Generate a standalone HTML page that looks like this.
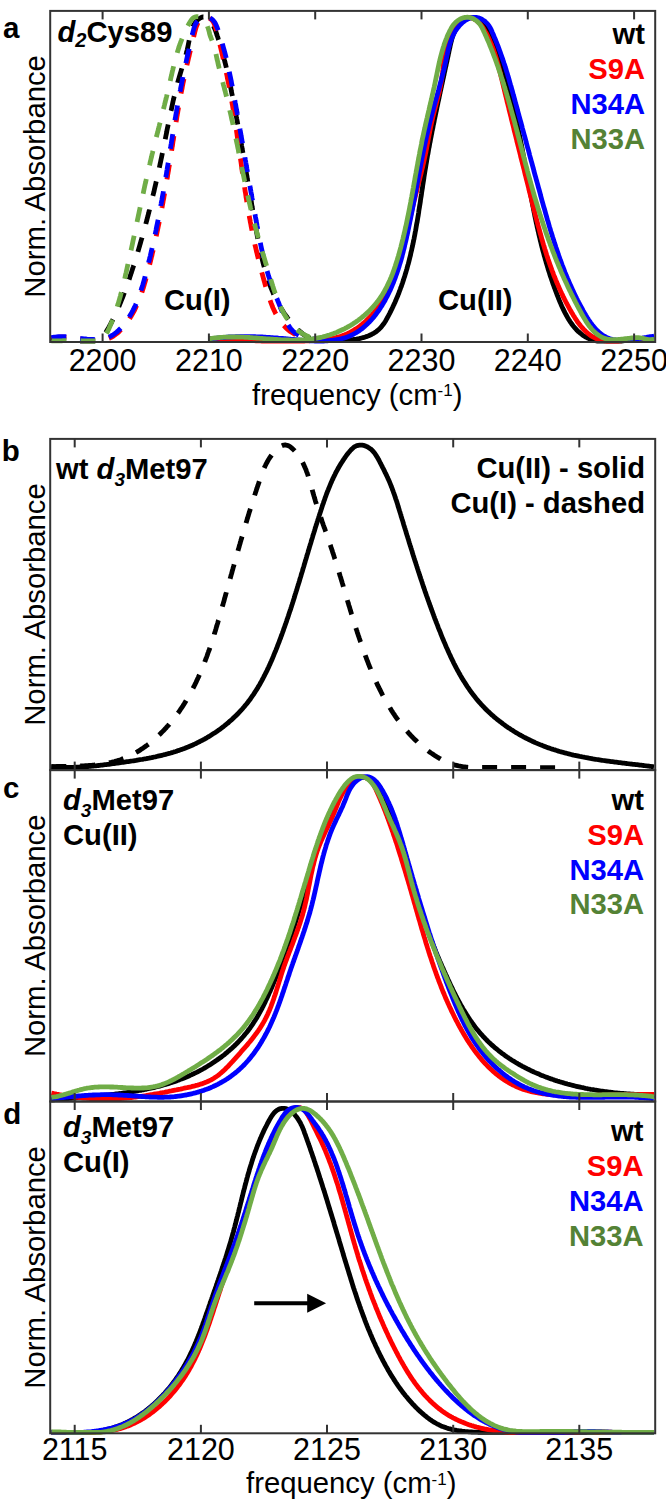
<!DOCTYPE html><html><head><meta charset="utf-8"><style>html,body{margin:0;padding:0;background:#fff;width:666px;height:1504px;overflow:hidden}svg{display:block}text{font-family:"Liberation Sans",sans-serif}</style></head><body>
<svg width="666" height="1504" viewBox="0 0 666 1504">
<path d="M51.3,340.3 L52.6,339.9 L53.8,339.6 L55.2,339.4 L56.5,339.2 L57.9,339.2 L59.4,339.1 L60.8,339.2 L62.3,339.2 L63.8,339.3 L65.4,339.5 L66.9,339.6 L68.5,339.8 L70.1,340.1 L71.6,340.3 L72.8,340.4 L74.0,340.6 L75.2,340.8 L76.8,341.0 L78.4,341.0 L79.9,341.0 L81.5,341.0 L83.0,341.0 L84.6,341.0 L86.1,341.0 L87.5,341.0 L89.0,341.0 L90.4,341.0 L91.8,341.0 L93.1,341.0 L94.4,341.0 L95.7,340.9 L96.9,340.5 L98.1,339.9 L99.2,339.3 L100.3,338.6 L101.3,337.8 L102.2,336.9 L103.1,335.9 L104.0,334.9 L104.8,333.8 L105.7,332.6 L106.4,331.4 L107.2,330.2 L107.9,328.9 L108.6,327.7 L109.3,326.4 L110.0,325.1 L110.7,323.8 L111.4,322.5 L112.0,321.2 L112.7,319.9 L113.4,318.6 L114.0,317.3 L114.6,316.0 L115.2,314.7 L115.9,313.3 L116.5,312.0 L117.1,310.7 L117.7,309.4 L118.2,308.0 L118.8,306.7 L119.4,305.3 L119.9,304.0 L120.5,302.6 L121.0,301.3 L121.6,299.9 L122.1,298.6 L122.7,297.2 L123.2,295.9 L123.7,294.5 L124.2,293.2 L124.7,291.8 L125.2,290.4 L125.7,289.1 L126.2,287.7 L126.7,286.3 L127.2,284.9 L127.7,283.6 L128.1,282.2 L128.6,280.8 L129.1,279.4 L129.6,278.1 L130.0,276.7 L130.5,275.3 L130.9,273.9 L131.4,272.6 L131.8,271.2 L132.3,269.8 L132.7,268.4 L133.2,267.0 L133.6,265.7 L134.1,264.3 L134.5,262.9 L134.9,261.5 L135.3,260.1 L135.8,258.7 L136.2,257.4 L136.6,256.0 L137.0,254.6 L137.5,253.2 L137.9,251.8 L138.3,250.4 L138.7,249.1 L139.1,247.7 L139.5,246.3 L139.9,244.9 L140.3,243.5 L140.7,242.1 L141.1,240.7 L141.5,239.4 L141.9,238.0 L142.3,236.6 L142.7,235.2 L143.1,233.8 L143.5,232.4 L143.9,231.0 L144.3,229.6 L144.6,228.2 L145.0,226.9 L145.4,225.5 L145.8,224.1 L146.1,222.7 L146.5,221.3 L146.9,219.9 L147.2,218.5 L147.6,217.1 L148.0,215.7 L148.3,214.3 L148.7,212.9 L149.0,211.5 L149.4,210.1 L149.7,208.7 L150.1,207.3 L150.4,205.9 L150.8,204.5 L151.1,203.1 L151.5,201.7 L151.8,200.3 L152.2,198.9 L152.5,197.5 L152.8,196.1 L153.2,194.7 L153.5,193.3 L153.9,191.9 L154.2,190.5 L154.5,189.1 L154.8,187.7 L155.2,186.2 L155.5,184.8 L155.8,183.4 L156.1,182.0 L156.5,180.6 L156.8,179.2 L157.1,177.8 L157.4,176.4 L157.7,174.9 L158.0,173.5 L158.4,172.1 L158.7,170.7 L159.0,169.3 L159.3,167.9 L159.6,166.4 L159.9,165.0 L160.2,163.6 L160.5,162.2 L160.8,160.7 L161.1,159.3 L161.4,157.9 L161.7,156.5 L162.0,155.0 L162.3,153.6 L162.6,152.2 L162.9,150.8 L163.2,149.3 L163.5,147.9 L163.8,146.5 L164.1,145.0 L164.4,143.6 L164.7,142.2 L164.9,140.7 L165.2,139.3 L165.5,137.9 L165.8,136.4 L166.1,135.0 L166.4,133.5 L166.7,132.1 L166.9,130.7 L167.2,129.2 L167.5,127.8 L167.8,126.4 L168.1,124.9 L168.4,123.5 L168.7,122.0 L169.0,120.6 L169.3,119.2 L169.6,117.7 L169.9,116.3 L170.1,114.9 L170.4,113.5 L170.7,112.0 L171.1,110.6 L171.4,109.2 L171.7,107.7 L172.0,106.3 L172.3,104.9 L172.6,103.5 L172.9,102.1 L173.2,100.6 L173.6,99.2 L173.9,97.8 L174.2,96.4 L174.6,95.0 L174.9,93.6 L175.2,92.2 L175.6,90.8 L175.9,89.4 L176.3,88.0 L176.6,86.6 L177.0,85.2 L177.4,83.9 L177.7,82.5 L178.1,81.1 L178.5,79.7 L178.9,78.4 L179.3,77.0 L179.7,75.6 L180.1,74.3 L180.5,72.9 L180.9,71.6 L181.3,70.2 L181.7,68.9 L182.1,67.5 L182.5,66.2 L183.0,64.8 L183.4,63.5 L183.8,62.1 L184.2,60.7 L184.6,59.4 L185.0,58.0 L185.4,56.6 L185.8,55.2 L186.2,53.8 L186.6,52.4 L186.9,51.0 L187.3,49.5 L187.6,48.1 L187.9,46.6 L188.2,45.1 L188.5,43.6 L188.8,42.1 L189.1,40.6 L189.4,39.1 L189.7,37.5 L190.0,36.0 L190.4,34.5 L190.7,33.0 L191.1,31.6 L191.6,30.2 L192.1,28.8 L192.6,27.4 L193.2,26.1 L193.8,24.8 L194.6,23.6 L195.4,22.4 L196.3,21.3 L197.2,20.3 L198.3,19.3 L199.4,18.5 L200.7,17.7 L201.9,17.2 L203.3,17.0 L204.6,17.1 L205.9,17.5 L207.1,18.1 L208.3,19.0 L209.4,20.0 L210.4,21.1 L211.3,22.2 L212.2,23.5 L212.9,24.8 L213.6,26.1 L214.2,27.5 L214.8,28.9 L215.4,30.3 L215.9,31.8 L216.4,33.2 L216.8,34.6 L217.3,36.0 L217.8,37.3 L218.2,38.7 L218.7,40.1 L219.1,41.5 L219.6,42.8 L220.0,44.2 L220.4,45.6 L220.8,47.0 L221.2,48.4 L221.6,49.8 L222.0,51.2 L222.4,52.6 L222.8,54.0 L223.2,55.4 L223.6,56.8 L224.0,58.2 L224.3,59.6 L224.7,61.0 L225.0,62.4 L225.4,63.8 L225.7,65.2 L226.1,66.6 L226.4,68.1 L226.7,69.5 L227.1,70.9 L227.4,72.3 L227.7,73.7 L228.0,75.2 L228.3,76.6 L228.7,78.0 L229.0,79.4 L229.3,80.8 L229.6,82.3 L229.9,83.7 L230.2,85.1 L230.5,86.5 L230.8,88.0 L231.1,89.4 L231.3,90.8 L231.6,92.2 L231.9,93.7 L232.2,95.1 L232.5,96.5 L232.8,97.9 L233.0,99.4 L233.3,100.8 L233.6,102.2 L233.9,103.6 L234.2,105.0 L234.4,106.5 L234.7,107.9 L235.0,109.3 L235.2,110.7 L235.5,112.1 L235.8,113.6 L236.1,115.0 L236.3,116.4 L236.6,117.8 L236.8,119.2 L237.1,120.7 L237.4,122.1 L237.6,123.5 L237.9,124.9 L238.2,126.3 L238.4,127.7 L238.7,129.2 L238.9,130.6 L239.2,132.0 L239.4,133.4 L239.7,134.8 L240.0,136.2 L240.2,137.6 L240.5,139.1 L240.7,140.5 L241.0,141.9 L241.2,143.3 L241.5,144.7 L241.7,146.1 L242.0,147.6 L242.2,149.0 L242.5,150.4 L242.7,151.8 L243.0,153.2 L243.2,154.6 L243.4,156.1 L243.7,157.5 L243.9,158.9 L244.2,160.3 L244.4,161.7 L244.7,163.2 L244.9,164.6 L245.2,166.0 L245.4,167.4 L245.6,168.8 L245.9,170.2 L246.1,171.7 L246.4,173.1 L246.6,174.5 L246.9,175.9 L247.1,177.4 L247.3,178.8 L247.6,180.2 L247.8,181.6 L248.1,183.0 L248.3,184.5 L248.6,185.9 L248.8,187.3 L249.1,188.7 L249.3,190.2 L249.5,191.6 L249.8,193.0 L250.0,194.5 L250.3,195.9 L250.5,197.3 L250.8,198.7 L251.0,200.2 L251.3,201.6 L251.5,203.0 L251.7,204.5 L252.0,205.9 L252.2,207.3 L252.5,208.8 L252.7,210.2 L253.0,211.6 L253.2,213.1 L253.5,214.5 L253.7,216.0 L254.0,217.4 L254.2,218.8 L254.5,220.3 L254.7,221.7 L255.0,223.2 L255.3,224.6 L255.5,226.1 L255.8,227.5 L256.0,229.0 L256.3,230.4 L256.5,231.8 L256.8,233.3 L257.1,234.7 L257.3,236.2 L257.6,237.6 L257.9,239.1 L258.2,240.5 L258.5,242.0 L258.7,243.4 L259.0,244.9 L259.3,246.3 L259.6,247.7 L259.9,249.2 L260.2,250.6 L260.5,252.0 L260.9,253.5 L261.2,254.9 L261.5,256.3 L261.8,257.8 L262.2,259.2 L262.5,260.6 L262.9,262.0 L263.2,263.4 L263.6,264.8 L264.0,266.2 L264.4,267.6 L264.8,269.0 L265.1,270.4 L265.6,271.8 L266.0,273.2 L266.4,274.6 L266.8,276.0 L267.3,277.3 L267.7,278.7 L268.2,280.1 L268.6,281.4 L269.1,282.8 L269.6,284.1 L270.1,285.5 L270.6,286.8 L271.1,288.1 L271.7,289.5 L272.2,290.8 L272.8,292.1 L273.3,293.4 L273.9,294.7 L274.5,296.0 L275.1,297.3 L275.7,298.5 L276.4,299.8 L277.0,301.1 L277.7,302.3 L278.3,303.6 L279.0,304.8 L279.7,306.1 L280.4,307.3 L281.2,308.5 L281.9,309.7 L282.7,310.9 L283.4,312.1 L284.2,313.3 L285.0,314.4 L285.9,315.6 L286.7,316.7 L287.5,317.9 L288.4,319.0 L289.3,320.1 L290.2,321.3 L291.1,322.4 L292.1,323.5 L293.0,324.5 L294.0,325.6 L295.0,326.7 L296.0,327.7 L297.0,328.7 L298.1,329.8 L299.1,330.7 L300.2,331.7 L301.3,332.6 L302.4,333.6 L303.6,334.4 L304.7,335.3 L305.9,336.1 L307.1,336.8 L308.4,337.5 L309.6,338.2 L310.9,338.8 L312.1,339.4 L313.4,339.9 L314.8,340.4 L315.8,340.7" fill="none" stroke="#000000" stroke-width="4.8" stroke-linejoin="round" stroke-dasharray="15 14"/>
<path d="M51.4,338.3 L52.7,338.0 L54.1,337.7 L55.5,337.5 L56.9,337.4 L58.3,337.3 L59.8,337.2 L61.2,337.2 L62.7,337.2 L64.2,337.2 L65.7,337.3 L67.2,337.4 L68.7,337.6 L70.2,337.7 L71.7,337.9 L73.3,338.1 L74.8,338.3 L76.4,338.5 L77.9,338.7 L79.5,338.9 L81.0,339.1 L82.6,339.3 L84.1,339.5 L85.6,339.7 L87.2,339.9 L88.7,340.1 L90.2,340.2 L91.7,340.3 L93.2,340.4 L94.7,340.4 L96.2,340.4 L97.7,340.4 L99.1,340.3 L100.5,340.2 L102.0,340.1 L103.3,339.8 L104.7,339.6 L106.1,339.2 L107.4,338.8 L108.7,338.4 L110.0,337.9 L111.2,337.3 L112.5,336.6 L113.7,335.9 L114.8,335.1 L116.0,334.2 L117.1,333.4 L118.2,332.4 L119.3,331.4 L120.3,330.4 L121.4,329.3 L122.4,328.3 L123.3,327.1 L124.3,326.0 L125.2,324.9 L126.1,323.7 L127.0,322.5 L127.8,321.3 L128.7,320.1 L129.5,318.9 L130.3,317.6 L131.0,316.4 L131.8,315.1 L132.5,313.9 L133.2,312.6 L133.9,311.3 L134.6,310.0 L135.2,308.7 L135.8,307.4 L136.4,306.1 L137.0,304.8 L137.6,303.4 L138.2,302.1 L138.7,300.7 L139.3,299.4 L139.8,298.0 L140.3,296.6 L140.8,295.3 L141.3,293.9 L141.8,292.5 L142.3,291.1 L142.7,289.7 L143.2,288.3 L143.6,286.9 L144.0,285.5 L144.4,284.1 L144.9,282.6 L145.3,281.2 L145.7,279.8 L146.0,278.4 L146.4,277.0 L146.8,275.5 L147.2,274.1 L147.6,272.7 L147.9,271.2 L148.3,269.8 L148.7,268.4 L149.0,266.9 L149.4,265.5 L149.8,264.1 L150.1,262.7 L150.5,261.2 L150.8,259.8 L151.2,258.4 L151.5,256.9 L151.9,255.5 L152.2,254.1 L152.5,252.6 L152.9,251.2 L153.2,249.8 L153.5,248.3 L153.9,246.9 L154.2,245.5 L154.5,244.0 L154.8,242.6 L155.1,241.1 L155.5,239.7 L155.8,238.3 L156.1,236.8 L156.4,235.4 L156.7,234.0 L157.0,232.5 L157.3,231.1 L157.6,229.7 L157.9,228.2 L158.2,226.8 L158.5,225.3 L158.8,223.9 L159.1,222.5 L159.4,221.0 L159.7,219.6 L160.0,218.1 L160.2,216.7 L160.5,215.3 L160.8,213.8 L161.1,212.4 L161.3,210.9 L161.6,209.5 L161.9,208.1 L162.2,206.6 L162.4,205.2 L162.7,203.7 L163.0,202.3 L163.2,200.8 L163.5,199.4 L163.8,198.0 L164.0,196.5 L164.3,195.1 L164.5,193.6 L164.8,192.2 L165.0,190.7 L165.3,189.3 L165.5,187.9 L165.8,186.4 L166.0,185.0 L166.3,183.5 L166.5,182.1 L166.8,180.6 L167.0,179.2 L167.3,177.7 L167.5,176.3 L167.7,174.9 L168.0,173.4 L168.2,172.0 L168.5,170.5 L168.7,169.1 L168.9,167.6 L169.2,166.2 L169.4,164.7 L169.6,163.3 L169.9,161.8 L170.1,160.4 L170.3,158.9 L170.6,157.5 L170.8,156.0 L171.0,154.6 L171.2,153.1 L171.5,151.7 L171.7,150.2 L171.9,148.8 L172.1,147.3 L172.4,145.9 L172.6,144.4 L172.8,143.0 L173.0,141.5 L173.3,140.1 L173.5,138.6 L173.7,137.2 L173.9,135.7 L174.2,134.3 L174.4,132.8 L174.6,131.4 L174.8,129.9 L175.1,128.5 L175.3,127.0 L175.5,125.6 L175.8,124.1 L176.0,122.7 L176.2,121.2 L176.5,119.8 L176.7,118.3 L176.9,116.9 L177.2,115.4 L177.4,114.0 L177.7,112.5 L177.9,111.1 L178.2,109.6 L178.4,108.1 L178.7,106.7 L178.9,105.2 L179.2,103.8 L179.4,102.3 L179.7,100.9 L180.0,99.4 L180.2,97.9 L180.5,96.5 L180.8,95.0 L181.0,93.6 L181.3,92.1 L181.6,90.7 L181.9,89.2 L182.2,87.8 L182.4,86.3 L182.7,84.9 L183.0,83.4 L183.3,82.0 L183.6,80.5 L183.9,79.1 L184.2,77.6 L184.5,76.2 L184.8,74.7 L185.1,73.3 L185.4,71.9 L185.7,70.5 L186.1,69.0 L186.4,67.6 L186.7,66.2 L187.0,64.8 L187.3,63.4 L187.7,62.0 L188.0,60.6 L188.3,59.2 L188.6,57.8 L189.0,56.4 L189.3,55.0 L189.6,53.5 L190.0,52.1 L190.3,50.7 L190.6,49.3 L191.0,47.9 L191.3,46.5 L191.7,45.1 L192.0,43.6 L192.4,42.2 L192.7,40.8 L193.1,39.3 L193.4,37.9 L193.8,36.4 L194.1,35.0 L194.5,33.5 L194.8,32.0 L195.2,30.6 L195.6,29.1 L196.0,27.6 L196.5,26.2 L197.1,24.8 L197.7,23.4 L198.4,22.1 L199.3,20.9 L200.3,19.7 L201.4,18.6 L202.6,17.8 L203.9,17.2 L205.2,16.9 L206.7,17.0 L208.1,17.4 L209.4,18.1 L210.6,19.0 L211.7,19.9 L212.6,21.0 L213.4,22.2 L214.1,23.5 L214.6,24.9 L215.1,26.3 L215.6,27.7 L216.0,29.2 L216.4,30.7 L216.8,32.2 L217.1,33.6 L217.5,35.1 L217.9,36.6 L218.3,38.0 L218.6,39.5 L219.0,40.9 L219.4,42.4 L219.7,43.9 L220.1,45.3 L220.4,46.7 L220.8,48.2 L221.1,49.6 L221.5,51.1 L221.8,52.5 L222.1,53.9 L222.5,55.4 L222.8,56.8 L223.1,58.2 L223.5,59.7 L223.8,61.1 L224.1,62.5 L224.4,64.0 L224.7,65.4 L225.0,66.8 L225.4,68.2 L225.7,69.6 L226.0,71.1 L226.3,72.5 L226.6,73.9 L226.9,75.3 L227.2,76.8 L227.4,78.2 L227.7,79.6 L228.0,81.0 L228.3,82.4 L228.6,83.9 L228.9,85.3 L229.1,86.7 L229.4,88.1 L229.7,89.6 L229.9,91.0 L230.2,92.4 L230.5,93.9 L230.7,95.3 L231.0,96.7 L231.2,98.1 L231.5,99.6 L231.7,101.0 L232.0,102.5 L232.2,103.9 L232.5,105.3 L232.7,106.8 L233.0,108.2 L233.2,109.7 L233.4,111.1 L233.7,112.6 L233.9,114.0 L234.1,115.5 L234.4,116.9 L234.6,118.4 L234.8,119.8 L235.0,121.3 L235.3,122.7 L235.5,124.2 L235.7,125.7 L235.9,127.1 L236.1,128.6 L236.4,130.0 L236.6,131.5 L236.8,133.0 L237.0,134.4 L237.2,135.9 L237.4,137.4 L237.6,138.8 L237.9,140.3 L238.1,141.8 L238.3,143.2 L238.5,144.7 L238.7,146.2 L238.9,147.6 L239.1,149.1 L239.3,150.6 L239.5,152.0 L239.7,153.5 L239.9,155.0 L240.1,156.4 L240.3,157.9 L240.6,159.4 L240.8,160.8 L241.0,162.3 L241.2,163.8 L241.4,165.2 L241.6,166.7 L241.8,168.2 L242.0,169.6 L242.2,171.1 L242.4,172.6 L242.6,174.0 L242.8,175.5 L243.1,177.0 L243.3,178.4 L243.5,179.9 L243.7,181.4 L243.9,182.8 L244.1,184.3 L244.3,185.7 L244.6,187.2 L244.8,188.7 L245.0,190.1 L245.2,191.6 L245.5,193.0 L245.7,194.5 L245.9,195.9 L246.1,197.4 L246.4,198.8 L246.6,200.3 L246.8,201.7 L247.1,203.2 L247.3,204.6 L247.5,206.1 L247.8,207.5 L248.0,209.0 L248.3,210.4 L248.5,211.8 L248.8,213.3 L249.0,214.7 L249.3,216.1 L249.5,217.6 L249.8,219.0 L250.1,220.4 L250.3,221.9 L250.6,223.3 L250.9,224.7 L251.1,226.1 L251.4,227.6 L251.7,229.0 L252.0,230.4 L252.2,231.8 L252.5,233.2 L252.8,234.6 L253.1,236.0 L253.4,237.4 L253.7,238.8 L254.0,240.3 L254.3,241.7 L254.6,243.1 L254.9,244.5 L255.2,245.9 L255.6,247.3 L255.9,248.7 L256.2,250.1 L256.5,251.5 L256.9,252.9 L257.2,254.3 L257.5,255.7 L257.9,257.1 L258.2,258.6 L258.6,260.0 L258.9,261.4 L259.3,262.8 L259.7,264.2 L260.0,265.6 L260.4,267.1 L260.8,268.5 L261.1,269.9 L261.5,271.4 L261.9,272.8 L262.3,274.2 L262.7,275.7 L263.1,277.1 L263.5,278.6 L263.9,280.0 L264.3,281.5 L264.7,282.9 L265.1,284.4 L265.5,285.9 L266.0,287.4 L266.4,288.8 L266.8,290.3 L267.3,291.8 L267.7,293.3 L268.2,294.7 L268.7,296.2 L269.2,297.7 L269.7,299.1 L270.2,300.6 L270.7,302.0 L271.2,303.4 L271.8,304.9 L272.3,306.3 L272.9,307.7 L273.5,309.0 L274.1,310.4 L274.8,311.7 L275.4,313.1 L276.1,314.4 L276.8,315.6 L277.5,316.9 L278.3,318.1 L279.0,319.4 L279.8,320.5 L280.6,321.7 L281.5,322.8 L282.3,323.9 L283.2,325.0 L284.2,326.0 L285.1,327.0 L286.1,328.0 L287.1,328.9 L288.1,329.8 L289.2,330.7 L290.3,331.5 L291.5,332.3 L292.7,333.0 L293.9,333.7 L295.1,334.4 L296.4,335.0 L297.7,335.6 L299.0,336.1 L300.3,336.6 L301.7,337.1 L303.1,337.6 L304.4,338.0 L305.8,338.4 L307.3,338.7 L308.7,339.0 L310.1,339.3 L311.5,339.6 L313.0,339.9 L314.4,340.1 L315.8,340.3" fill="none" stroke="#ff0000" stroke-width="4.8" stroke-linejoin="round" stroke-dasharray="15 14"/>
<path d="M51.4,337.8 L52.7,337.4 L54.1,337.2 L55.4,337.0 L56.8,336.8 L58.2,336.7 L59.7,336.6 L61.1,336.6 L62.6,336.6 L64.1,336.7 L65.6,336.7 L67.1,336.8 L68.6,337.0 L70.1,337.1 L71.6,337.3 L73.2,337.5 L74.7,337.7 L76.3,337.9 L77.8,338.1 L79.3,338.3 L80.9,338.5 L82.4,338.6 L84.0,338.8 L85.5,339.0 L87.0,339.2 L88.6,339.3 L90.1,339.4 L91.6,339.5 L93.1,339.5 L94.6,339.6 L96.0,339.6 L97.5,339.5 L98.9,339.4 L100.3,339.3 L101.7,339.1 L103.1,338.8 L104.5,338.5 L105.8,338.2 L107.1,337.8 L108.4,337.3 L109.7,336.7 L110.9,336.1 L112.1,335.4 L113.3,334.7 L114.5,333.8 L115.6,333.0 L116.7,332.1 L117.8,331.1 L118.8,330.1 L119.9,329.1 L120.9,328.1 L121.8,327.0 L122.8,325.9 L123.7,324.7 L124.6,323.6 L125.5,322.4 L126.3,321.3 L127.2,320.1 L128.0,318.9 L128.8,317.7 L129.5,316.4 L130.3,315.2 L131.0,313.9 L131.7,312.7 L132.4,311.4 L133.1,310.1 L133.7,308.8 L134.4,307.5 L135.0,306.2 L135.6,304.9 L136.2,303.5 L136.7,302.2 L137.3,300.8 L137.8,299.5 L138.3,298.1 L138.9,296.7 L139.4,295.3 L139.8,294.0 L140.3,292.6 L140.8,291.2 L141.2,289.8 L141.7,288.3 L142.1,286.9 L142.6,285.5 L143.0,284.1 L143.4,282.7 L143.8,281.3 L144.2,279.8 L144.6,278.4 L145.0,277.0 L145.3,275.5 L145.7,274.1 L146.1,272.7 L146.5,271.2 L146.8,269.8 L147.2,268.4 L147.6,267.0 L147.9,265.5 L148.3,264.1 L148.6,262.7 L149.0,261.2 L149.3,259.8 L149.7,258.4 L150.0,257.0 L150.4,255.5 L150.7,254.1 L151.0,252.7 L151.4,251.2 L151.7,249.8 L152.0,248.4 L152.3,247.0 L152.7,245.5 L153.0,244.1 L153.3,242.7 L153.6,241.3 L153.9,239.8 L154.2,238.4 L154.5,237.0 L154.9,235.6 L155.2,234.1 L155.5,232.7 L155.8,231.3 L156.1,229.9 L156.3,228.4 L156.6,227.0 L156.9,225.6 L157.2,224.1 L157.5,222.7 L157.8,221.3 L158.1,219.9 L158.4,218.4 L158.6,217.0 L158.9,215.6 L159.2,214.2 L159.5,212.7 L159.7,211.3 L160.0,209.9 L160.3,208.4 L160.6,207.0 L160.8,205.6 L161.1,204.1 L161.3,202.7 L161.6,201.3 L161.9,199.9 L162.1,198.4 L162.4,197.0 L162.6,195.6 L162.9,194.1 L163.2,192.7 L163.4,191.2 L163.7,189.8 L163.9,188.4 L164.2,186.9 L164.4,185.5 L164.7,184.1 L164.9,182.6 L165.1,181.2 L165.4,179.7 L165.6,178.3 L165.9,176.9 L166.1,175.4 L166.4,174.0 L166.6,172.5 L166.8,171.1 L167.1,169.6 L167.3,168.2 L167.5,166.7 L167.8,165.3 L168.0,163.8 L168.3,162.4 L168.5,160.9 L168.7,159.5 L169.0,158.0 L169.2,156.6 L169.4,155.1 L169.7,153.7 L169.9,152.2 L170.1,150.7 L170.3,149.3 L170.6,147.8 L170.8,146.4 L171.0,144.9 L171.3,143.4 L171.5,142.0 L171.7,140.5 L172.0,139.1 L172.2,137.6 L172.4,136.1 L172.7,134.7 L172.9,133.2 L173.1,131.7 L173.4,130.3 L173.6,128.8 L173.8,127.4 L174.1,125.9 L174.3,124.5 L174.5,123.0 L174.8,121.5 L175.0,120.1 L175.2,118.6 L175.5,117.2 L175.7,115.7 L176.0,114.3 L176.2,112.8 L176.5,111.4 L176.7,109.9 L177.0,108.5 L177.2,107.0 L177.5,105.6 L177.7,104.2 L178.0,102.7 L178.2,101.3 L178.5,99.9 L178.7,98.4 L179.0,97.0 L179.3,95.6 L179.5,94.2 L179.8,92.8 L180.1,91.3 L180.4,89.9 L180.6,88.5 L180.9,87.1 L181.2,85.7 L181.5,84.3 L181.7,82.9 L182.0,81.4 L182.3,80.0 L182.6,78.6 L182.9,77.2 L183.2,75.8 L183.5,74.4 L183.8,73.0 L184.1,71.6 L184.4,70.2 L184.7,68.7 L185.0,67.3 L185.3,65.9 L185.6,64.5 L185.9,63.1 L186.2,61.6 L186.5,60.2 L186.8,58.8 L187.1,57.4 L187.5,55.9 L187.8,54.5 L188.1,53.1 L188.4,51.6 L188.8,50.2 L189.1,48.7 L189.4,47.3 L189.8,45.8 L190.1,44.4 L190.4,42.9 L190.8,41.5 L191.1,40.0 L191.4,38.5 L191.8,37.0 L192.1,35.6 L192.5,34.1 L192.8,32.6 L193.2,31.1 L193.6,29.6 L194.0,28.1 L194.5,26.7 L195.0,25.3 L195.6,24.0 L196.3,22.7 L197.2,21.5 L198.1,20.5 L199.2,19.5 L200.4,18.7 L201.7,18.0 L203.0,17.4 L204.4,17.1 L205.9,17.0 L207.3,17.1 L208.6,17.4 L209.9,17.9 L211.1,18.6 L212.2,19.4 L213.2,20.4 L214.1,21.5 L214.9,22.7 L215.6,24.0 L216.2,25.3 L216.8,26.7 L217.4,28.2 L217.9,29.6 L218.4,31.1 L218.9,32.6 L219.4,34.0 L219.9,35.5 L220.3,37.0 L220.8,38.4 L221.2,39.9 L221.7,41.3 L222.1,42.8 L222.5,44.2 L222.9,45.7 L223.3,47.1 L223.7,48.6 L224.1,50.0 L224.5,51.4 L224.9,52.9 L225.3,54.3 L225.6,55.7 L226.0,57.2 L226.3,58.6 L226.7,60.0 L227.0,61.4 L227.3,62.9 L227.7,64.3 L228.0,65.7 L228.3,67.1 L228.6,68.6 L228.9,70.0 L229.2,71.4 L229.5,72.8 L229.8,74.3 L230.1,75.7 L230.4,77.1 L230.7,78.5 L231.0,79.9 L231.3,81.3 L231.5,82.8 L231.8,84.2 L232.1,85.6 L232.4,87.0 L232.6,88.4 L232.9,89.9 L233.2,91.3 L233.4,92.7 L233.7,94.1 L233.9,95.6 L234.2,97.0 L234.5,98.4 L234.7,99.8 L235.0,101.3 L235.2,102.7 L235.5,104.1 L235.8,105.5 L236.0,107.0 L236.3,108.4 L236.5,109.8 L236.8,111.3 L237.1,112.7 L237.3,114.1 L237.6,115.6 L237.8,117.0 L238.1,118.4 L238.3,119.9 L238.6,121.3 L238.8,122.7 L239.1,124.2 L239.4,125.6 L239.6,127.0 L239.9,128.5 L240.1,129.9 L240.4,131.4 L240.6,132.8 L240.9,134.2 L241.1,135.7 L241.4,137.1 L241.6,138.6 L241.9,140.0 L242.1,141.5 L242.4,142.9 L242.6,144.3 L242.9,145.8 L243.2,147.2 L243.4,148.7 L243.7,150.1 L243.9,151.6 L244.2,153.0 L244.4,154.5 L244.7,155.9 L244.9,157.4 L245.2,158.8 L245.4,160.2 L245.7,161.7 L245.9,163.1 L246.2,164.6 L246.4,166.0 L246.7,167.5 L246.9,168.9 L247.2,170.4 L247.4,171.8 L247.7,173.3 L248.0,174.7 L248.2,176.2 L248.5,177.6 L248.7,179.1 L249.0,180.5 L249.2,182.0 L249.5,183.4 L249.7,184.9 L250.0,186.3 L250.2,187.8 L250.5,189.2 L250.8,190.7 L251.0,192.1 L251.3,193.6 L251.5,195.0 L251.8,196.5 L252.0,197.9 L252.3,199.4 L252.6,200.8 L252.8,202.3 L253.1,203.7 L253.3,205.2 L253.6,206.6 L253.9,208.1 L254.1,209.5 L254.4,211.0 L254.6,212.4 L254.9,213.9 L255.2,215.3 L255.4,216.7 L255.7,218.2 L256.0,219.6 L256.2,221.1 L256.5,222.5 L256.8,224.0 L257.0,225.4 L257.3,226.9 L257.6,228.3 L257.8,229.7 L258.1,231.2 L258.4,232.6 L258.6,234.1 L258.9,235.5 L259.2,236.9 L259.5,238.4 L259.8,239.8 L260.0,241.3 L260.3,242.7 L260.6,244.1 L260.9,245.6 L261.2,247.0 L261.5,248.4 L261.8,249.8 L262.1,251.3 L262.4,252.7 L262.8,254.1 L263.1,255.5 L263.4,256.9 L263.8,258.3 L264.1,259.8 L264.5,261.2 L264.8,262.6 L265.2,264.0 L265.5,265.4 L265.9,266.8 L266.3,268.2 L266.7,269.5 L267.1,270.9 L267.5,272.3 L267.9,273.7 L268.3,275.1 L268.7,276.4 L269.2,277.8 L269.6,279.2 L270.1,280.5 L270.5,281.9 L271.0,283.3 L271.5,284.6 L272.0,286.0 L272.5,287.3 L273.0,288.6 L273.5,290.0 L274.0,291.3 L274.6,292.7 L275.1,294.1 L275.6,295.4 L276.2,296.8 L276.7,298.1 L277.3,299.5 L277.8,300.9 L278.4,302.3 L279.0,303.7 L279.5,305.1 L280.1,306.5 L280.6,307.9 L281.2,309.4 L281.8,310.8 L282.4,312.3 L282.9,313.7 L283.5,315.2 L284.1,316.6 L284.8,318.1 L285.4,319.5 L286.1,320.9 L286.7,322.2 L287.4,323.6 L288.2,324.8 L289.0,326.1 L289.8,327.3 L290.6,328.4 L291.5,329.5 L292.4,330.6 L293.4,331.5 L294.4,332.4 L295.5,333.3 L296.6,334.0 L297.8,334.7 L299.0,335.3 L300.3,335.9 L301.5,336.4 L302.9,336.9 L304.2,337.3 L305.6,337.7 L307.0,338.0 L308.4,338.3 L309.8,338.5 L311.3,338.7 L312.7,338.9 L314.2,339.1 L315.6,339.3 L316.0,339.3" fill="none" stroke="#0000ff" stroke-width="4.8" stroke-linejoin="round" stroke-dasharray="15 14"/>
<path d="M51.5,340.8 L53.0,340.9 L54.5,340.9 L55.9,340.9 L57.4,340.9 L58.8,340.8 L60.3,340.8 L61.7,340.8 L63.1,340.7 L64.5,340.7 L65.9,340.7 L67.3,340.6 L68.8,340.6 L70.2,340.6 L71.6,340.6 L73.0,340.6 L74.5,340.6 L75.9,340.6 L77.4,340.6 L78.8,340.7 L80.3,340.7 L81.8,340.8 L83.4,340.9 L84.9,341.0 L86.5,341.0 L88.0,341.0 L89.6,341.0 L91.1,341.0 L92.7,341.0 L94.1,341.0 L95.6,341.0 L97.0,341.0 L98.3,340.7 L99.5,340.3 L100.7,339.7 L101.8,339.0 L102.8,338.2 L103.7,337.3 L104.6,336.3 L105.4,335.2 L106.2,334.0 L106.9,332.8 L107.6,331.5 L108.2,330.1 L108.9,328.8 L109.5,327.4 L110.1,326.0 L110.6,324.7 L111.2,323.3 L111.8,321.9 L112.3,320.6 L112.9,319.2 L113.4,317.8 L113.9,316.4 L114.4,315.0 L114.9,313.7 L115.4,312.3 L115.8,310.9 L116.3,309.5 L116.7,308.1 L117.2,306.7 L117.6,305.3 L118.1,303.9 L118.5,302.6 L118.9,301.2 L119.3,299.8 L119.7,298.4 L120.1,297.0 L120.5,295.6 L120.8,294.2 L121.2,292.8 L121.6,291.4 L121.9,290.0 L122.3,288.6 L122.6,287.2 L123.0,285.8 L123.3,284.4 L123.7,283.0 L124.0,281.6 L124.3,280.2 L124.7,278.8 L125.0,277.4 L125.3,275.9 L125.6,274.5 L126.0,273.1 L126.3,271.7 L126.6,270.3 L126.9,268.9 L127.2,267.5 L127.5,266.1 L127.9,264.7 L128.2,263.3 L128.5,261.8 L128.8,260.4 L129.1,259.0 L129.4,257.6 L129.7,256.2 L130.0,254.8 L130.3,253.4 L130.7,251.9 L131.0,250.5 L131.3,249.1 L131.6,247.7 L131.9,246.3 L132.2,244.9 L132.5,243.5 L132.8,242.0 L133.1,240.6 L133.4,239.2 L133.7,237.8 L134.0,236.4 L134.3,234.9 L134.6,233.5 L134.9,232.1 L135.2,230.7 L135.5,229.3 L135.8,227.9 L136.1,226.4 L136.4,225.0 L136.7,223.6 L137.0,222.2 L137.3,220.8 L137.6,219.3 L137.9,217.9 L138.2,216.5 L138.5,215.1 L138.8,213.7 L139.1,212.2 L139.4,210.8 L139.7,209.4 L140.0,208.0 L140.3,206.6 L140.6,205.2 L140.9,203.7 L141.2,202.3 L141.5,200.9 L141.8,199.5 L142.1,198.1 L142.4,196.6 L142.8,195.2 L143.1,193.8 L143.4,192.4 L143.7,191.0 L144.0,189.6 L144.3,188.1 L144.6,186.7 L144.9,185.3 L145.2,183.9 L145.6,182.5 L145.9,181.1 L146.2,179.6 L146.5,178.2 L146.8,176.8 L147.2,175.4 L147.5,174.0 L147.8,172.6 L148.1,171.2 L148.4,169.7 L148.8,168.3 L149.1,166.9 L149.4,165.5 L149.8,164.1 L150.1,162.7 L150.4,161.3 L150.8,159.9 L151.1,158.4 L151.5,157.0 L151.8,155.6 L152.1,154.2 L152.5,152.8 L152.8,151.4 L153.2,150.0 L153.5,148.6 L153.9,147.2 L154.2,145.8 L154.6,144.4 L154.9,143.0 L155.3,141.6 L155.6,140.2 L156.0,138.8 L156.3,137.4 L156.7,135.9 L157.0,134.5 L157.4,133.1 L157.8,131.7 L158.1,130.3 L158.5,128.9 L158.8,127.5 L159.2,126.1 L159.5,124.7 L159.9,123.3 L160.3,121.9 L160.6,120.5 L161.0,119.1 L161.3,117.7 L161.7,116.3 L162.0,114.9 L162.4,113.5 L162.7,112.1 L163.1,110.7 L163.4,109.3 L163.8,107.9 L164.1,106.5 L164.5,105.0 L164.8,103.6 L165.2,102.2 L165.5,100.8 L165.9,99.4 L166.2,98.0 L166.6,96.6 L166.9,95.2 L167.2,93.8 L167.6,92.4 L167.9,91.0 L168.2,89.5 L168.6,88.1 L168.9,86.7 L169.2,85.3 L169.5,83.9 L169.9,82.5 L170.2,81.1 L170.5,79.6 L170.8,78.2 L171.1,76.8 L171.5,75.4 L171.8,74.0 L172.1,72.6 L172.4,71.2 L172.8,69.8 L173.1,68.3 L173.5,66.9 L173.8,65.5 L174.1,64.1 L174.5,62.7 L174.9,61.3 L175.2,59.9 L175.6,58.5 L176.0,57.1 L176.4,55.7 L176.8,54.3 L177.2,52.9 L177.6,51.5 L178.0,50.2 L178.4,48.8 L178.9,47.4 L179.3,46.0 L179.8,44.7 L180.3,43.3 L180.8,41.9 L181.3,40.6 L181.8,39.2 L182.3,37.9 L182.9,36.5 L183.5,35.2 L184.0,33.8 L184.6,32.5 L185.2,31.2 L185.9,29.8 L186.5,28.5 L187.2,27.2 L187.8,25.9 L188.5,24.6 L189.3,23.3 L190.0,22.0 L190.8,20.8 L191.6,19.6 L192.5,18.6 L193.6,17.7 L194.8,17.1 L196.2,16.7 L197.6,16.6 L199.0,16.7 L200.3,17.1 L201.5,17.7 L202.6,18.5 L203.6,19.5 L204.6,20.7 L205.4,22.0 L206.2,23.3 L206.7,24.4 L207.2,25.5 L207.6,26.7 L208.0,27.8 L208.4,29.0 L208.8,30.5 L209.2,31.9 L209.5,33.4 L209.9,34.8 L210.3,36.1 L210.8,37.4 L211.3,38.7 L211.8,40.0 L212.3,41.3 L212.8,42.6 L213.2,43.9 L213.6,45.3 L214.1,46.6 L214.5,48.0 L214.8,49.4 L215.2,50.8 L215.5,52.2 L215.9,53.7 L216.2,55.1 L216.5,56.6 L216.8,58.0 L217.1,59.5 L217.5,60.9 L217.8,62.3 L218.1,63.8 L218.4,65.2 L218.8,66.6 L219.1,68.0 L219.5,69.5 L219.8,70.9 L220.2,72.3 L220.5,73.7 L220.9,75.1 L221.2,76.5 L221.6,77.9 L222.0,79.3 L222.3,80.6 L222.7,82.0 L223.1,83.4 L223.4,84.8 L223.8,86.2 L224.2,87.6 L224.5,89.0 L224.9,90.4 L225.3,91.7 L225.6,93.1 L226.0,94.5 L226.3,95.9 L226.7,97.3 L227.0,98.7 L227.4,100.1 L227.7,101.5 L228.0,102.9 L228.4,104.3 L228.7,105.7 L229.1,107.1 L229.4,108.6 L229.7,110.0 L230.0,111.4 L230.4,112.8 L230.7,114.2 L231.0,115.6 L231.3,117.0 L231.6,118.5 L231.9,119.9 L232.3,121.3 L232.6,122.7 L232.9,124.1 L233.2,125.6 L233.5,127.0 L233.8,128.4 L234.1,129.8 L234.4,131.3 L234.7,132.7 L235.0,134.1 L235.3,135.5 L235.6,137.0 L235.9,138.4 L236.2,139.8 L236.5,141.3 L236.8,142.7 L237.1,144.1 L237.4,145.5 L237.7,147.0 L238.0,148.4 L238.3,149.8 L238.5,151.3 L238.8,152.7 L239.1,154.1 L239.4,155.6 L239.7,157.0 L240.0,158.4 L240.3,159.9 L240.6,161.3 L240.9,162.7 L241.2,164.2 L241.5,165.6 L241.7,167.0 L242.0,168.4 L242.3,169.9 L242.6,171.3 L242.9,172.7 L243.2,174.2 L243.5,175.6 L243.8,177.0 L244.1,178.4 L244.4,179.9 L244.7,181.3 L245.0,182.7 L245.3,184.1 L245.6,185.5 L245.9,187.0 L246.2,188.4 L246.5,189.8 L246.8,191.2 L247.1,192.6 L247.4,194.1 L247.8,195.5 L248.1,196.9 L248.4,198.3 L248.7,199.7 L249.0,201.1 L249.3,202.5 L249.7,203.9 L250.0,205.3 L250.3,206.7 L250.6,208.1 L251.0,209.5 L251.3,210.9 L251.6,212.3 L252.0,213.7 L252.3,215.1 L252.7,216.5 L253.0,217.9 L253.4,219.3 L253.7,220.7 L254.1,222.0 L254.4,223.4 L254.8,224.8 L255.2,226.2 L255.5,227.6 L255.9,228.9 L256.3,230.3 L256.6,231.7 L257.0,233.0 L257.4,234.4 L257.8,235.8 L258.1,237.2 L258.5,238.5 L258.9,239.9 L259.3,241.3 L259.7,242.6 L260.1,244.0 L260.5,245.4 L260.9,246.8 L261.3,248.1 L261.7,249.5 L262.1,250.9 L262.5,252.3 L262.9,253.6 L263.3,255.0 L263.7,256.4 L264.2,257.8 L264.6,259.2 L265.0,260.6 L265.4,262.0 L265.8,263.4 L266.3,264.8 L266.7,266.2 L267.1,267.6 L267.5,269.0 L268.0,270.4 L268.4,271.8 L268.8,273.2 L269.3,274.7 L269.7,276.1 L270.1,277.5 L270.6,279.0 L271.0,280.4 L271.5,281.8 L271.9,283.3 L272.4,284.7 L272.8,286.2 L273.3,287.6 L273.7,289.1 L274.2,290.5 L274.7,291.9 L275.2,293.4 L275.7,294.8 L276.2,296.2 L276.7,297.6 L277.2,299.0 L277.8,300.4 L278.3,301.8 L278.9,303.2 L279.5,304.5 L280.1,305.9 L280.7,307.2 L281.3,308.6 L282.0,309.9 L282.6,311.2 L283.3,312.4 L284.0,313.7 L284.7,314.9 L285.4,316.2 L286.2,317.4 L287.0,318.5 L287.8,319.7 L288.6,320.8 L289.4,321.9 L290.3,323.0 L291.2,324.1 L292.1,325.1 L293.0,326.1 L294.0,327.1 L295.0,328.0 L296.0,329.0 L297.0,329.8 L298.1,330.7 L299.2,331.5 L300.4,332.3 L301.5,333.1 L302.7,333.8 L303.9,334.5 L305.2,335.1 L306.5,335.8 L307.8,336.3 L309.1,336.9 L310.4,337.4 L311.7,337.9 L313.1,338.4 L314.5,338.8 L315.9,339.2" fill="none" stroke="#70ad47" stroke-width="4.8" stroke-linejoin="round" stroke-dasharray="15 14"/>
<path d="M209.0,339.0 L210.2,339.0 L211.5,339.0 L212.7,339.1 L213.9,339.1 L215.1,339.1 L216.4,339.1 L217.6,339.2 L218.8,339.2 L220.1,339.2 L221.3,339.2 L222.5,339.3 L223.7,339.3 L225.0,339.3 L226.2,339.3 L227.4,339.4 L228.7,339.4 L229.9,339.4 L231.1,339.4 L232.3,339.5 L233.6,339.5 L234.8,339.5 L236.0,339.5 L237.3,339.6 L238.5,339.6 L239.7,339.6 L241.0,339.6 L242.2,339.7 L243.4,339.7 L244.7,339.7 L245.9,339.7 L247.1,339.8 L248.3,339.8 L249.6,339.8 L250.8,339.8 L252.0,339.8 L253.3,339.9 L254.5,339.9 L255.7,339.9 L257.0,339.9 L258.2,340.0 L259.4,340.0 L260.7,340.0 L261.9,340.0 L263.1,340.0 L264.4,340.0 L265.6,340.1 L266.8,340.1 L268.0,340.1 L269.3,340.1 L270.5,340.1 L271.7,340.1 L273.0,340.2 L274.2,340.2 L275.4,340.2 L276.7,340.2 L277.9,340.2 L279.1,340.2 L280.3,340.2 L281.6,340.2 L282.8,340.2 L284.0,340.2 L285.3,340.2 L286.5,340.3 L287.7,340.3 L288.9,340.3 L290.2,340.3 L291.4,340.3 L292.6,340.3 L293.8,340.3 L295.1,340.3 L296.3,340.3 L297.5,340.3 L298.8,340.3 L300.0,340.3 L301.2,340.3 L302.4,340.3 L303.7,340.3 L304.9,340.3 L306.1,340.3 L307.3,340.2 L308.6,340.2 L309.8,340.2 L311.0,340.2 L312.3,340.2 L313.5,340.2 L314.7,340.2 L315.9,340.2 L317.2,340.2 L318.4,340.3 L319.6,340.3 L320.8,340.3 L322.1,340.3 L323.3,340.3 L324.5,340.3 L325.8,340.3 L327.0,340.3 L328.2,340.3 L329.5,340.3 L330.7,340.3 L331.9,340.3 L333.2,340.3 L334.4,340.3 L335.6,340.4 L336.8,340.4 L338.1,340.4 L339.3,340.4 L340.6,340.3 L341.8,340.3 L343.0,340.3 L344.3,340.2 L345.5,340.2 L346.7,340.1 L348.0,340.1 L349.2,340.0 L350.4,339.9 L351.7,339.7 L352.9,339.6 L354.2,339.4 L355.4,339.3 L356.6,339.1 L357.9,338.8 L359.1,338.6 L360.3,338.3 L361.6,338.0 L362.8,337.7 L364.0,337.4 L365.2,337.0 L366.3,336.6 L367.5,336.2 L368.7,335.8 L369.8,335.3 L370.9,334.8 L372.0,334.2 L373.0,333.7 L374.1,333.0 L375.3,332.2 L376.5,331.4 L377.7,330.4 L378.8,329.5 L379.9,328.4 L380.9,327.3 L381.9,326.2 L382.6,325.2 L383.3,324.3 L384.0,323.3 L384.7,322.3 L385.4,321.2 L386.0,320.2 L386.6,319.1 L387.2,318.0 L387.8,316.9 L388.4,315.8 L389.0,314.7 L389.6,313.6 L390.1,312.5 L390.7,311.4 L391.2,310.3 L391.8,309.2 L392.3,308.1 L392.8,307.0 L393.3,305.8 L393.9,304.7 L394.4,303.6 L394.9,302.5 L395.4,301.3 L395.9,300.2 L396.3,299.1 L396.8,297.9 L397.3,296.8 L397.8,295.7 L398.2,294.5 L398.7,293.4 L399.1,292.2 L399.5,291.1 L400.0,289.9 L400.4,288.8 L400.8,287.6 L401.3,286.5 L401.7,285.3 L402.1,284.1 L402.5,283.0 L402.9,281.8 L403.3,280.6 L403.6,279.5 L404.0,278.3 L404.4,277.1 L404.8,276.0 L405.1,274.8 L405.5,273.6 L405.8,272.4 L406.2,271.2 L406.5,270.1 L406.9,268.9 L407.2,267.7 L407.5,266.5 L407.8,265.3 L408.2,264.2 L408.5,263.0 L408.8,261.8 L409.1,260.6 L409.4,259.4 L409.7,258.2 L410.0,257.0 L410.3,255.8 L410.6,254.6 L410.8,253.4 L411.1,252.2 L411.4,251.0 L411.7,249.8 L411.9,248.6 L412.2,247.4 L412.5,246.2 L412.7,245.0 L413.0,243.8 L413.2,242.6 L413.5,241.4 L413.7,240.2 L414.0,239.0 L414.2,237.8 L414.4,236.6 L414.7,235.4 L414.9,234.2 L415.1,233.0 L415.3,231.8 L415.6,230.5 L415.8,229.3 L416.0,228.1 L416.2,226.9 L416.4,225.7 L416.6,224.5 L416.8,223.3 L417.1,222.1 L417.3,220.8 L417.5,219.6 L417.7,218.4 L417.9,217.2 L418.1,216.0 L418.3,214.8 L418.5,213.5 L418.7,212.3 L418.8,211.1 L419.0,209.9 L419.2,208.7 L419.4,207.5 L419.6,206.2 L419.8,205.0 L420.0,203.8 L420.2,202.6 L420.4,201.4 L420.5,200.1 L420.7,198.9 L420.9,197.7 L421.1,196.5 L421.3,195.3 L421.5,194.0 L421.6,192.8 L421.8,191.6 L422.0,190.4 L422.2,189.2 L422.4,188.0 L422.6,186.7 L422.7,185.5 L422.9,184.3 L423.1,183.1 L423.3,181.9 L423.5,180.7 L423.7,179.4 L423.9,178.2 L424.0,177.0 L424.2,175.8 L424.4,174.6 L424.6,173.4 L424.8,172.2 L425.0,170.9 L425.2,169.7 L425.4,168.5 L425.6,167.3 L425.8,166.1 L426.0,164.9 L426.2,163.7 L426.4,162.5 L426.6,161.3 L426.8,160.0 L427.0,158.8 L427.2,157.6 L427.4,156.4 L427.6,155.2 L427.9,154.0 L428.1,152.8 L428.3,151.6 L428.5,150.4 L428.7,149.2 L428.9,148.0 L429.2,146.8 L429.4,145.6 L429.6,144.4 L429.8,143.2 L430.1,142.0 L430.3,140.8 L430.5,139.6 L430.7,138.4 L431.0,137.2 L431.2,136.0 L431.4,134.8 L431.7,133.6 L431.9,132.4 L432.1,131.2 L432.4,130.0 L432.6,128.8 L432.9,127.6 L433.1,126.4 L433.3,125.2 L433.6,124.0 L433.8,122.8 L434.1,121.6 L434.3,120.4 L434.5,119.2 L434.8,118.0 L435.0,116.8 L435.3,115.6 L435.5,114.4 L435.8,113.2 L436.0,112.0 L436.3,110.8 L436.5,109.6 L436.8,108.4 L437.0,107.2 L437.3,106.0 L437.5,104.8 L437.8,103.6 L438.0,102.4 L438.3,101.2 L438.6,100.0 L438.8,98.8 L439.1,97.6 L439.3,96.4 L439.6,95.2 L439.8,94.0 L440.1,92.8 L440.3,91.6 L440.6,90.4 L440.9,89.2 L441.1,88.0 L441.4,86.8 L441.6,85.6 L441.9,84.4 L442.2,83.2 L442.4,82.0 L442.7,80.8 L442.9,79.6 L443.2,78.4 L443.5,77.2 L443.7,76.0 L444.0,74.8 L444.2,73.6 L444.5,72.3 L444.8,71.1 L445.0,69.9 L445.3,68.7 L445.5,67.5 L445.8,66.3 L446.1,65.1 L446.3,63.9 L446.6,62.7 L446.9,61.5 L447.1,60.3 L447.4,59.0 L447.6,57.8 L447.9,56.6 L448.2,55.4 L448.4,54.2 L448.7,53.0 L448.9,51.8 L449.2,50.5 L449.4,49.3 L449.7,48.1 L450.0,46.9 L450.2,45.7 L450.5,44.5 L450.8,43.2 L451.1,42.0 L451.4,40.8 L451.7,39.6 L452.0,38.4 L452.4,37.3 L452.8,36.1 L453.2,34.9 L453.6,33.8 L454.1,32.7 L454.6,31.6 L455.2,30.5 L455.8,29.4 L456.4,28.4 L457.1,27.3 L457.8,26.3 L458.6,25.3 L459.5,24.4 L460.4,23.4 L461.3,22.5 L462.3,21.7 L463.3,20.9 L464.4,20.2 L465.5,19.5 L466.6,18.9 L467.7,18.5 L469.1,18.0 L470.6,17.7 L472.0,17.6 L473.4,17.8 L474.8,18.1 L476.2,18.6 L477.5,19.2 L478.5,19.9 L479.6,20.6 L480.5,21.4 L481.5,22.2 L482.4,23.1 L483.3,24.1 L484.1,25.1 L484.9,26.2 L485.7,27.2 L486.4,28.4 L487.2,29.5 L487.8,30.6 L488.5,31.7 L489.1,32.9 L489.7,34.0 L490.3,35.1 L490.9,36.3 L491.4,37.4 L491.9,38.5 L492.4,39.6 L493.0,40.7 L493.4,41.8 L493.9,43.0 L494.4,44.1 L494.8,45.2 L495.3,46.3 L495.7,47.4 L496.2,48.6 L496.6,49.7 L497.0,50.8 L497.4,52.0 L497.8,53.1 L498.3,54.2 L498.7,55.4 L499.1,56.5 L499.5,57.7 L499.8,58.9 L500.2,60.0 L500.6,61.2 L501.0,62.3 L501.4,63.5 L501.8,64.7 L502.1,65.8 L502.5,67.0 L502.9,68.2 L503.2,69.3 L503.6,70.5 L503.9,71.7 L504.3,72.8 L504.7,74.0 L505.0,75.2 L505.3,76.4 L505.7,77.6 L506.0,78.7 L506.4,79.9 L506.7,81.1 L507.0,82.3 L507.4,83.5 L507.7,84.6 L508.0,85.8 L508.3,87.0 L508.6,88.2 L509.0,89.4 L509.3,90.6 L509.6,91.8 L509.9,93.0 L510.2,94.2 L510.5,95.3 L510.8,96.5 L511.1,97.7 L511.4,98.9 L511.7,100.1 L512.0,101.3 L512.3,102.5 L512.6,103.7 L512.8,104.9 L513.1,106.1 L513.4,107.3 L513.7,108.5 L514.0,109.7 L514.2,110.9 L514.5,112.1 L514.8,113.3 L515.1,114.5 L515.3,115.7 L515.6,117.0 L515.9,118.2 L516.1,119.4 L516.4,120.6 L516.6,121.8 L516.9,123.0 L517.2,124.2 L517.4,125.4 L517.7,126.6 L517.9,127.8 L518.2,129.0 L518.4,130.2 L518.7,131.5 L518.9,132.7 L519.2,133.9 L519.4,135.1 L519.6,136.3 L519.9,137.5 L520.1,138.7 L520.4,139.9 L520.6,141.1 L520.8,142.4 L521.1,143.6 L521.3,144.8 L521.6,146.0 L521.8,147.2 L522.0,148.4 L522.3,149.6 L522.5,150.8 L522.7,152.1 L522.9,153.3 L523.2,154.5 L523.4,155.7 L523.6,156.9 L523.9,158.1 L524.1,159.3 L524.3,160.5 L524.5,161.8 L524.8,163.0 L525.0,164.2 L525.2,165.4 L525.4,166.6 L525.7,167.8 L525.9,169.0 L526.1,170.2 L526.3,171.4 L526.6,172.6 L526.8,173.9 L527.0,175.1 L527.2,176.3 L527.5,177.5 L527.7,178.7 L527.9,179.9 L528.1,181.1 L528.4,182.3 L528.6,183.5 L528.8,184.7 L529.0,185.9 L529.2,187.1 L529.5,188.3 L529.7,189.5 L529.9,190.7 L530.1,191.9 L530.4,193.1 L530.6,194.3 L530.8,195.5 L531.1,196.7 L531.3,197.9 L531.5,199.1 L531.7,200.3 L532.0,201.5 L532.2,202.7 L532.4,203.9 L532.7,205.1 L532.9,206.3 L533.2,207.5 L533.4,208.7 L533.6,209.9 L533.9,211.1 L534.1,212.3 L534.4,213.5 L534.6,214.7 L534.8,215.9 L535.1,217.1 L535.3,218.2 L535.6,219.4 L535.8,220.6 L536.1,221.8 L536.3,223.0 L536.6,224.2 L536.9,225.4 L537.1,226.6 L537.4,227.8 L537.7,229.0 L537.9,230.1 L538.2,231.3 L538.5,232.5 L538.7,233.7 L539.0,234.9 L539.3,236.1 L539.6,237.3 L539.9,238.5 L540.1,239.7 L540.4,240.8 L540.7,242.0 L541.0,243.2 L541.3,244.4 L541.6,245.6 L541.9,246.8 L542.2,248.0 L542.5,249.1 L542.8,250.3 L543.1,251.5 L543.5,252.7 L543.8,253.9 L544.1,255.1 L544.4,256.3 L544.8,257.4 L545.1,258.6 L545.4,259.8 L545.8,261.0 L546.1,262.2 L546.5,263.4 L546.8,264.5 L547.2,265.7 L547.5,266.9 L547.9,268.1 L548.2,269.3 L548.6,270.5 L549.0,271.7 L549.4,272.8 L549.7,274.0 L550.1,275.2 L550.5,276.4 L550.9,277.6 L551.3,278.8 L551.7,279.9 L552.1,281.1 L552.5,282.3 L552.9,283.5 L553.3,284.7 L553.8,285.9 L554.2,287.1 L554.6,288.2 L555.1,289.4 L555.5,290.6 L556.0,291.8 L556.4,293.0 L556.9,294.2 L557.3,295.4 L557.8,296.6 L558.3,297.7 L558.7,298.9 L559.2,300.1 L559.7,301.3 L560.2,302.5 L560.7,303.6 L561.2,304.8 L561.7,306.0 L562.2,307.1 L562.8,308.3 L563.3,309.4 L563.9,310.6 L564.4,311.7 L565.0,312.8 L565.6,313.9 L566.2,315.0 L566.8,316.1 L567.4,317.2 L568.0,318.2 L568.6,319.3 L569.3,320.3 L569.9,321.3 L570.6,322.3 L571.4,323.5 L572.3,324.7 L573.2,325.9 L574.1,327.0 L575.1,328.2 L576.0,329.2 L577.0,330.3 L578.0,331.3 L579.1,332.2 L580.2,333.1 L581.3,334.0 L582.4,334.9 L583.5,335.7 L584.7,336.4 L585.9,337.1 L587.1,337.8 L588.4,338.4 L589.7,339.0 L591.1,339.5 L592.4,339.9 L593.8,340.3 L595.2,340.7 L596.7,341.0 L598.2,341.0 L599.4,341.0 L600.7,341.0 L601.9,341.0 L603.2,341.0 L604.4,341.0 L605.7,341.0 L607.0,341.0 L608.3,341.0 L609.6,341.0 L611.0,341.0 L612.3,341.0 L613.6,341.0 L615.0,341.0 L616.3,341.0 L617.6,341.0 L619.0,341.0 L620.3,341.0 L621.6,341.0 L623.0,340.9 L624.3,340.7 L625.6,340.6 L626.9,340.5 L628.2,340.4 L629.5,340.3 L630.8,340.2 L632.0,340.1 L633.3,340.0 L634.5,340.0 L635.7,339.9 L636.9,339.9 L638.4,339.9 L639.9,339.9 L641.3,339.9 L642.8,339.9 L644.2,340.0 L645.6,340.0 L647.1,340.1 L648.5,340.2 L650.0,340.3 L651.5,340.4 L652.7,340.5 L653.9,340.6 L654.2,340.6" fill="none" stroke="#000000" stroke-width="4.8" stroke-linejoin="round"/>
<path d="M209.3,338.8 L210.5,338.9 L211.7,338.9 L212.9,339.0 L214.1,339.0 L215.3,339.1 L216.5,339.1 L217.7,339.2 L218.9,339.2 L220.2,339.3 L221.4,339.3 L222.6,339.4 L223.8,339.4 L225.0,339.5 L226.2,339.5 L227.4,339.6 L228.6,339.6 L229.8,339.7 L231.0,339.8 L232.2,339.8 L233.4,339.9 L234.6,339.9 L235.8,340.0 L237.0,340.0 L238.2,340.1 L239.4,340.1 L240.6,340.2 L241.8,340.2 L243.0,340.3 L244.2,340.3 L245.4,340.4 L246.9,340.4 L248.4,340.5 L249.9,340.6 L251.4,340.6 L252.9,340.7 L254.4,340.7 L255.9,340.8 L257.4,340.8 L258.9,340.9 L260.4,340.9 L261.9,341.0 L263.4,341.0 L264.9,341.0 L266.4,341.0 L267.9,341.0 L269.4,341.0 L270.9,341.0 L272.4,341.0 L273.9,341.0 L275.4,341.0 L276.9,341.0 L278.4,341.0 L279.9,341.0 L281.4,341.0 L282.6,341.0 L283.8,341.0 L285.0,341.0 L286.2,341.0 L287.4,341.0 L288.6,341.0 L289.8,341.0 L291.0,341.0 L292.2,341.0 L293.4,341.0 L294.6,341.0 L295.8,341.0 L297.0,341.0 L298.2,341.0 L299.4,341.0 L300.6,341.0 L301.8,341.0 L303.0,341.0 L304.2,341.0 L305.4,340.9 L306.6,340.9 L307.9,340.8 L309.1,340.8 L310.3,340.7 L311.5,340.6 L312.7,340.5 L313.9,340.5 L315.1,340.4 L316.3,340.3 L317.6,340.2 L318.8,340.1 L320.0,340.0 L321.2,339.9 L322.4,339.8 L323.6,339.7 L324.8,339.5 L326.0,339.4 L327.2,339.2 L328.4,339.1 L329.6,338.9 L330.8,338.7 L332.0,338.5 L333.5,338.2 L334.9,337.9 L336.4,337.5 L337.8,337.1 L339.2,336.7 L340.7,336.3 L342.1,335.8 L343.4,335.3 L344.8,334.8 L346.2,334.2 L347.5,333.6 L348.8,333.0 L350.1,332.3 L351.4,331.6 L352.7,330.9 L354.0,330.1 L355.2,329.3 L356.5,328.5 L357.7,327.7 L358.9,326.8 L360.1,325.9 L361.2,325.0 L362.4,324.1 L363.5,323.1 L364.7,322.2 L365.8,321.2 L366.8,320.1 L367.9,319.1 L369.0,318.0 L370.0,317.0 L371.0,315.9 L372.0,314.8 L373.0,313.6 L374.0,312.5 L374.9,311.3 L375.7,310.4 L376.4,309.4 L377.1,308.5 L377.9,307.5 L378.6,306.5 L379.3,305.6 L379.9,304.6 L380.6,303.6 L381.3,302.6 L381.9,301.5 L382.6,300.5 L383.2,299.5 L383.8,298.4 L384.5,297.4 L385.1,296.4 L385.7,295.3 L386.3,294.2 L386.8,293.2 L387.4,292.1 L388.0,291.0 L388.5,289.9 L389.0,288.8 L389.6,287.7 L390.1,286.6 L390.6,285.5 L391.1,284.4 L391.6,283.3 L392.1,282.2 L392.6,281.1 L393.1,279.9 L393.5,278.8 L394.0,277.7 L394.4,276.6 L394.9,275.4 L395.3,274.3 L395.7,273.1 L396.1,272.0 L396.5,270.9 L396.9,269.7 L397.3,268.6 L397.7,267.4 L398.1,266.3 L398.5,265.1 L398.8,264.0 L399.2,262.8 L399.6,261.7 L399.9,260.5 L400.2,259.4 L400.6,258.2 L400.9,257.1 L401.3,255.6 L401.7,254.2 L402.1,252.7 L402.5,251.3 L402.8,249.8 L403.2,248.4 L403.6,246.9 L403.9,245.5 L404.3,244.0 L404.6,242.6 L405.0,241.1 L405.3,239.7 L405.7,238.2 L406.0,236.8 L406.3,235.3 L406.6,233.8 L407.0,232.4 L407.3,230.9 L407.6,229.5 L407.9,228.0 L408.2,226.5 L408.6,225.1 L408.9,223.6 L409.2,222.2 L409.5,220.7 L409.8,219.2 L410.2,217.8 L410.5,216.3 L410.8,214.8 L411.2,213.4 L411.4,212.2 L411.7,211.0 L412.0,209.9 L412.2,208.7 L412.5,207.5 L412.8,206.4 L413.1,205.2 L413.4,204.0 L413.6,202.8 L413.9,201.7 L414.2,200.5 L414.5,199.3 L414.8,198.2 L415.1,197.0 L415.4,195.8 L415.7,194.7 L416.0,193.5 L416.3,192.3 L416.6,191.2 L416.9,190.0 L417.2,188.8 L417.4,187.6 L417.7,186.5 L418.0,185.3 L418.3,184.1 L418.6,183.0 L418.9,181.8 L419.2,180.6 L419.5,179.5 L419.8,178.3 L420.1,177.1 L420.4,175.9 L420.7,174.8 L421.0,173.6 L421.3,172.4 L421.5,171.3 L421.8,170.1 L422.1,168.9 L422.4,167.7 L422.7,166.6 L422.9,165.4 L423.2,164.2 L423.5,163.0 L423.7,161.9 L424.0,160.7 L424.3,159.5 L424.5,158.3 L424.8,157.2 L425.0,156.0 L425.3,154.8 L425.5,153.6 L425.8,152.5 L426.0,151.3 L426.2,150.1 L426.5,148.9 L426.7,147.7 L426.9,146.6 L427.1,145.4 L427.3,144.2 L427.6,143.0 L427.8,141.8 L428.0,140.7 L428.2,139.5 L428.4,138.3 L428.7,137.1 L428.9,135.9 L429.1,134.8 L429.3,133.6 L429.6,132.4 L429.8,131.2 L430.0,130.0 L430.3,128.9 L430.5,127.7 L430.7,126.5 L431.0,125.3 L431.2,124.2 L431.5,123.0 L431.7,121.8 L432.0,120.6 L432.3,119.5 L432.5,118.3 L432.8,117.1 L433.1,115.9 L433.4,114.8 L433.7,113.6 L434.0,112.4 L434.3,111.3 L434.6,110.1 L434.9,108.9 L435.2,107.8 L435.5,106.6 L435.8,105.4 L436.1,104.3 L436.4,103.1 L436.7,101.9 L437.0,100.7 L437.3,99.6 L437.6,98.4 L437.9,97.2 L438.2,96.1 L438.5,94.9 L438.8,93.7 L439.1,92.6 L439.4,91.4 L439.6,90.2 L439.9,89.0 L440.1,87.9 L440.4,86.7 L440.6,85.5 L440.9,84.0 L441.1,82.6 L441.4,81.1 L441.6,79.6 L441.8,78.1 L442.0,76.6 L442.2,75.1 L442.4,73.7 L442.6,72.2 L442.7,70.7 L442.9,69.2 L443.0,67.7 L443.2,66.2 L443.4,64.8 L443.5,63.3 L443.7,61.8 L443.9,60.3 L444.1,58.9 L444.3,57.4 L444.5,55.9 L444.8,54.4 L445.0,53.0 L445.3,51.5 L445.6,50.1 L445.9,48.6 L446.3,47.2 L446.6,45.7 L447.0,44.3 L447.5,42.9 L448.0,41.5 L448.4,40.3 L448.8,39.2 L449.2,38.1 L449.7,37.0 L450.2,35.8 L450.8,34.7 L451.3,33.6 L451.9,32.5 L452.5,31.4 L453.2,30.4 L453.9,29.3 L454.6,28.2 L455.4,27.2 L456.1,26.2 L457.0,25.2 L457.8,24.2 L458.7,23.2 L459.7,22.3 L460.6,21.5 L461.6,20.7 L462.7,20.0 L463.7,19.3 L465.0,18.7 L466.3,18.1 L467.7,17.8 L469.0,17.7 L470.4,17.7 L471.7,18.0 L473.0,18.5 L474.3,19.1 L475.6,19.9 L476.6,20.6 L477.5,21.4 L478.5,22.2 L479.4,23.1 L480.2,24.1 L481.0,25.1 L481.8,26.1 L482.6,27.1 L483.3,28.1 L483.9,29.2 L484.6,30.3 L485.2,31.4 L485.8,32.4 L486.4,33.5 L487.0,34.6 L487.5,35.7 L488.1,36.8 L488.6,37.9 L489.1,39.0 L489.6,40.1 L490.1,41.3 L490.6,42.4 L491.1,43.5 L491.5,44.6 L492.0,45.7 L492.4,46.9 L492.8,48.0 L493.3,49.1 L493.7,50.2 L494.1,51.4 L494.5,52.8 L495.0,54.2 L495.5,55.6 L495.9,57.1 L496.4,58.5 L496.8,59.9 L497.2,61.4 L497.6,62.8 L498.0,64.2 L498.4,65.7 L498.8,67.1 L499.1,68.6 L499.5,70.0 L499.9,71.5 L500.2,72.9 L500.6,74.4 L500.9,75.8 L501.3,77.3 L501.6,78.7 L502.0,80.2 L502.3,81.6 L502.7,83.1 L503.0,84.5 L503.4,86.0 L503.7,87.4 L504.1,88.9 L504.4,90.4 L504.8,91.8 L505.1,93.3 L505.5,94.7 L505.8,96.2 L506.2,97.6 L506.5,98.8 L506.8,100.0 L507.0,101.1 L507.3,102.3 L507.6,103.5 L507.9,104.6 L508.2,105.8 L508.5,107.0 L508.8,108.1 L509.0,109.3 L509.3,110.5 L509.6,111.7 L509.9,112.8 L510.2,114.0 L510.5,115.2 L510.8,116.3 L511.1,117.5 L511.3,118.7 L511.6,119.8 L511.9,121.0 L512.2,122.2 L512.5,123.3 L512.8,124.5 L513.1,125.7 L513.4,126.8 L513.7,128.0 L513.9,129.2 L514.2,130.4 L514.5,131.5 L514.8,132.7 L515.1,133.9 L515.4,135.0 L515.7,136.2 L516.0,137.4 L516.3,138.5 L516.6,139.7 L516.8,140.9 L517.1,142.1 L517.4,143.2 L517.7,144.4 L518.0,145.6 L518.3,146.7 L518.6,147.9 L518.9,149.1 L519.2,150.3 L519.5,151.4 L519.8,152.6 L520.1,153.8 L520.4,154.9 L520.6,156.1 L520.9,157.3 L521.2,158.5 L521.5,159.6 L521.8,160.8 L522.1,162.0 L522.4,163.1 L522.7,164.3 L523.0,165.5 L523.3,166.6 L523.6,167.8 L523.9,169.0 L524.2,170.2 L524.5,171.3 L524.7,172.5 L525.0,173.7 L525.3,174.8 L525.6,176.0 L525.9,177.2 L526.2,178.4 L526.5,179.5 L526.8,180.7 L527.1,181.9 L527.4,183.0 L527.7,184.2 L528.0,185.4 L528.3,186.5 L528.6,187.7 L528.8,188.9 L529.1,190.1 L529.4,191.2 L529.7,192.4 L530.0,193.6 L530.3,194.7 L530.6,195.9 L530.9,197.1 L531.2,198.2 L531.5,199.4 L531.8,200.6 L532.1,201.8 L532.3,202.9 L532.6,204.1 L532.9,205.3 L533.2,206.4 L533.5,207.6 L533.8,208.8 L534.1,209.9 L534.4,211.1 L534.7,212.3 L535.0,213.4 L535.3,214.6 L535.6,215.8 L535.9,216.9 L536.2,218.1 L536.5,219.2 L536.8,220.4 L537.1,221.6 L537.4,222.7 L537.7,223.9 L538.0,225.1 L538.3,226.2 L538.6,227.4 L539.0,228.5 L539.3,229.7 L539.6,230.9 L539.9,232.0 L540.2,233.2 L540.5,234.3 L540.9,235.5 L541.2,236.6 L541.5,237.8 L541.8,239.0 L542.3,240.4 L542.7,241.8 L543.1,243.3 L543.5,244.7 L544.0,246.1 L544.4,247.6 L544.8,249.0 L545.3,250.4 L545.7,251.9 L546.2,253.3 L546.6,254.7 L547.1,256.2 L547.6,257.6 L548.0,259.0 L548.5,260.4 L549.0,261.8 L549.5,263.3 L550.0,264.7 L550.5,266.1 L551.0,267.5 L551.4,268.6 L551.8,269.8 L552.2,270.9 L552.7,272.0 L553.1,273.1 L553.5,274.3 L553.9,275.4 L554.4,276.5 L554.8,277.6 L555.3,278.7 L555.7,279.8 L556.2,281.0 L556.6,282.1 L557.1,283.2 L557.6,284.3 L558.1,285.4 L558.5,286.5 L559.0,287.6 L559.5,288.7 L560.0,289.8 L560.5,290.9 L561.0,292.0 L561.5,293.1 L562.1,294.2 L562.6,295.3 L563.1,296.4 L563.6,297.5 L564.2,298.6 L564.7,299.7 L565.3,300.7 L565.8,301.8 L566.4,302.9 L567.0,304.0 L567.5,305.1 L568.1,306.1 L568.7,307.2 L569.3,308.3 L569.9,309.4 L570.5,310.4 L571.1,311.5 L571.7,312.6 L572.4,313.6 L573.0,314.7 L573.6,315.7 L574.3,316.8 L574.9,317.8 L575.6,318.8 L576.3,319.9 L577.0,320.9 L577.6,321.9 L578.4,322.9 L579.1,323.8 L579.8,324.8 L580.7,326.0 L581.7,327.1 L582.6,328.3 L583.6,329.3 L584.6,330.4 L585.7,331.4 L586.7,332.4 L587.8,333.3 L588.9,334.2 L590.0,335.1 L591.2,335.9 L592.4,336.6 L593.6,337.3 L594.9,337.9 L596.1,338.5 L597.5,339.1 L598.8,339.5 L600.2,339.9 L601.6,340.3 L603.0,340.5 L604.5,340.8 L605.7,340.9 L606.9,341.0 L608.1,341.0 L609.4,341.0 L610.6,341.0 L611.9,341.0 L613.1,341.0 L614.4,341.0 L615.7,341.0 L616.9,341.0 L618.2,341.0 L619.5,340.9 L620.8,340.8 L622.1,340.7 L623.4,340.6 L624.7,340.5 L626.0,340.4 L627.2,340.3 L628.5,340.2 L629.8,340.1 L631.0,340.0 L632.3,339.9 L633.5,339.9 L634.7,339.8 L635.9,339.8 L637.4,339.8 L638.9,339.8 L640.3,339.8 L641.8,339.8 L643.2,339.9 L644.6,340.0 L646.1,340.1 L647.5,340.2 L648.9,340.3 L650.4,340.4 L651.8,340.5 L653.3,340.6 L653.9,340.6" fill="none" stroke="#ff0000" stroke-width="4.8" stroke-linejoin="round"/>
<path d="M209.1,339.1 L210.4,338.9 L211.7,338.8 L212.9,338.6 L214.2,338.4 L215.4,338.3 L216.7,338.1 L217.9,338.0 L219.2,337.8 L220.4,337.7 L221.6,337.6 L222.8,337.5 L224.1,337.4 L225.3,337.3 L226.5,337.2 L227.7,337.1 L228.9,337.0 L230.1,337.0 L231.6,336.9 L233.1,336.8 L234.5,336.8 L236.0,336.7 L237.5,336.7 L239.0,336.6 L240.4,336.6 L241.9,336.6 L243.4,336.6 L244.8,336.6 L246.3,336.6 L247.7,336.6 L249.2,336.6 L250.6,336.6 L252.1,336.6 L253.6,336.7 L255.0,336.7 L256.4,336.8 L257.9,336.8 L259.3,336.9 L260.8,337.0 L262.3,337.0 L263.7,337.1 L265.2,337.2 L266.6,337.3 L268.1,337.4 L269.5,337.5 L271.0,337.6 L272.5,337.7 L273.9,337.8 L275.4,337.9 L276.9,338.0 L278.4,338.2 L279.8,338.3 L281.3,338.4 L282.8,338.5 L284.0,338.6 L285.2,338.7 L286.4,338.9 L287.6,339.0 L288.9,339.1 L290.1,339.2 L291.3,339.3 L292.5,339.4 L293.8,339.5 L295.0,339.6 L296.2,339.7 L297.5,339.8 L298.7,340.0 L300.0,340.1 L301.2,340.2 L302.5,340.3 L303.7,340.4 L305.0,340.5 L306.2,340.5 L307.5,340.6 L308.8,340.7 L310.0,340.8 L311.3,340.8 L312.5,340.9 L313.8,340.9 L315.0,341.0 L316.3,341.0 L317.5,341.0 L318.8,341.0 L320.0,341.0 L321.3,341.0 L322.5,341.0 L323.7,341.0 L325.0,340.9 L326.2,340.9 L327.4,340.8 L328.6,340.7 L329.8,340.6 L331.0,340.5 L332.2,340.4 L333.7,340.2 L335.2,340.0 L336.7,339.7 L338.1,339.5 L339.6,339.2 L341.0,338.9 L342.4,338.5 L343.8,338.1 L345.2,337.7 L346.5,337.2 L347.9,336.7 L349.2,336.2 L350.5,335.6 L351.8,335.0 L353.1,334.4 L354.3,333.7 L355.5,333.0 L356.8,332.3 L358.0,331.5 L359.2,330.7 L360.3,329.9 L361.5,329.0 L362.6,328.2 L363.7,327.2 L364.8,326.3 L365.9,325.3 L367.0,324.3 L368.0,323.3 L369.1,322.3 L370.1,321.2 L371.1,320.1 L372.1,319.0 L373.0,317.9 L374.0,316.8 L374.9,315.6 L375.7,314.7 L376.4,313.7 L377.1,312.7 L377.8,311.7 L378.5,310.8 L379.2,309.8 L379.9,308.7 L380.5,307.7 L381.2,306.7 L381.8,305.7 L382.5,304.6 L383.1,303.6 L383.7,302.5 L384.4,301.4 L385.0,300.4 L385.5,299.3 L386.1,298.2 L386.7,297.1 L387.3,296.0 L387.8,294.9 L388.4,293.8 L388.9,292.7 L389.4,291.6 L390.0,290.5 L390.5,289.4 L391.0,288.2 L391.5,287.1 L391.9,286.0 L392.4,284.9 L392.9,283.7 L393.4,282.6 L393.8,281.5 L394.2,280.4 L394.7,279.2 L395.1,278.1 L395.5,277.0 L395.9,275.8 L396.3,274.7 L396.7,273.6 L397.2,272.2 L397.7,270.7 L398.2,269.3 L398.6,267.9 L399.1,266.5 L399.5,265.0 L399.9,263.6 L400.4,262.2 L400.8,260.8 L401.2,259.3 L401.6,257.9 L402.0,256.5 L402.3,255.0 L402.7,253.6 L403.1,252.2 L403.4,250.7 L403.8,249.3 L404.2,247.8 L404.5,246.4 L404.8,244.9 L405.2,243.5 L405.5,242.1 L405.9,240.6 L406.2,239.2 L406.5,237.7 L406.8,236.2 L407.2,234.8 L407.5,233.3 L407.8,231.9 L408.1,230.4 L408.4,229.0 L408.7,227.5 L409.0,226.0 L409.3,224.6 L409.6,223.1 L409.9,221.6 L410.2,220.2 L410.5,218.7 L410.8,217.2 L411.1,215.8 L411.4,214.3 L411.6,213.1 L411.9,211.9 L412.1,210.8 L412.3,209.6 L412.6,208.4 L412.8,207.2 L413.0,206.0 L413.2,204.9 L413.5,203.7 L413.7,202.5 L413.9,201.3 L414.1,200.1 L414.3,198.9 L414.6,197.8 L414.8,196.6 L415.0,195.4 L415.2,194.2 L415.5,193.0 L415.7,191.8 L415.9,190.7 L416.1,189.5 L416.3,188.3 L416.6,187.1 L416.8,185.9 L417.0,184.7 L417.2,183.6 L417.4,182.4 L417.7,181.2 L417.9,180.0 L418.1,178.8 L418.3,177.6 L418.5,176.4 L418.8,175.3 L419.0,174.1 L419.2,172.9 L419.4,171.7 L419.7,170.5 L419.9,169.3 L420.1,168.2 L420.3,167.0 L420.6,165.8 L420.8,164.6 L421.0,163.4 L421.3,162.2 L421.5,161.1 L421.7,159.9 L421.9,158.7 L422.2,157.5 L422.4,156.3 L422.7,155.2 L422.9,154.0 L423.1,152.8 L423.4,151.6 L423.6,150.5 L423.8,149.3 L424.1,148.1 L424.3,146.9 L424.6,145.7 L424.8,144.6 L425.1,143.1 L425.5,141.6 L425.8,140.2 L426.1,138.7 L426.4,137.2 L426.7,135.8 L427.1,134.3 L427.4,132.9 L427.7,131.4 L428.1,130.0 L428.4,128.5 L428.7,127.0 L429.1,125.6 L429.4,124.1 L429.8,122.7 L430.1,121.2 L430.5,119.8 L430.9,118.4 L431.2,116.9 L431.6,115.5 L432.0,114.0 L432.4,112.6 L432.8,111.2 L433.1,109.7 L433.5,108.3 L433.9,106.9 L434.3,105.4 L434.7,104.0 L435.1,102.6 L435.5,101.1 L435.9,99.7 L436.3,98.3 L436.7,96.8 L437.1,95.4 L437.5,94.0 L437.9,92.5 L438.3,91.1 L438.7,89.6 L439.0,88.2 L439.4,86.8 L439.8,85.3 L440.2,83.9 L440.6,82.4 L441.0,81.0 L441.4,79.5 L441.7,78.1 L442.0,76.9 L442.3,75.8 L442.6,74.6 L442.9,73.4 L443.2,72.3 L443.5,71.1 L443.8,69.9 L444.1,68.7 L444.3,67.6 L444.6,66.4 L444.9,65.2 L445.1,64.0 L445.4,62.8 L445.7,61.6 L445.9,60.4 L446.2,59.3 L446.4,58.1 L446.7,56.9 L446.9,55.7 L447.2,54.5 L447.4,53.3 L447.7,52.1 L448.0,50.9 L448.3,49.7 L448.5,48.5 L448.8,47.4 L449.2,46.2 L449.5,45.0 L449.8,43.9 L450.2,42.7 L450.7,41.3 L451.2,39.9 L451.7,38.5 L452.3,37.1 L452.9,35.8 L453.5,34.4 L454.2,33.1 L454.9,31.8 L455.7,30.5 L456.5,29.3 L457.2,28.3 L458.0,27.4 L458.8,26.4 L459.6,25.5 L460.4,24.6 L461.3,23.7 L462.2,22.8 L463.2,22.0 L464.2,21.3 L465.2,20.5 L466.2,19.9 L467.3,19.3 L468.4,18.7 L469.7,18.2 L471.1,17.7 L472.6,17.4 L474.0,17.3 L475.5,17.3 L476.9,17.5 L478.4,17.8 L479.5,18.2 L480.7,18.7 L481.8,19.2 L482.8,19.9 L483.9,20.6 L484.9,21.3 L485.8,22.2 L486.7,23.0 L487.6,24.0 L488.3,24.9 L489.1,25.9 L489.7,27.0 L490.3,28.0 L490.9,29.1 L491.4,30.2 L491.9,31.3 L492.3,32.4 L492.8,33.5 L493.3,34.6 L493.8,35.7 L494.2,36.9 L494.7,38.0 L495.3,39.3 L495.8,40.7 L496.4,42.1 L496.9,43.5 L497.5,44.9 L498.0,46.3 L498.6,47.7 L499.1,49.1 L499.6,50.5 L500.1,51.9 L500.6,53.3 L501.1,54.7 L501.6,56.1 L502.1,57.5 L502.6,58.9 L503.1,60.4 L503.6,61.8 L504.0,63.2 L504.5,64.6 L505.0,66.0 L505.4,67.5 L505.9,68.9 L506.3,70.3 L506.7,71.8 L507.2,73.2 L507.6,74.6 L508.0,76.1 L508.5,77.5 L508.9,78.9 L509.3,80.4 L509.7,81.8 L510.1,83.3 L510.5,84.7 L510.9,85.9 L511.2,87.0 L511.5,88.2 L511.8,89.3 L512.2,90.5 L512.5,91.6 L512.8,92.8 L513.1,94.0 L513.4,95.1 L513.8,96.3 L514.1,97.4 L514.4,98.6 L514.7,99.7 L515.0,100.9 L515.3,102.1 L515.7,103.2 L516.0,104.4 L516.4,105.8 L516.8,107.3 L517.2,108.7 L517.5,110.2 L517.9,111.6 L518.3,113.1 L518.7,114.5 L519.1,116.0 L519.5,117.4 L519.9,118.8 L520.3,120.3 L520.7,121.7 L521.1,123.2 L521.5,124.6 L521.9,126.1 L522.2,127.5 L522.6,129.0 L523.0,130.4 L523.4,131.9 L523.8,133.3 L524.2,134.8 L524.6,136.2 L525.0,137.7 L525.4,139.1 L525.8,140.6 L526.1,142.0 L526.5,143.4 L526.9,144.9 L527.3,146.3 L527.7,147.8 L528.1,149.2 L528.5,150.7 L528.9,152.1 L529.3,153.6 L529.6,155.0 L530.0,156.5 L530.4,157.9 L530.8,159.4 L531.2,160.8 L531.6,162.2 L532.0,163.7 L532.4,165.1 L532.8,166.6 L533.2,168.0 L533.6,169.5 L533.9,170.9 L534.3,172.4 L534.7,173.8 L535.1,175.3 L535.5,176.7 L535.9,178.2 L536.3,179.6 L536.7,181.0 L537.1,182.5 L537.5,183.9 L537.9,185.4 L538.3,186.8 L538.7,188.3 L539.1,189.7 L539.5,191.2 L539.9,192.6 L540.3,194.1 L540.6,195.5 L541.0,196.9 L541.4,198.4 L541.8,199.8 L542.2,201.3 L542.6,202.7 L543.0,204.2 L543.4,205.6 L543.8,207.1 L544.3,208.5 L544.7,209.9 L545.1,211.4 L545.5,212.8 L545.9,214.3 L546.3,215.7 L546.7,217.2 L547.1,218.6 L547.5,220.0 L548.0,221.5 L548.4,222.9 L548.8,224.3 L549.2,225.8 L549.6,227.2 L550.1,228.7 L550.5,230.1 L550.9,231.5 L551.4,233.0 L551.8,234.4 L552.3,235.8 L552.7,237.2 L553.2,238.7 L553.6,240.1 L554.1,241.5 L554.5,243.0 L555.0,244.4 L555.5,245.8 L555.9,247.2 L556.4,248.6 L556.9,250.1 L557.4,251.5 L557.9,252.9 L558.3,254.3 L558.8,255.7 L559.3,257.1 L559.8,258.6 L560.3,260.0 L560.9,261.4 L561.4,262.8 L561.9,264.2 L562.4,265.6 L563.0,267.0 L563.5,268.4 L564.0,269.8 L564.6,271.2 L565.1,272.6 L565.7,274.0 L566.1,275.1 L566.6,276.2 L567.1,277.3 L567.5,278.4 L568.0,279.5 L568.5,280.6 L568.9,281.7 L569.4,282.8 L569.9,283.9 L570.4,285.0 L570.9,286.1 L571.4,287.2 L571.9,288.3 L572.4,289.4 L572.9,290.5 L573.4,291.6 L573.9,292.7 L574.4,293.8 L574.9,294.9 L575.5,296.0 L576.0,297.0 L576.5,298.1 L577.1,299.2 L577.6,300.3 L578.2,301.4 L578.7,302.4 L579.3,303.5 L579.8,304.6 L580.4,305.6 L581.0,306.7 L581.6,307.8 L582.2,308.8 L582.7,309.9 L583.3,311.0 L583.9,312.0 L584.5,313.1 L585.2,314.1 L585.8,315.2 L586.4,316.2 L587.0,317.3 L587.7,318.3 L588.3,319.3 L589.0,320.3 L589.7,321.3 L590.5,322.6 L591.4,323.8 L592.3,325.0 L593.2,326.1 L594.1,327.2 L595.1,328.3 L596.0,329.4 L597.0,330.4 L598.1,331.4 L599.1,332.4 L600.2,333.3 L601.3,334.1 L602.4,334.9 L603.6,335.7 L604.8,336.4 L606.0,337.1 L607.3,337.7 L608.6,338.2 L609.9,338.7 L611.3,339.1 L612.7,339.5 L614.2,339.8 L615.7,340.0 L616.9,340.1 L618.1,340.2 L619.3,340.3 L620.6,340.4 L621.8,340.4 L623.1,340.4 L624.4,340.4 L625.7,340.3 L627.0,340.2 L628.3,340.1 L629.6,340.0 L630.9,339.9 L632.2,339.7 L633.5,339.6 L634.8,339.4 L636.1,339.2 L637.3,339.0 L638.6,338.8 L639.9,338.6 L641.1,338.4 L642.4,338.2 L643.6,337.9 L644.8,337.7 L646.0,337.5 L647.4,337.2 L648.8,337.0 L650.2,336.7 L651.5,336.5 L652.8,336.3 L654.1,336.1" fill="none" stroke="#0000ff" stroke-width="4.8" stroke-linejoin="round"/>
<path d="M209.0,338.8 L210.5,338.6 L212.0,338.4 L213.5,338.2 L214.9,338.0 L216.4,337.8 L217.9,337.6 L219.4,337.5 L220.8,337.4 L222.3,337.3 L223.8,337.2 L225.3,337.1 L226.8,337.1 L228.3,337.0 L229.8,337.0 L231.2,337.0 L232.7,337.0 L234.2,337.0 L235.7,337.0 L237.2,337.0 L238.7,337.0 L240.2,337.1 L241.7,337.1 L243.2,337.2 L244.7,337.3 L246.2,337.4 L247.7,337.4 L249.2,337.5 L250.7,337.6 L252.1,337.7 L253.6,337.8 L255.1,337.9 L256.6,338.0 L257.8,338.1 L259.0,338.2 L260.5,338.3 L262.0,338.4 L263.5,338.6 L265.0,338.7 L266.5,338.8 L268.0,338.9 L269.5,339.0 L271.0,339.1 L272.5,339.2 L274.0,339.3 L275.5,339.4 L276.9,339.5 L278.4,339.6 L279.9,339.7 L281.4,339.8 L282.9,339.8 L284.4,339.9 L285.9,340.0 L287.3,340.0 L288.8,340.0 L290.3,340.1 L291.8,340.1 L293.3,340.1 L294.7,340.1 L296.2,340.1 L297.7,340.0 L299.2,340.0 L300.6,339.9 L302.1,339.8 L303.6,339.8 L305.0,339.6 L306.5,339.5 L307.9,339.4 L309.4,339.2 L310.8,339.1 L312.3,338.9 L313.7,338.7 L315.2,338.4 L316.6,338.2 L318.1,337.9 L319.5,337.6 L321.0,337.3 L322.4,337.0 L323.8,336.6 L325.3,336.2 L326.7,335.8 L328.1,335.4 L329.5,335.0 L330.9,334.5 L332.3,334.0 L333.7,333.5 L335.1,332.9 L336.5,332.4 L337.9,331.8 L339.0,331.3 L340.1,330.8 L341.2,330.3 L342.3,329.8 L343.4,329.3 L344.4,328.8 L345.5,328.2 L346.6,327.6 L347.6,327.0 L348.7,326.5 L349.7,325.9 L350.8,325.2 L351.8,324.6 L352.8,324.0 L353.8,323.3 L354.8,322.6 L355.8,322.0 L356.8,321.3 L357.8,320.6 L358.8,319.9 L359.7,319.1 L360.7,318.4 L361.6,317.7 L362.6,316.9 L363.5,316.1 L364.4,315.4 L365.3,314.6 L366.4,313.6 L367.5,312.6 L368.6,311.5 L369.7,310.5 L370.7,309.4 L371.8,308.3 L372.8,307.3 L373.8,306.1 L374.7,305.0 L375.7,303.9 L376.6,302.7 L377.5,301.6 L378.4,300.4 L379.3,299.2 L380.1,298.0 L381.0,296.8 L381.8,295.5 L382.6,294.3 L383.3,293.0 L384.1,291.8 L384.8,290.5 L385.5,289.2 L386.2,287.9 L386.9,286.6 L387.5,285.2 L388.2,283.9 L388.8,282.6 L389.4,281.2 L390.0,279.9 L390.6,278.5 L391.2,277.1 L391.7,275.8 L392.3,274.4 L392.8,273.0 L393.3,271.6 L393.8,270.2 L394.3,268.8 L394.8,267.4 L395.3,265.9 L395.7,264.5 L396.2,263.1 L396.6,261.7 L397.1,260.2 L397.5,258.8 L397.9,257.4 L398.4,255.9 L398.8,254.5 L399.2,253.1 L399.6,251.6 L400.0,250.2 L400.4,248.7 L400.8,247.3 L401.1,245.9 L401.5,244.4 L401.9,243.0 L402.2,241.5 L402.6,240.1 L403.0,238.6 L403.3,237.2 L403.7,235.7 L404.0,234.3 L404.3,232.8 L404.7,231.4 L405.0,229.9 L405.3,228.5 L405.6,227.0 L406.0,225.6 L406.3,224.1 L406.6,222.6 L406.9,221.2 L407.2,219.7 L407.5,218.3 L407.8,216.8 L408.1,215.4 L408.4,213.9 L408.7,212.4 L409.0,211.0 L409.3,209.5 L409.6,208.1 L409.8,206.6 L410.1,205.1 L410.4,203.7 L410.7,202.2 L410.9,200.8 L411.2,199.3 L411.5,197.8 L411.8,196.4 L412.0,194.9 L412.3,193.4 L412.6,192.0 L412.8,190.5 L413.1,189.1 L413.4,187.6 L413.6,186.1 L413.9,184.7 L414.1,183.2 L414.4,181.7 L414.7,180.3 L414.9,178.8 L415.2,177.3 L415.4,175.9 L415.7,174.4 L416.0,172.9 L416.2,171.5 L416.5,170.0 L416.8,168.6 L417.0,167.1 L417.3,165.6 L417.6,164.2 L417.8,162.7 L418.1,161.2 L418.4,159.8 L418.6,158.3 L418.9,156.9 L419.2,155.4 L419.5,153.9 L419.7,152.5 L420.0,151.0 L420.3,149.6 L420.6,148.1 L420.9,146.6 L421.2,145.2 L421.5,143.7 L421.7,142.3 L422.0,140.8 L422.3,139.3 L422.6,137.9 L423.0,136.4 L423.3,135.0 L423.6,133.5 L423.9,132.1 L424.2,130.6 L424.5,129.2 L424.9,127.7 L425.2,126.3 L425.5,124.8 L425.8,123.4 L426.2,121.9 L426.5,120.5 L426.8,119.0 L427.2,117.5 L427.5,116.1 L427.8,114.6 L428.2,113.2 L428.5,111.7 L428.9,110.3 L429.2,108.8 L429.5,107.4 L429.9,105.9 L430.2,104.5 L430.5,103.0 L430.9,101.6 L431.2,100.1 L431.6,98.7 L431.9,97.2 L432.2,95.8 L432.5,94.3 L432.9,92.9 L433.2,91.4 L433.5,90.0 L433.8,88.5 L434.2,87.0 L434.5,85.6 L434.8,84.1 L435.1,82.7 L435.4,81.2 L435.7,79.7 L436.0,78.3 L436.3,76.8 L436.6,75.4 L436.9,73.9 L437.2,72.4 L437.5,71.0 L437.8,69.5 L438.1,68.1 L438.4,66.6 L438.7,65.1 L439.0,63.7 L439.4,62.2 L439.7,60.8 L440.0,59.3 L440.4,57.9 L440.7,56.5 L441.1,55.0 L441.5,53.6 L441.9,52.2 L442.3,50.7 L442.7,49.3 L443.1,47.9 L443.6,46.5 L444.0,45.1 L444.5,43.6 L445.0,42.2 L445.5,40.8 L446.0,39.5 L446.6,38.1 L447.1,36.7 L447.7,35.3 L448.3,34.0 L449.0,32.6 L449.5,31.5 L450.0,30.4 L450.6,29.4 L451.2,28.3 L451.8,27.3 L452.6,26.0 L453.5,24.8 L454.3,23.9 L455.1,23.0 L455.9,22.2 L456.9,21.4 L457.8,20.6 L458.8,19.9 L459.9,19.2 L461.0,18.7 L462.1,18.2 L463.3,17.8 L464.4,17.5 L465.9,17.3 L467.4,17.2 L468.8,17.3 L470.3,17.6 L471.7,18.0 L472.8,18.5 L473.9,19.0 L474.9,19.7 L475.9,20.3 L476.9,21.1 L477.8,21.9 L478.6,22.8 L479.6,23.9 L480.5,25.1 L481.3,26.4 L482.0,27.7 L482.7,29.0 L483.2,30.1 L483.7,31.2 L484.2,32.3 L484.7,33.3 L485.2,34.4 L485.7,35.5 L486.3,36.9 L486.9,38.3 L487.5,39.7 L488.1,41.0 L488.7,42.4 L489.3,43.8 L489.8,45.2 L490.4,46.6 L490.9,47.9 L491.5,49.3 L492.0,50.7 L492.6,52.1 L493.1,53.5 L493.6,54.9 L494.1,56.2 L494.7,57.6 L495.2,59.0 L495.7,60.4 L496.2,61.8 L496.7,63.2 L497.2,64.6 L497.7,66.0 L498.2,67.4 L498.6,68.8 L499.1,70.2 L499.6,71.6 L500.1,73.0 L500.5,74.4 L501.0,75.8 L501.4,77.2 L501.9,78.6 L502.3,80.1 L502.8,81.5 L503.2,82.9 L503.7,84.3 L504.1,85.7 L504.6,87.1 L505.0,88.6 L505.4,90.0 L505.9,91.4 L506.3,92.8 L506.7,94.2 L507.1,95.7 L507.5,97.1 L508.0,98.5 L508.4,100.0 L508.8,101.4 L509.2,102.8 L509.6,104.2 L510.0,105.7 L510.4,107.1 L510.8,108.5 L511.2,110.0 L511.6,111.4 L512.0,112.8 L512.4,114.3 L512.8,115.7 L513.2,117.2 L513.6,118.6 L514.0,120.0 L514.4,121.5 L514.8,122.9 L515.1,124.4 L515.5,125.8 L515.9,127.2 L516.3,128.7 L516.7,130.1 L517.1,131.6 L517.4,133.0 L517.8,134.4 L518.2,135.9 L518.6,137.3 L519.0,138.8 L519.3,140.2 L519.7,141.7 L520.1,143.1 L520.5,144.6 L520.9,146.0 L521.2,147.4 L521.6,148.9 L522.0,150.3 L522.4,151.8 L522.8,153.2 L523.1,154.7 L523.5,156.1 L523.9,157.6 L524.3,159.0 L524.7,160.4 L525.0,161.9 L525.4,163.3 L525.8,164.8 L526.2,166.2 L526.6,167.7 L527.0,169.1 L527.3,170.5 L527.7,172.0 L528.1,173.4 L528.5,174.9 L528.9,176.3 L529.3,177.7 L529.7,179.2 L530.1,180.6 L530.5,182.0 L530.9,183.5 L531.3,184.9 L531.7,186.3 L532.1,187.8 L532.5,189.2 L532.9,190.6 L533.3,192.1 L533.7,193.5 L534.1,194.9 L534.5,196.3 L534.9,197.8 L535.4,199.2 L535.8,200.6 L536.2,202.0 L536.6,203.5 L537.1,204.9 L537.5,206.3 L537.9,207.7 L538.4,209.1 L538.8,210.6 L539.3,212.0 L539.7,213.4 L540.1,214.8 L540.6,216.2 L541.0,217.6 L541.5,219.0 L542.0,220.4 L542.4,221.8 L542.9,223.3 L543.4,224.7 L543.8,226.1 L544.3,227.5 L544.8,228.9 L545.3,230.3 L545.7,231.7 L546.2,233.1 L546.7,234.5 L547.2,235.9 L547.7,237.3 L548.2,238.7 L548.7,240.1 L549.2,241.4 L549.7,242.8 L550.2,244.2 L550.7,245.6 L551.3,247.0 L551.8,248.4 L552.3,249.8 L552.8,251.2 L553.4,252.6 L553.9,253.9 L554.4,255.3 L555.0,256.7 L555.5,258.1 L556.1,259.5 L556.6,260.9 L557.2,262.2 L557.8,263.6 L558.3,265.0 L558.9,266.4 L559.5,267.7 L560.1,269.1 L560.6,270.5 L561.2,271.9 L561.8,273.2 L562.4,274.6 L563.0,276.0 L563.6,277.3 L564.2,278.7 L564.9,280.1 L565.5,281.4 L566.0,282.5 L566.5,283.6 L567.0,284.7 L567.5,285.8 L568.0,286.9 L568.5,288.0 L569.0,289.1 L569.5,290.2 L570.1,291.3 L570.6,292.3 L571.1,293.4 L571.6,294.5 L572.2,295.6 L572.7,296.7 L573.3,297.8 L573.8,298.8 L574.3,299.9 L574.9,301.0 L575.4,302.1 L576.0,303.2 L576.6,304.3 L577.1,305.3 L577.7,306.4 L578.3,307.5 L578.8,308.6 L579.4,309.6 L580.0,310.7 L580.6,311.8 L581.2,312.9 L581.7,314.0 L582.3,315.0 L582.9,316.1 L583.5,317.1 L584.2,318.2 L584.8,319.2 L585.4,320.3 L586.0,321.3 L586.9,322.6 L587.7,323.8 L588.5,325.0 L589.4,326.2 L590.3,327.3 L591.2,328.5 L592.1,329.5 L593.1,330.6 L594.1,331.6 L595.1,332.5 L596.1,333.4 L597.2,334.3 L598.3,335.1 L599.4,335.8 L600.6,336.5 L601.8,337.2 L603.0,337.7 L604.3,338.2 L605.6,338.7 L607.0,339.0 L608.4,339.3 L609.8,339.5 L611.3,339.6 L612.5,339.7 L613.7,339.7 L615.0,339.7 L616.3,339.6 L617.5,339.6 L618.8,339.5 L620.1,339.4 L621.5,339.2 L622.8,339.1 L624.1,338.9 L625.4,338.7 L626.7,338.6 L628.0,338.4 L629.3,338.3 L630.5,338.1 L631.8,338.0 L633.0,337.9 L634.3,337.8 L635.8,337.7 L637.2,337.7 L638.6,337.7 L640.0,337.8 L641.3,338.0 L642.5,338.2 L643.7,338.5 L644.9,338.9 L646.1,339.2 L647.3,339.5 L648.7,339.7 L650.0,339.7 L651.3,339.7 L652.8,339.5 L654.1,339.3" fill="none" stroke="#70ad47" stroke-width="4.8" stroke-linejoin="round"/>
<path d="M51.3,766.7 L52.7,766.7 L54.2,766.6 L55.7,766.6 L56.9,766.5 L58.1,766.5 L59.3,766.5 L60.6,766.4 L61.8,766.4 L63.0,766.4 L64.2,766.3 L65.5,766.3 L66.7,766.3 L67.9,766.3 L69.1,766.3 L70.4,766.2 L71.6,766.2 L72.9,766.2 L74.1,766.1 L75.3,766.1 L76.6,766.1 L77.8,766.0 L79.1,766.0 L80.3,765.9 L81.6,765.9 L82.8,765.8 L84.1,765.8 L85.3,765.7 L86.6,765.6 L87.8,765.6 L89.0,765.5 L90.3,765.4 L91.5,765.3 L92.8,765.2 L94.0,765.1 L95.2,764.9 L96.5,764.8 L97.7,764.7 L98.9,764.5 L100.2,764.3 L101.4,764.2 L102.6,764.0 L103.8,763.8 L105.0,763.6 L106.3,763.4 L107.5,763.1 L108.7,762.9 L109.9,762.6 L111.1,762.4 L112.3,762.1 L113.4,761.8 L114.6,761.5 L115.8,761.1 L117.0,760.8 L118.1,760.4 L119.3,760.1 L120.5,759.7 L121.6,759.3 L122.8,758.8 L123.9,758.4 L125.0,757.9 L126.1,757.5 L127.3,757.0 L128.4,756.5 L129.5,756.0 L130.6,755.4 L131.7,754.9 L132.8,754.3 L133.8,753.7 L134.9,753.1 L136.0,752.5 L137.1,751.9 L138.1,751.3 L139.2,750.7 L140.2,750.0 L141.2,749.3 L142.3,748.6 L143.3,748.0 L144.3,747.2 L145.3,746.5 L146.3,745.8 L147.3,745.1 L148.3,744.3 L149.3,743.6 L150.2,742.8 L151.2,742.0 L152.1,741.2 L153.1,740.4 L154.0,739.6 L155.0,738.8 L155.9,738.0 L156.8,737.1 L157.7,736.3 L158.6,735.4 L159.5,734.6 L160.4,733.7 L161.3,732.8 L162.2,731.9 L163.0,731.1 L163.9,730.2 L164.7,729.3 L165.6,728.4 L166.4,727.4 L167.2,726.5 L168.1,725.6 L168.9,724.7 L169.7,723.7 L170.5,722.8 L171.2,721.8 L172.0,720.9 L172.8,719.9 L173.5,719.0 L174.3,718.0 L175.0,717.0 L175.8,716.1 L176.5,715.1 L177.2,714.1 L178.0,713.1 L178.7,712.1 L179.4,711.1 L180.1,710.1 L180.7,709.1 L181.4,708.1 L182.1,707.1 L182.8,706.1 L183.4,705.1 L184.1,704.0 L184.7,703.0 L185.3,702.0 L186.0,700.9 L186.6,699.9 L187.2,698.9 L187.8,697.8 L188.4,696.8 L189.0,695.7 L189.6,694.6 L190.2,693.6 L190.8,692.5 L191.4,691.4 L191.9,690.4 L192.5,689.3 L193.1,688.2 L193.6,687.1 L194.2,686.0 L194.7,685.0 L195.2,683.9 L195.8,682.8 L196.3,681.7 L196.8,680.6 L197.3,679.5 L197.8,678.4 L198.4,677.2 L198.9,676.1 L199.3,675.0 L199.8,673.9 L200.3,672.8 L200.8,671.7 L201.3,670.5 L201.8,669.4 L202.2,668.3 L202.7,667.1 L203.1,666.0 L203.6,664.9 L204.0,663.7 L204.5,662.6 L204.9,661.4 L205.4,660.3 L205.8,659.1 L206.2,658.0 L206.7,656.8 L207.1,655.7 L207.5,654.5 L207.9,653.3 L208.3,652.2 L208.7,651.0 L209.2,649.9 L209.6,648.7 L210.0,647.5 L210.4,646.4 L210.7,645.2 L211.1,644.0 L211.5,642.8 L211.9,641.7 L212.3,640.5 L212.7,639.3 L213.0,638.1 L213.4,637.0 L213.8,635.8 L214.2,634.6 L214.5,633.4 L214.9,632.2 L215.3,631.0 L215.6,629.9 L216.0,628.7 L216.3,627.5 L216.7,626.3 L217.0,625.1 L217.4,623.9 L217.8,622.7 L218.1,621.5 L218.4,620.3 L218.8,619.2 L219.1,618.0 L219.5,616.8 L219.8,615.6 L220.2,614.4 L220.5,613.2 L220.8,612.0 L221.2,610.8 L221.5,609.6 L221.8,608.4 L222.2,607.2 L222.5,606.0 L222.9,604.8 L223.2,603.7 L223.5,602.5 L223.9,601.3 L224.2,600.1 L224.5,598.9 L224.8,597.7 L225.2,596.5 L225.5,595.3 L225.8,594.1 L226.2,592.9 L226.5,591.7 L226.8,590.6 L227.2,589.4 L227.5,588.2 L227.8,587.0 L228.2,585.8 L228.5,584.6 L228.8,583.4 L229.1,582.2 L229.5,581.1 L229.8,579.9 L230.1,578.7 L230.5,577.5 L230.8,576.3 L231.1,575.1 L231.5,573.9 L231.8,572.8 L232.1,571.6 L232.4,570.4 L232.8,569.2 L233.1,568.0 L233.4,566.8 L233.8,565.7 L234.1,564.5 L234.4,563.3 L234.8,562.1 L235.1,560.9 L235.4,559.8 L235.8,558.6 L236.1,557.4 L236.4,556.2 L236.8,555.0 L237.1,553.9 L237.4,552.7 L237.8,551.5 L238.1,550.3 L238.4,549.1 L238.8,548.0 L239.1,546.8 L239.4,545.6 L239.8,544.4 L240.1,543.3 L240.4,542.1 L240.8,540.9 L241.1,539.7 L241.5,538.6 L241.8,537.4 L242.2,536.2 L242.5,535.0 L242.8,533.9 L243.2,532.7 L243.5,531.5 L243.9,530.3 L244.2,529.2 L244.6,528.0 L244.9,526.8 L245.3,525.7 L245.6,524.5 L246.0,523.3 L246.3,522.1 L246.7,521.0 L247.0,519.8 L247.4,518.6 L247.7,517.5 L248.1,516.3 L248.4,515.1 L248.8,514.0 L249.1,512.8 L249.5,511.6 L249.9,510.5 L250.2,509.3 L250.6,508.1 L250.9,507.0 L251.3,505.8 L251.7,504.6 L252.0,503.5 L252.4,502.3 L252.8,501.1 L253.1,500.0 L253.5,498.8 L253.9,497.6 L254.3,496.5 L254.6,495.3 L255.0,494.2 L255.4,493.0 L255.8,491.8 L256.2,490.7 L256.5,489.5 L256.9,488.4 L257.3,487.2 L257.7,486.0 L258.1,484.9 L258.5,483.7 L258.9,482.6 L259.2,481.4 L259.6,480.2 L260.0,479.1 L260.4,477.9 L260.8,476.8 L261.2,475.6 L261.7,474.5 L262.1,473.3 L262.5,472.2 L263.0,471.0 L263.4,469.9 L263.9,468.7 L264.4,467.6 L264.9,466.5 L265.5,465.3 L266.0,464.2 L266.6,463.1 L267.2,462.0 L267.8,460.9 L268.4,459.8 L269.1,458.7 L269.8,457.6 L270.6,456.5 L271.3,455.5 L272.1,454.4 L273.0,453.3 L273.8,452.3 L274.7,451.3 L275.7,450.3 L276.6,449.3 L277.6,448.5 L278.6,447.7 L279.6,446.9 L280.6,446.3 L281.9,445.7 L283.2,445.2 L284.5,445.0 L285.8,445.0 L287.1,445.3 L288.4,445.8 L289.7,446.4 L290.9,447.3 L291.8,448.1 L292.8,449.0 L293.7,449.9 L294.6,450.8 L295.4,451.7 L296.2,452.7 L297.0,453.7 L297.8,454.7 L298.5,455.7 L299.2,456.7 L299.9,457.7 L300.6,458.8 L301.2,459.9 L301.8,460.9 L302.4,462.0 L303.0,463.1 L303.5,464.2 L304.0,465.3 L304.5,466.4 L305.0,467.5 L305.5,468.7 L306.0,469.8 L306.4,471.0 L306.8,472.1 L307.3,473.3 L307.7,474.5 L308.1,475.6 L308.4,476.8 L308.8,478.0 L309.2,479.2 L309.5,480.4 L309.9,481.6 L310.2,482.8 L310.6,484.0 L310.9,485.2 L311.2,486.4 L311.6,487.6 L311.9,488.8 L312.2,490.0 L312.6,491.2 L312.9,492.4 L313.2,493.6 L313.6,494.8 L313.9,495.9 L314.3,497.1 L314.6,498.3 L315.0,499.5 L315.3,500.7 L315.7,501.9 L316.1,503.1 L316.4,504.2 L316.8,505.4 L317.2,506.6 L317.6,507.8 L317.9,508.9 L318.3,510.1 L318.7,511.3 L319.1,512.4 L319.5,513.6 L319.9,514.8 L320.3,515.9 L320.7,517.1 L321.1,518.2 L321.5,519.4 L321.8,520.6 L322.2,521.7 L322.6,522.9 L323.0,524.0 L323.4,525.2 L323.8,526.3 L324.2,527.5 L324.7,528.6 L325.1,529.8 L325.5,531.0 L325.9,532.1 L326.3,533.3 L326.7,534.4 L327.1,535.6 L327.5,536.7 L327.9,537.9 L328.3,539.0 L328.7,540.2 L329.1,541.3 L329.4,542.5 L329.8,543.6 L330.2,544.8 L330.6,545.9 L331.0,547.1 L331.4,548.2 L331.8,549.4 L332.2,550.6 L332.5,551.7 L332.9,552.9 L333.3,554.0 L333.7,555.2 L334.1,556.4 L334.4,557.5 L334.8,558.7 L335.2,559.8 L335.5,561.0 L335.9,562.2 L336.3,563.3 L336.6,564.5 L337.0,565.7 L337.3,566.8 L337.7,568.0 L338.1,569.1 L338.4,570.3 L338.8,571.5 L339.1,572.6 L339.5,573.8 L339.8,575.0 L340.2,576.2 L340.6,577.3 L340.9,578.5 L341.3,579.7 L341.6,580.8 L342.0,582.0 L342.3,583.2 L342.7,584.3 L343.0,585.5 L343.4,586.7 L343.7,587.9 L344.1,589.0 L344.4,590.2 L344.8,591.4 L345.1,592.5 L345.4,593.7 L345.8,594.9 L346.1,596.1 L346.5,597.2 L346.8,598.4 L347.2,599.6 L347.5,600.7 L347.9,601.9 L348.2,603.1 L348.6,604.3 L348.9,605.4 L349.3,606.6 L349.7,607.8 L350.0,609.0 L350.4,610.1 L350.7,611.3 L351.1,612.5 L351.4,613.7 L351.8,614.8 L352.2,616.0 L352.5,617.2 L352.9,618.3 L353.2,619.5 L353.6,620.7 L354.0,621.9 L354.3,623.0 L354.7,624.2 L355.1,625.4 L355.5,626.6 L355.8,627.7 L356.2,628.9 L356.6,630.1 L357.0,631.2 L357.3,632.4 L357.7,633.6 L358.1,634.8 L358.5,635.9 L358.9,637.1 L359.3,638.3 L359.7,639.4 L360.1,640.6 L360.5,641.8 L360.9,642.9 L361.3,644.1 L361.7,645.3 L362.1,646.4 L362.5,647.6 L362.9,648.8 L363.3,649.9 L363.7,651.1 L364.2,652.3 L364.6,653.4 L365.0,654.6 L365.4,655.8 L365.9,656.9 L366.3,658.1 L366.7,659.3 L367.2,660.4 L367.6,661.6 L368.1,662.7 L368.5,663.9 L369.0,665.0 L369.4,666.2 L369.9,667.3 L370.4,668.5 L370.8,669.6 L371.3,670.8 L371.8,671.9 L372.3,673.1 L372.8,674.2 L373.2,675.4 L373.7,676.5 L374.2,677.6 L374.7,678.8 L375.2,679.9 L375.8,681.0 L376.3,682.1 L376.8,683.3 L377.3,684.4 L377.8,685.5 L378.4,686.6 L378.9,687.7 L379.5,688.8 L380.0,689.9 L380.6,691.0 L381.1,692.1 L381.7,693.2 L382.2,694.3 L382.8,695.4 L383.4,696.5 L384.0,697.6 L384.6,698.7 L385.2,699.7 L385.8,700.8 L386.4,701.9 L387.0,702.9 L387.6,704.0 L388.2,705.0 L388.8,706.1 L389.5,707.1 L390.1,708.2 L390.8,709.2 L391.4,710.3 L392.1,711.3 L392.7,712.3 L393.4,713.3 L394.1,714.3 L394.7,715.3 L395.4,716.3 L396.1,717.3 L396.8,718.3 L397.5,719.3 L398.3,720.3 L399.0,721.3 L399.7,722.3 L400.4,723.2 L401.2,724.2 L401.9,725.1 L402.7,726.1 L403.4,727.0 L404.2,728.0 L405.0,728.9 L405.8,729.8 L406.6,730.7 L407.4,731.6 L408.2,732.6 L409.0,733.5 L409.8,734.3 L410.6,735.2 L411.5,736.1 L412.3,737.0 L413.2,737.9 L414.0,738.7 L414.9,739.6 L415.8,740.4 L416.7,741.2 L417.6,742.1 L418.5,742.9 L419.4,743.7 L420.3,744.5 L421.2,745.3 L422.1,746.1 L423.1,746.9 L424.0,747.7 L425.0,748.5 L426.0,749.2 L426.9,750.0 L427.9,750.7 L428.9,751.5 L429.9,752.2 L430.9,752.9 L432.0,753.6 L433.0,754.3 L434.0,755.0 L435.1,755.7 L436.1,756.4 L437.2,757.0 L438.3,757.7 L439.4,758.3 L440.5,758.9 L441.5,759.5 L442.7,760.1 L443.8,760.7 L444.9,761.2 L446.0,761.7 L447.1,762.2 L448.3,762.7 L449.4,763.2 L450.6,763.6 L451.7,764.0 L452.9,764.4 L454.1,764.8 L455.2,765.1 L456.4,765.4 L457.6,765.7 L458.8,766.0 L460.0,766.2 L461.2,766.4 L462.4,766.6 L463.6,766.8 L464.8,766.9 L466.0,767.1 L467.2,767.2 L468.5,767.3 L469.7,767.3 L470.9,767.4 L472.2,767.5 L473.4,767.5 L474.6,767.5 L475.9,767.6 L477.1,767.6 L478.3,767.6 L479.6,767.6 L480.8,767.6 L482.1,767.5 L483.3,767.5 L484.5,767.5 L485.8,767.5 L487.0,767.4 L488.3,767.4 L489.5,767.4 L490.8,767.4 L492.0,767.4 L493.2,767.3 L494.5,767.3 L495.7,767.3 L496.9,767.3 L498.2,767.3 L499.4,767.3 L500.6,767.3 L501.9,767.3 L503.1,767.3 L504.3,767.3 L505.5,767.3 L506.8,767.3 L508.0,767.3 L509.2,767.3 L510.5,767.3 L511.7,767.3 L512.9,767.3 L514.1,767.4 L515.4,767.4 L516.6,767.4 L517.8,767.4 L519.0,767.4 L520.2,767.4 L521.5,767.4 L522.7,767.4 L523.9,767.5 L525.1,767.5 L526.4,767.5 L527.6,767.5 L528.8,767.5 L530.0,767.5 L531.3,767.6 L532.5,767.6 L533.7,767.6 L534.9,767.6 L536.1,767.6 L537.4,767.6 L538.6,767.6 L539.8,767.6 L541.0,767.6 L542.3,767.6 L543.5,767.6 L544.7,767.7 L546.0,767.7 L547.2,767.7 L548.4,767.6 L549.7,767.6 L550.9,767.6 L552.1,767.6 L553.3,767.6 L554.6,767.6 L555.8,767.6 L557.1,767.6 L558.3,767.5 L559.5,767.5 L560.8,767.5 L561.7,767.5" fill="none" stroke="#000000" stroke-width="4.8" stroke-linejoin="round" stroke-dasharray="15 14"/>
<path d="M51.3,766.6 L52.6,766.7 L53.9,766.8 L55.3,766.9 L56.6,767.0 L57.9,767.1 L59.2,767.1 L60.5,767.2 L61.8,767.2 L63.1,767.3 L64.5,767.3 L65.8,767.3 L67.1,767.3 L68.4,767.3 L69.7,767.3 L71.0,767.3 L72.3,767.3 L73.6,767.3 L74.9,767.2 L76.2,767.2 L77.5,767.1 L78.8,767.1 L80.1,767.0 L81.5,766.9 L82.8,766.9 L84.1,766.8 L85.4,766.7 L86.7,766.6 L88.0,766.5 L89.3,766.4 L90.6,766.3 L91.9,766.2 L93.2,766.0 L94.5,765.9 L95.8,765.8 L97.1,765.6 L98.4,765.5 L99.7,765.4 L101.0,765.2 L102.3,765.1 L103.6,764.9 L104.9,764.7 L106.2,764.6 L107.5,764.4 L108.8,764.3 L110.1,764.1 L111.4,763.9 L112.7,763.7 L114.0,763.6 L115.3,763.4 L116.6,763.2 L117.9,763.0 L119.2,762.9 L120.5,762.7 L121.8,762.5 L123.1,762.3 L124.4,762.1 L125.7,761.9 L127.0,761.7 L128.3,761.6 L129.6,761.4 L130.9,761.2 L132.2,761.0 L133.5,760.8 L134.8,760.6 L136.1,760.4 L137.4,760.1 L138.7,759.9 L140.0,759.7 L141.3,759.5 L142.6,759.3 L143.8,759.0 L145.1,758.8 L146.4,758.6 L147.7,758.3 L149.0,758.1 L150.3,757.8 L151.6,757.6 L152.9,757.3 L154.2,757.0 L155.4,756.8 L156.7,756.5 L158.0,756.2 L159.3,755.9 L160.6,755.6 L161.8,755.3 L163.1,755.0 L164.4,754.7 L165.6,754.4 L166.9,754.0 L168.2,753.7 L169.4,753.3 L170.7,753.0 L171.9,752.6 L173.2,752.2 L174.4,751.8 L175.7,751.5 L176.9,751.1 L178.2,750.6 L179.4,750.2 L180.6,749.8 L181.9,749.4 L183.1,748.9 L184.3,748.5 L185.5,748.0 L186.7,747.5 L188.0,747.0 L189.2,746.5 L190.4,746.0 L191.6,745.5 L192.8,745.0 L194.0,744.4 L195.2,743.9 L196.3,743.3 L197.5,742.7 L198.7,742.1 L199.9,741.5 L201.0,740.9 L202.2,740.3 L203.4,739.7 L204.5,739.1 L205.7,738.4 L206.8,737.8 L207.9,737.1 L209.1,736.4 L210.2,735.7 L211.3,735.0 L212.4,734.3 L213.5,733.6 L214.6,732.9 L215.7,732.2 L216.8,731.4 L217.9,730.7 L218.9,729.9 L220.0,729.2 L221.1,728.4 L222.1,727.6 L223.2,726.8 L224.2,726.0 L225.2,725.2 L226.2,724.3 L227.2,723.5 L228.3,722.7 L229.2,721.8 L230.2,720.9 L231.2,720.1 L232.2,719.2 L233.1,718.3 L234.1,717.4 L235.0,716.5 L236.0,715.6 L236.9,714.7 L237.8,713.8 L238.7,712.8 L239.6,711.9 L240.5,710.9 L241.4,710.0 L242.3,709.0 L243.1,708.0 L244.0,707.0 L244.8,706.0 L245.6,705.0 L246.5,704.0 L247.3,703.0 L248.1,702.0 L248.8,700.9 L249.6,699.9 L250.4,698.9 L251.1,697.8 L251.9,696.7 L252.6,695.7 L253.4,694.6 L254.1,693.5 L254.8,692.4 L255.5,691.3 L256.2,690.2 L256.9,689.1 L257.6,688.0 L258.2,686.9 L258.9,685.8 L259.6,684.7 L260.2,683.5 L260.8,682.4 L261.5,681.2 L262.1,680.1 L262.7,678.9 L263.3,677.8 L263.9,676.6 L264.5,675.5 L265.1,674.3 L265.7,673.1 L266.3,671.9 L266.9,670.8 L267.4,669.6 L268.0,668.4 L268.6,667.2 L269.1,666.0 L269.7,664.8 L270.2,663.6 L270.7,662.4 L271.3,661.2 L271.8,660.0 L272.3,658.8 L272.8,657.6 L273.3,656.4 L273.8,655.1 L274.3,653.9 L274.8,652.7 L275.3,651.5 L275.8,650.3 L276.3,649.0 L276.8,647.8 L277.3,646.6 L277.7,645.3 L278.2,644.1 L278.7,642.9 L279.2,641.7 L279.6,640.4 L280.1,639.2 L280.6,638.0 L281.0,636.7 L281.5,635.5 L281.9,634.3 L282.4,633.0 L282.8,631.8 L283.3,630.6 L283.7,629.3 L284.1,628.1 L284.6,626.9 L285.0,625.6 L285.4,624.4 L285.9,623.1 L286.3,621.9 L286.7,620.7 L287.1,619.4 L287.6,618.2 L288.0,616.9 L288.4,615.7 L288.8,614.4 L289.2,613.2 L289.6,612.0 L290.1,610.7 L290.5,609.5 L290.9,608.2 L291.3,607.0 L291.7,605.7 L292.1,604.5 L292.5,603.2 L292.9,602.0 L293.3,600.7 L293.7,599.5 L294.1,598.3 L294.5,597.0 L294.8,595.8 L295.2,594.5 L295.6,593.3 L296.0,592.0 L296.4,590.8 L296.8,589.5 L297.2,588.3 L297.5,587.0 L297.9,585.8 L298.3,584.5 L298.7,583.3 L299.1,582.0 L299.5,580.7 L299.8,579.5 L300.2,578.2 L300.6,577.0 L301.0,575.7 L301.3,574.5 L301.7,573.2 L302.1,572.0 L302.5,570.7 L302.8,569.5 L303.2,568.2 L303.6,567.0 L304.0,565.7 L304.3,564.5 L304.7,563.2 L305.1,562.0 L305.4,560.7 L305.8,559.5 L306.2,558.2 L306.6,556.9 L306.9,555.7 L307.3,554.4 L307.7,553.2 L308.1,551.9 L308.4,550.7 L308.8,549.4 L309.2,548.2 L309.5,546.9 L309.9,545.7 L310.3,544.4 L310.7,543.2 L311.1,541.9 L311.4,540.7 L311.8,539.4 L312.2,538.2 L312.6,536.9 L312.9,535.7 L313.3,534.4 L313.7,533.2 L314.1,531.9 L314.5,530.7 L314.9,529.4 L315.2,528.2 L315.6,526.9 L316.0,525.7 L316.4,524.4 L316.8,523.2 L317.2,521.9 L317.6,520.7 L318.0,519.4 L318.4,518.2 L318.8,516.9 L319.2,515.7 L319.6,514.4 L320.0,513.2 L320.4,512.0 L320.8,510.7 L321.2,509.5 L321.6,508.2 L322.0,507.0 L322.4,505.7 L322.8,504.5 L323.3,503.3 L323.7,502.0 L324.1,500.8 L324.6,499.6 L325.0,498.3 L325.4,497.1 L325.9,495.9 L326.3,494.6 L326.8,493.4 L327.2,492.2 L327.7,491.0 L328.2,489.8 L328.7,488.5 L329.2,487.3 L329.7,486.1 L330.2,484.9 L330.7,483.7 L331.2,482.5 L331.7,481.3 L332.2,480.1 L332.8,479.0 L333.3,477.8 L333.9,476.6 L334.5,475.4 L335.1,474.2 L335.6,473.1 L336.2,471.9 L336.9,470.8 L337.5,469.6 L338.1,468.5 L338.8,467.3 L339.4,466.2 L340.1,465.0 L340.8,463.9 L341.5,462.8 L342.2,461.7 L342.9,460.6 L343.6,459.5 L344.4,458.4 L345.1,457.3 L345.9,456.2 L346.7,455.1 L347.5,454.1 L348.3,453.0 L349.2,452.0 L350.0,451.0 L350.9,450.0 L351.9,449.0 L352.8,448.2 L353.8,447.3 L354.9,446.6 L356.0,446.0 L357.1,445.6 L358.3,445.3 L359.6,445.1 L360.9,445.1 L362.2,445.2 L363.5,445.4 L364.8,445.8 L366.0,446.3 L367.3,446.8 L368.4,447.5 L369.5,448.2 L370.6,448.9 L371.6,449.8 L372.5,450.7 L373.3,451.6 L374.2,452.6 L375.0,453.7 L375.7,454.8 L376.4,455.9 L377.1,457.0 L377.8,458.1 L378.4,459.3 L379.1,460.5 L379.7,461.7 L380.3,462.9 L380.9,464.0 L381.5,465.2 L382.1,466.4 L382.7,467.6 L383.3,468.7 L383.9,469.9 L384.5,471.1 L385.0,472.3 L385.6,473.4 L386.2,474.6 L386.7,475.8 L387.3,477.0 L387.8,478.1 L388.3,479.3 L388.9,480.5 L389.4,481.7 L389.9,482.9 L390.4,484.1 L390.9,485.3 L391.3,486.5 L391.8,487.7 L392.3,488.9 L392.7,490.2 L393.2,491.4 L393.6,492.6 L394.1,493.9 L394.5,495.1 L394.9,496.3 L395.3,497.6 L395.7,498.8 L396.2,500.1 L396.6,501.3 L397.0,502.6 L397.4,503.8 L397.8,505.1 L398.1,506.3 L398.5,507.6 L398.9,508.8 L399.3,510.1 L399.7,511.4 L400.1,512.6 L400.5,513.9 L400.9,515.1 L401.2,516.4 L401.6,517.6 L402.0,518.9 L402.4,520.1 L402.8,521.4 L403.2,522.7 L403.5,523.9 L403.9,525.2 L404.3,526.4 L404.7,527.7 L405.1,528.9 L405.5,530.2 L405.9,531.4 L406.2,532.7 L406.6,533.9 L407.0,535.2 L407.4,536.4 L407.8,537.7 L408.2,538.9 L408.6,540.2 L408.9,541.4 L409.3,542.7 L409.7,543.9 L410.1,545.2 L410.5,546.4 L410.9,547.7 L411.3,548.9 L411.7,550.2 L412.1,551.4 L412.4,552.7 L412.8,553.9 L413.2,555.2 L413.6,556.4 L414.0,557.7 L414.4,558.9 L414.8,560.2 L415.2,561.4 L415.6,562.6 L416.0,563.9 L416.4,565.1 L416.8,566.4 L417.2,567.6 L417.6,568.9 L418.0,570.1 L418.4,571.4 L418.8,572.6 L419.2,573.8 L419.6,575.1 L420.0,576.3 L420.4,577.6 L420.8,578.8 L421.3,580.0 L421.7,581.3 L422.1,582.5 L422.5,583.8 L422.9,585.0 L423.3,586.2 L423.7,587.5 L424.2,588.7 L424.6,589.9 L425.0,591.2 L425.4,592.4 L425.9,593.7 L426.3,594.9 L426.7,596.1 L427.2,597.4 L427.6,598.6 L428.0,599.8 L428.5,601.1 L428.9,602.3 L429.3,603.5 L429.8,604.7 L430.2,606.0 L430.7,607.2 L431.1,608.4 L431.6,609.7 L432.0,610.9 L432.5,612.1 L432.9,613.4 L433.4,614.6 L433.8,615.8 L434.3,617.0 L434.7,618.3 L435.2,619.5 L435.7,620.7 L436.1,621.9 L436.6,623.2 L437.1,624.4 L437.6,625.6 L438.0,626.8 L438.5,628.1 L439.0,629.3 L439.5,630.5 L440.0,631.7 L440.5,632.9 L440.9,634.2 L441.4,635.4 L441.9,636.6 L442.4,637.8 L442.9,639.0 L443.4,640.2 L443.9,641.5 L444.5,642.7 L445.0,643.9 L445.5,645.1 L446.0,646.3 L446.5,647.5 L447.1,648.7 L447.6,649.9 L448.1,651.1 L448.7,652.3 L449.2,653.5 L449.8,654.7 L450.3,655.9 L450.9,657.1 L451.4,658.3 L452.0,659.5 L452.6,660.6 L453.2,661.8 L453.7,663.0 L454.3,664.2 L454.9,665.3 L455.5,666.5 L456.1,667.6 L456.7,668.8 L457.3,670.0 L458.0,671.1 L458.6,672.2 L459.2,673.4 L459.9,674.5 L460.5,675.6 L461.2,676.8 L461.8,677.9 L462.5,679.0 L463.2,680.1 L463.9,681.2 L464.6,682.3 L465.3,683.4 L466.0,684.5 L466.7,685.6 L467.4,686.7 L468.1,687.8 L468.9,688.8 L469.6,689.9 L470.3,690.9 L471.1,692.0 L471.9,693.0 L472.7,694.1 L473.4,695.1 L474.2,696.1 L475.0,697.1 L475.9,698.2 L476.7,699.2 L477.5,700.2 L478.3,701.1 L479.2,702.1 L480.1,703.1 L480.9,704.1 L481.8,705.0 L482.7,706.0 L483.6,706.9 L484.5,707.8 L485.4,708.8 L486.3,709.7 L487.3,710.6 L488.2,711.5 L489.2,712.4 L490.1,713.3 L491.1,714.2 L492.1,715.1 L493.1,715.9 L494.0,716.8 L495.0,717.6 L496.1,718.5 L497.1,719.3 L498.1,720.1 L499.1,720.9 L500.2,721.7 L501.2,722.5 L502.3,723.3 L503.3,724.1 L504.4,724.9 L505.4,725.7 L506.5,726.4 L507.6,727.2 L508.7,727.9 L509.8,728.6 L510.9,729.4 L512.0,730.1 L513.1,730.8 L514.2,731.5 L515.4,732.2 L516.5,732.9 L517.6,733.5 L518.8,734.2 L519.9,734.9 L521.1,735.5 L522.2,736.1 L523.4,736.8 L524.5,737.4 L525.7,738.0 L526.9,738.6 L528.1,739.2 L529.2,739.8 L530.4,740.3 L531.6,740.9 L532.8,741.5 L534.0,742.0 L535.2,742.6 L536.4,743.1 L537.6,743.6 L538.8,744.1 L540.0,744.6 L541.2,745.1 L542.5,745.6 L543.7,746.1 L544.9,746.5 L546.1,747.0 L547.3,747.4 L548.6,747.9 L549.8,748.3 L551.0,748.7 L552.3,749.1 L553.5,749.5 L554.8,749.9 L556.0,750.3 L557.3,750.7 L558.5,751.1 L559.8,751.5 L561.0,751.8 L562.3,752.2 L563.5,752.5 L564.8,752.9 L566.0,753.2 L567.3,753.5 L568.6,753.8 L569.8,754.2 L571.1,754.5 L572.4,754.8 L573.6,755.1 L574.9,755.3 L576.2,755.6 L577.5,755.9 L578.7,756.2 L580.0,756.5 L581.3,756.7 L582.6,757.0 L583.9,757.2 L585.2,757.5 L586.4,757.7 L587.7,757.9 L589.0,758.2 L590.3,758.4 L591.6,758.6 L592.9,758.9 L594.2,759.1 L595.5,759.3 L596.8,759.5 L598.1,759.7 L599.4,759.9 L600.7,760.1 L602.0,760.3 L603.3,760.5 L604.6,760.7 L605.9,760.9 L607.2,761.0 L608.5,761.2 L609.8,761.4 L611.1,761.6 L612.4,761.7 L613.7,761.9 L615.0,762.1 L616.3,762.2 L617.6,762.4 L618.9,762.6 L620.2,762.7 L621.5,762.9 L622.8,763.1 L624.1,763.2 L625.4,763.4 L626.7,763.5 L628.0,763.7 L629.3,763.8 L630.6,764.0 L631.9,764.1 L633.2,764.3 L634.5,764.4 L635.8,764.6 L637.2,764.7 L638.5,764.9 L639.8,765.1 L641.1,765.2 L642.4,765.4 L643.7,765.5 L645.0,765.7 L646.3,765.8 L647.6,766.0 L648.9,766.1 L650.1,766.3 L651.4,766.5 L652.7,766.6 L654.0,766.8" fill="none" stroke="#000000" stroke-width="4.8" stroke-linejoin="round"/>
<path d="M51.3,1100.1 L52.6,1099.9 L53.9,1099.8 L55.2,1099.7 L56.5,1099.5 L57.8,1099.4 L59.1,1099.3 L60.4,1099.2 L61.7,1099.1 L63.0,1098.9 L64.3,1098.8 L65.6,1098.7 L66.9,1098.6 L68.2,1098.5 L69.5,1098.4 L70.8,1098.3 L72.1,1098.1 L73.4,1098.0 L74.7,1097.9 L76.0,1097.8 L77.3,1097.7 L78.6,1097.6 L79.9,1097.5 L81.2,1097.4 L82.5,1097.3 L83.8,1097.1 L85.1,1097.0 L86.4,1096.9 L87.7,1096.8 L89.0,1096.7 L90.3,1096.6 L91.6,1096.5 L92.9,1096.4 L94.2,1096.2 L95.5,1096.1 L96.8,1096.0 L98.1,1095.9 L99.5,1095.8 L100.8,1095.6 L102.1,1095.5 L103.4,1095.4 L104.7,1095.2 L106.0,1095.1 L107.3,1095.0 L108.6,1094.8 L109.9,1094.7 L111.2,1094.5 L112.5,1094.4 L113.8,1094.3 L115.0,1094.1 L116.3,1093.9 L117.6,1093.8 L118.9,1093.6 L120.2,1093.5 L121.5,1093.3 L122.8,1093.1 L124.1,1092.9 L125.4,1092.8 L126.7,1092.6 L128.0,1092.4 L129.2,1092.2 L130.5,1092.0 L131.8,1091.8 L133.1,1091.6 L134.4,1091.4 L135.7,1091.2 L136.9,1091.0 L138.2,1090.7 L139.5,1090.5 L140.8,1090.3 L142.0,1090.0 L143.3,1089.8 L144.6,1089.5 L145.8,1089.3 L147.1,1089.0 L148.4,1088.7 L149.6,1088.5 L150.9,1088.2 L152.1,1087.9 L153.4,1087.6 L154.7,1087.3 L155.9,1087.0 L157.2,1086.7 L158.4,1086.4 L159.7,1086.1 L160.9,1085.7 L162.1,1085.4 L163.4,1085.0 L164.6,1084.7 L165.9,1084.3 L167.1,1084.0 L168.3,1083.6 L169.6,1083.2 L170.8,1082.8 L172.0,1082.4 L173.2,1082.0 L174.4,1081.6 L175.7,1081.2 L176.9,1080.7 L178.1,1080.3 L179.3,1079.9 L180.5,1079.4 L181.7,1078.9 L182.9,1078.5 L184.1,1078.0 L185.3,1077.5 L186.5,1077.0 L187.7,1076.5 L188.9,1076.0 L190.1,1075.4 L191.3,1074.9 L192.4,1074.3 L193.6,1073.8 L194.8,1073.2 L196.0,1072.6 L197.1,1072.1 L198.3,1071.5 L199.4,1070.9 L200.6,1070.2 L201.8,1069.6 L202.9,1069.0 L204.1,1068.3 L205.2,1067.7 L206.3,1067.0 L207.5,1066.3 L208.6,1065.6 L209.7,1064.9 L210.8,1064.2 L211.9,1063.5 L213.0,1062.8 L214.1,1062.1 L215.2,1061.3 L216.3,1060.6 L217.4,1059.8 L218.5,1059.0 L219.5,1058.3 L220.6,1057.5 L221.7,1056.7 L222.7,1055.9 L223.8,1055.1 L224.8,1054.3 L225.8,1053.4 L226.8,1052.6 L227.8,1051.7 L228.8,1050.9 L229.8,1050.0 L230.8,1049.1 L231.8,1048.3 L232.8,1047.4 L233.7,1046.5 L234.7,1045.6 L235.6,1044.6 L236.6,1043.7 L237.5,1042.8 L238.4,1041.8 L239.3,1040.9 L240.2,1039.9 L241.1,1039.0 L241.9,1038.0 L242.8,1037.0 L243.7,1036.0 L244.5,1035.0 L245.3,1034.0 L246.2,1033.0 L247.0,1032.0 L247.8,1031.0 L248.5,1030.0 L249.3,1028.9 L250.1,1027.9 L250.8,1026.8 L251.6,1025.8 L252.3,1024.7 L253.0,1023.6 L253.7,1022.5 L254.4,1021.4 L255.1,1020.4 L255.8,1019.3 L256.5,1018.2 L257.2,1017.0 L257.8,1015.9 L258.5,1014.8 L259.1,1013.7 L259.7,1012.6 L260.3,1011.4 L261.0,1010.3 L261.6,1009.1 L262.2,1008.0 L262.8,1006.8 L263.4,1005.7 L263.9,1004.5 L264.5,1003.4 L265.1,1002.2 L265.6,1001.0 L266.2,999.8 L266.7,998.7 L267.3,997.5 L267.8,996.3 L268.4,995.1 L268.9,993.9 L269.4,992.7 L270.0,991.6 L270.5,990.4 L271.0,989.2 L271.5,988.0 L272.0,986.8 L272.5,985.6 L273.0,984.4 L273.5,983.2 L274.0,982.0 L274.5,980.8 L275.0,979.6 L275.5,978.3 L276.0,977.1 L276.5,975.9 L276.9,974.7 L277.4,973.5 L277.9,972.3 L278.4,971.1 L278.8,969.9 L279.3,968.7 L279.8,967.4 L280.2,966.2 L280.7,965.0 L281.2,963.8 L281.6,962.6 L282.1,961.4 L282.5,960.1 L283.0,958.9 L283.4,957.7 L283.9,956.5 L284.3,955.2 L284.8,954.0 L285.2,952.8 L285.6,951.6 L286.1,950.3 L286.5,949.1 L286.9,947.9 L287.4,946.7 L287.8,945.4 L288.2,944.2 L288.6,943.0 L289.1,941.7 L289.5,940.5 L289.9,939.3 L290.3,938.0 L290.7,936.8 L291.1,935.6 L291.6,934.3 L292.0,933.1 L292.4,931.8 L292.8,930.6 L293.2,929.4 L293.6,928.1 L294.0,926.9 L294.4,925.6 L294.8,924.4 L295.2,923.2 L295.6,921.9 L296.0,920.7 L296.4,919.4 L296.8,918.2 L297.1,916.9 L297.5,915.7 L297.9,914.4 L298.3,913.2 L298.7,911.9 L299.1,910.7 L299.5,909.4 L299.8,908.2 L300.2,907.0 L300.6,905.7 L301.0,904.5 L301.4,903.2 L301.7,901.9 L302.1,900.7 L302.5,899.4 L302.9,898.2 L303.2,896.9 L303.6,895.7 L304.0,894.4 L304.4,893.2 L304.7,891.9 L305.1,890.7 L305.5,889.4 L305.8,888.2 L306.2,886.9 L306.6,885.7 L306.9,884.4 L307.3,883.1 L307.7,881.9 L308.0,880.6 L308.4,879.4 L308.7,878.1 L309.1,876.9 L309.5,875.6 L309.8,874.3 L310.2,873.1 L310.5,871.8 L310.9,870.6 L311.3,869.3 L311.6,868.0 L312.0,866.8 L312.3,865.5 L312.7,864.3 L313.1,863.0 L313.4,861.8 L313.8,860.5 L314.1,859.2 L314.5,858.0 L314.9,856.7 L315.2,855.5 L315.6,854.2 L316.0,853.0 L316.3,851.7 L316.7,850.4 L317.1,849.2 L317.5,847.9 L317.9,846.7 L318.2,845.4 L318.6,844.2 L319.0,843.0 L319.4,841.7 L319.8,840.5 L320.2,839.2 L320.6,838.0 L321.1,836.8 L321.5,835.5 L321.9,834.3 L322.3,833.1 L322.8,831.8 L323.2,830.6 L323.6,829.4 L324.1,828.2 L324.5,827.0 L325.0,825.8 L325.5,824.6 L326.0,823.3 L326.4,822.1 L326.9,820.9 L327.4,819.8 L327.9,818.6 L328.5,817.4 L329.0,816.2 L329.5,815.0 L330.1,813.8 L330.6,812.7 L331.2,811.5 L331.7,810.3 L332.3,809.2 L332.9,808.0 L333.5,806.8 L334.1,805.7 L334.7,804.6 L335.3,803.4 L336.0,802.3 L336.6,801.2 L337.3,800.0 L337.9,798.9 L338.6,797.8 L339.3,796.7 L340.0,795.6 L340.7,794.5 L341.5,793.4 L342.2,792.3 L343.0,791.3 L343.8,790.2 L344.6,789.2 L345.5,788.2 L346.3,787.2 L347.2,786.2 L348.2,785.2 L349.1,784.3 L350.1,783.3 L351.2,782.4 L352.2,781.6 L353.3,780.7 L354.5,780.0 L355.6,779.2 L356.8,778.6 L358.0,778.1 L359.2,777.7 L360.4,777.3 L361.7,777.2 L362.9,777.1 L364.1,777.2 L365.3,777.5 L366.5,777.9 L367.7,778.4 L368.8,779.0 L369.8,779.7 L370.8,780.5 L371.8,781.4 L372.7,782.3 L373.5,783.3 L374.3,784.4 L375.1,785.5 L375.9,786.6 L376.7,787.8 L377.4,788.9 L378.1,790.1 L378.9,791.2 L379.6,792.3 L380.2,793.5 L380.9,794.6 L381.6,795.8 L382.2,797.0 L382.9,798.1 L383.5,799.3 L384.2,800.4 L384.8,801.6 L385.4,802.8 L386.0,803.9 L386.5,805.1 L387.1,806.3 L387.7,807.4 L388.2,808.6 L388.8,809.8 L389.3,811.0 L389.9,812.1 L390.4,813.3 L390.9,814.5 L391.4,815.7 L391.9,816.9 L392.4,818.1 L392.9,819.3 L393.3,820.5 L393.8,821.6 L394.3,822.8 L394.7,824.0 L395.2,825.3 L395.6,826.5 L396.1,827.7 L396.5,828.9 L396.9,830.1 L397.4,831.3 L397.8,832.5 L398.2,833.7 L398.6,834.9 L399.0,836.2 L399.4,837.4 L399.8,838.6 L400.2,839.8 L400.6,841.1 L401.0,842.3 L401.4,843.5 L401.7,844.8 L402.1,846.0 L402.5,847.3 L402.9,848.5 L403.3,849.8 L403.6,851.0 L404.0,852.3 L404.4,853.5 L404.7,854.8 L405.1,856.0 L405.5,857.3 L405.8,858.5 L406.2,859.8 L406.6,861.1 L406.9,862.3 L407.3,863.6 L407.6,864.9 L408.0,866.1 L408.3,867.4 L408.7,868.7 L409.1,869.9 L409.4,871.2 L409.8,872.5 L410.1,873.7 L410.5,875.0 L410.8,876.3 L411.2,877.6 L411.6,878.8 L411.9,880.1 L412.3,881.4 L412.6,882.6 L413.0,883.9 L413.4,885.2 L413.7,886.5 L414.1,887.7 L414.4,889.0 L414.8,890.3 L415.2,891.5 L415.5,892.8 L415.9,894.1 L416.3,895.3 L416.6,896.6 L417.0,897.9 L417.4,899.1 L417.8,900.4 L418.1,901.7 L418.5,902.9 L418.9,904.2 L419.3,905.4 L419.7,906.7 L420.0,907.9 L420.4,909.2 L420.8,910.4 L421.2,911.7 L421.6,912.9 L422.0,914.1 L422.4,915.4 L422.8,916.6 L423.2,917.8 L423.6,919.1 L424.1,920.3 L424.5,921.5 L424.9,922.7 L425.3,924.0 L425.7,925.2 L426.2,926.4 L426.6,927.6 L427.0,928.8 L427.5,930.0 L427.9,931.2 L428.4,932.4 L428.8,933.6 L429.3,934.8 L429.7,936.1 L430.2,937.3 L430.6,938.4 L431.1,939.6 L431.5,940.8 L432.0,942.0 L432.5,943.2 L432.9,944.4 L433.4,945.6 L433.9,946.8 L434.4,948.0 L434.9,949.2 L435.3,950.4 L435.8,951.6 L436.3,952.8 L436.8,954.0 L437.3,955.2 L437.8,956.3 L438.3,957.5 L438.8,958.7 L439.3,959.9 L439.8,961.1 L440.3,962.3 L440.9,963.5 L441.4,964.7 L441.9,965.9 L442.4,967.1 L443.0,968.2 L443.5,969.4 L444.0,970.6 L444.5,971.8 L445.1,973.0 L445.6,974.2 L446.2,975.4 L446.7,976.6 L447.3,977.8 L447.8,979.0 L448.4,980.2 L448.9,981.4 L449.5,982.6 L450.0,983.8 L450.6,985.0 L451.2,986.2 L451.8,987.4 L452.3,988.6 L452.9,989.8 L453.5,991.0 L454.1,992.2 L454.7,993.4 L455.3,994.6 L455.9,995.8 L456.5,997.0 L457.1,998.1 L457.8,999.3 L458.4,1000.5 L459.0,1001.7 L459.7,1002.8 L460.3,1004.0 L460.9,1005.2 L461.6,1006.3 L462.3,1007.5 L462.9,1008.6 L463.6,1009.8 L464.3,1010.9 L465.0,1012.0 L465.7,1013.1 L466.4,1014.3 L467.1,1015.4 L467.8,1016.5 L468.5,1017.6 L469.2,1018.7 L470.0,1019.8 L470.7,1020.8 L471.5,1021.9 L472.2,1023.0 L473.0,1024.0 L473.8,1025.1 L474.5,1026.1 L475.3,1027.2 L476.1,1028.2 L476.9,1029.2 L477.7,1030.2 L478.6,1031.2 L479.4,1032.2 L480.2,1033.2 L481.1,1034.1 L482.0,1035.1 L482.8,1036.1 L483.7,1037.0 L484.6,1037.9 L485.5,1038.9 L486.4,1039.8 L487.3,1040.7 L488.2,1041.6 L489.1,1042.5 L490.1,1043.3 L491.0,1044.2 L492.0,1045.1 L492.9,1045.9 L493.9,1046.8 L494.8,1047.6 L495.8,1048.4 L496.8,1049.2 L497.8,1050.0 L498.8,1050.8 L499.8,1051.6 L500.8,1052.4 L501.8,1053.2 L502.9,1053.9 L503.9,1054.7 L504.9,1055.5 L506.0,1056.2 L507.0,1056.9 L508.1,1057.6 L509.2,1058.4 L510.3,1059.1 L511.3,1059.8 L512.4,1060.5 L513.5,1061.1 L514.6,1061.8 L515.7,1062.5 L516.8,1063.1 L517.9,1063.8 L519.0,1064.4 L520.2,1065.1 L521.3,1065.7 L522.4,1066.3 L523.6,1066.9 L524.7,1067.5 L525.9,1068.1 L527.0,1068.7 L528.2,1069.3 L529.4,1069.8 L530.5,1070.4 L531.7,1071.0 L532.9,1071.5 L534.1,1072.1 L535.3,1072.6 L536.5,1073.1 L537.6,1073.6 L538.9,1074.1 L540.1,1074.7 L541.3,1075.2 L542.5,1075.6 L543.7,1076.1 L544.9,1076.6 L546.1,1077.1 L547.4,1077.5 L548.6,1078.0 L549.8,1078.4 L551.1,1078.9 L552.3,1079.3 L553.6,1079.7 L554.8,1080.2 L556.1,1080.6 L557.3,1081.0 L558.6,1081.4 L559.8,1081.8 L561.1,1082.2 L562.4,1082.5 L563.6,1082.9 L564.9,1083.3 L566.2,1083.6 L567.4,1084.0 L568.7,1084.3 L570.0,1084.7 L571.3,1085.0 L572.6,1085.3 L573.8,1085.7 L575.1,1086.0 L576.4,1086.3 L577.7,1086.6 L579.0,1086.9 L580.3,1087.2 L581.6,1087.5 L582.9,1087.7 L584.2,1088.0 L585.5,1088.3 L586.8,1088.5 L588.1,1088.8 L589.4,1089.0 L590.7,1089.3 L592.0,1089.5 L593.3,1089.7 L594.6,1090.0 L595.9,1090.2 L597.2,1090.4 L598.5,1090.6 L599.8,1090.8 L601.1,1091.0 L602.4,1091.2 L603.7,1091.4 L605.0,1091.6 L606.3,1091.7 L607.6,1091.9 L608.9,1092.1 L610.2,1092.2 L611.5,1092.4 L612.8,1092.5 L614.1,1092.7 L615.4,1092.8 L616.7,1092.9 L618.0,1093.1 L619.3,1093.2 L620.6,1093.3 L621.9,1093.4 L623.2,1093.5 L624.5,1093.6 L625.7,1093.7 L627.0,1093.8 L628.3,1093.9 L629.6,1094.0 L630.9,1094.1 L632.2,1094.1 L633.4,1094.2 L634.7,1094.3 L636.0,1094.3 L637.3,1094.4 L638.5,1094.4 L639.8,1094.5 L641.1,1094.5 L642.3,1094.6 L643.6,1094.6 L644.8,1094.6 L646.1,1094.7 L647.4,1094.7 L648.6,1094.7 L649.8,1094.7 L651.1,1094.7 L652.3,1094.7 L653.6,1094.7 L654.2,1094.7" fill="none" stroke="#000000" stroke-width="4.8" stroke-linejoin="round"/>
<path d="M51.4,1093.1 L52.7,1093.4 L54.0,1093.7 L55.3,1093.9 L56.6,1094.2 L57.9,1094.4 L59.2,1094.7 L60.5,1094.9 L61.8,1095.2 L63.2,1095.4 L64.5,1095.6 L65.8,1095.8 L67.1,1096.0 L68.5,1096.2 L69.8,1096.4 L71.1,1096.6 L72.5,1096.8 L73.8,1097.0 L75.1,1097.1 L76.5,1097.3 L77.8,1097.4 L79.1,1097.6 L80.5,1097.7 L81.8,1097.9 L83.2,1098.0 L84.5,1098.1 L85.9,1098.2 L87.2,1098.3 L88.6,1098.4 L89.9,1098.5 L91.2,1098.6 L92.6,1098.7 L93.9,1098.7 L95.3,1098.8 L96.6,1098.8 L98.0,1098.9 L99.3,1098.9 L100.7,1099.0 L102.0,1099.0 L103.4,1099.0 L104.7,1099.0 L106.1,1099.0 L107.4,1099.0 L108.7,1099.0 L110.1,1099.0 L111.4,1098.9 L112.8,1098.9 L114.1,1098.8 L115.4,1098.8 L116.8,1098.7 L118.1,1098.7 L119.4,1098.6 L120.8,1098.5 L122.1,1098.4 L123.4,1098.3 L124.8,1098.2 L126.1,1098.1 L127.4,1097.9 L128.7,1097.8 L130.1,1097.7 L131.4,1097.5 L132.7,1097.4 L134.0,1097.2 L135.4,1097.1 L136.7,1096.9 L138.0,1096.7 L139.3,1096.5 L140.6,1096.3 L142.0,1096.2 L143.3,1096.0 L144.6,1095.8 L145.9,1095.6 L147.2,1095.3 L148.6,1095.1 L149.9,1094.9 L151.2,1094.7 L152.5,1094.5 L153.8,1094.2 L155.2,1094.0 L156.5,1093.8 L157.8,1093.5 L159.1,1093.3 L160.4,1093.0 L161.8,1092.8 L163.1,1092.5 L164.4,1092.3 L165.7,1092.0 L167.1,1091.8 L168.4,1091.5 L169.7,1091.2 L171.0,1091.0 L172.4,1090.7 L173.7,1090.4 L175.0,1090.1 L176.4,1089.9 L177.7,1089.6 L179.0,1089.3 L180.4,1089.1 L181.7,1088.8 L183.1,1088.5 L184.4,1088.2 L185.7,1087.9 L187.1,1087.7 L188.4,1087.4 L189.7,1087.1 L191.1,1086.8 L192.4,1086.4 L193.7,1086.1 L195.0,1085.8 L196.3,1085.4 L197.6,1085.1 L198.9,1084.7 L200.2,1084.3 L201.5,1083.9 L202.8,1083.4 L204.0,1083.0 L205.2,1082.5 L206.5,1082.0 L207.7,1081.5 L208.9,1081.0 L210.0,1080.4 L211.2,1079.8 L212.3,1079.2 L213.5,1078.5 L214.6,1077.8 L215.7,1077.1 L216.7,1076.4 L217.8,1075.6 L218.8,1074.8 L219.8,1074.0 L220.8,1073.2 L221.8,1072.3 L222.8,1071.4 L223.8,1070.5 L224.7,1069.6 L225.7,1068.7 L226.6,1067.7 L227.6,1066.8 L228.5,1065.8 L229.4,1064.8 L230.3,1063.9 L231.2,1062.9 L232.2,1061.9 L233.1,1060.8 L234.0,1059.8 L234.9,1058.8 L235.8,1057.8 L236.7,1056.8 L237.6,1055.8 L238.5,1054.8 L239.4,1053.8 L240.3,1052.8 L241.2,1051.7 L242.1,1050.7 L243.0,1049.7 L243.9,1048.7 L244.8,1047.7 L245.7,1046.6 L246.6,1045.6 L247.5,1044.6 L248.3,1043.5 L249.2,1042.5 L250.1,1041.5 L250.9,1040.4 L251.8,1039.4 L252.6,1038.3 L253.4,1037.3 L254.2,1036.2 L255.0,1035.1 L255.8,1034.0 L256.6,1033.0 L257.4,1031.9 L258.2,1030.8 L258.9,1029.7 L259.7,1028.6 L260.4,1027.5 L261.1,1026.4 L261.8,1025.2 L262.5,1024.1 L263.2,1022.9 L263.8,1021.8 L264.5,1020.6 L265.1,1019.5 L265.7,1018.3 L266.3,1017.1 L266.9,1015.9 L267.5,1014.7 L268.0,1013.5 L268.5,1012.3 L269.1,1011.1 L269.6,1009.9 L270.1,1008.6 L270.6,1007.4 L271.1,1006.1 L271.5,1004.9 L272.0,1003.6 L272.5,1002.4 L272.9,1001.1 L273.4,999.9 L273.8,998.6 L274.2,997.3 L274.6,996.0 L275.1,994.8 L275.5,993.5 L275.9,992.2 L276.3,990.9 L276.7,989.6 L277.1,988.3 L277.5,987.0 L277.9,985.7 L278.3,984.4 L278.7,983.2 L279.1,981.9 L279.5,980.6 L279.9,979.3 L280.3,978.0 L280.7,976.7 L281.1,975.4 L281.5,974.1 L281.9,972.8 L282.3,971.5 L282.7,970.3 L283.2,969.0 L283.6,967.7 L284.0,966.4 L284.5,965.2 L284.9,963.9 L285.4,962.6 L285.8,961.4 L286.3,960.1 L286.8,958.8 L287.2,957.6 L287.7,956.3 L288.2,955.0 L288.7,953.8 L289.1,952.5 L289.6,951.3 L290.1,950.0 L290.6,948.8 L291.0,947.5 L291.5,946.3 L292.0,945.0 L292.5,943.8 L293.0,942.5 L293.4,941.3 L293.9,940.0 L294.4,938.7 L294.8,937.5 L295.3,936.2 L295.8,935.0 L296.2,933.7 L296.7,932.5 L297.1,931.2 L297.6,930.0 L298.0,928.7 L298.5,927.4 L298.9,926.2 L299.4,924.9 L299.8,923.6 L300.2,922.4 L300.6,921.1 L301.0,919.8 L301.4,918.5 L301.8,917.3 L302.2,916.0 L302.6,914.7 L302.9,913.4 L303.3,912.1 L303.6,910.8 L304.0,909.5 L304.3,908.2 L304.6,906.9 L304.9,905.6 L305.2,904.3 L305.5,903.0 L305.8,901.7 L306.1,900.4 L306.4,899.1 L306.7,897.7 L306.9,896.4 L307.2,895.1 L307.5,893.8 L307.7,892.4 L308.0,891.1 L308.2,889.8 L308.5,888.5 L308.7,887.1 L309.0,885.8 L309.3,884.5 L309.5,883.1 L309.8,881.8 L310.0,880.5 L310.3,879.2 L310.5,877.8 L310.8,876.5 L311.0,875.2 L311.3,873.9 L311.6,872.5 L311.9,871.2 L312.2,869.9 L312.4,868.6 L312.7,867.3 L313.0,866.0 L313.4,864.7 L313.7,863.4 L314.0,862.1 L314.3,860.8 L314.7,859.5 L315.0,858.2 L315.4,856.9 L315.8,855.6 L316.2,854.3 L316.6,853.1 L317.0,851.8 L317.4,850.5 L317.9,849.3 L318.3,848.0 L318.8,846.8 L319.3,845.5 L319.8,844.3 L320.3,843.0 L320.8,841.8 L321.3,840.6 L321.9,839.4 L322.4,838.1 L323.0,836.9 L323.6,835.7 L324.1,834.5 L324.7,833.3 L325.3,832.0 L325.9,830.8 L326.4,829.6 L327.0,828.4 L327.6,827.2 L328.2,826.0 L328.8,824.8 L329.3,823.5 L329.9,822.3 L330.5,821.1 L331.0,819.9 L331.6,818.6 L332.2,817.4 L332.7,816.2 L333.2,814.9 L333.7,813.7 L334.3,812.4 L334.8,811.2 L335.3,809.9 L335.8,808.7 L336.3,807.4 L336.8,806.2 L337.3,804.9 L337.8,803.7 L338.3,802.4 L338.8,801.2 L339.3,800.0 L339.9,798.7 L340.5,797.5 L341.0,796.3 L341.7,795.1 L342.3,794.0 L342.9,792.8 L343.6,791.6 L344.3,790.5 L345.1,789.4 L345.9,788.3 L346.7,787.2 L347.5,786.1 L348.4,785.1 L349.4,784.1 L350.4,783.1 L351.4,782.1 L352.5,781.2 L353.6,780.3 L354.7,779.5 L355.9,778.8 L357.1,778.2 L358.4,777.7 L359.6,777.3 L360.9,777.1 L362.2,777.0 L363.5,777.2 L364.8,777.4 L366.1,777.8 L367.3,778.4 L368.5,779.1 L369.5,779.9 L370.5,780.8 L371.4,781.7 L372.2,782.8 L373.0,783.9 L373.7,785.1 L374.3,786.3 L375.0,787.6 L375.6,788.8 L376.2,790.1 L376.7,791.3 L377.3,792.6 L377.9,793.9 L378.4,795.1 L379.0,796.4 L379.5,797.6 L380.1,798.9 L380.6,800.1 L381.1,801.4 L381.7,802.6 L382.2,803.9 L382.7,805.1 L383.2,806.3 L383.7,807.6 L384.2,808.8 L384.7,810.1 L385.2,811.3 L385.6,812.5 L386.1,813.8 L386.6,815.0 L387.1,816.2 L387.5,817.5 L388.0,818.7 L388.4,820.0 L388.9,821.2 L389.3,822.4 L389.8,823.7 L390.2,824.9 L390.7,826.2 L391.1,827.4 L391.6,828.7 L392.0,829.9 L392.4,831.2 L392.9,832.4 L393.3,833.7 L393.7,835.0 L394.1,836.2 L394.6,837.5 L395.0,838.8 L395.4,840.0 L395.8,841.3 L396.3,842.6 L396.7,843.8 L397.1,845.1 L397.5,846.4 L397.9,847.7 L398.3,848.9 L398.7,850.2 L399.1,851.5 L399.5,852.8 L399.9,854.1 L400.3,855.4 L400.8,856.7 L401.2,857.9 L401.5,859.2 L401.9,860.5 L402.3,861.8 L402.7,863.1 L403.1,864.4 L403.5,865.7 L403.9,867.0 L404.3,868.3 L404.7,869.6 L405.1,870.9 L405.5,872.2 L405.9,873.5 L406.2,874.8 L406.6,876.1 L407.0,877.4 L407.4,878.7 L407.8,880.0 L408.2,881.3 L408.5,882.5 L408.9,883.8 L409.3,885.1 L409.7,886.4 L410.0,887.7 L410.4,889.0 L410.8,890.3 L411.2,891.6 L411.5,892.9 L411.9,894.2 L412.3,895.5 L412.7,896.8 L413.0,898.1 L413.4,899.4 L413.8,900.7 L414.1,902.0 L414.5,903.3 L414.9,904.6 L415.3,905.9 L415.6,907.2 L416.0,908.5 L416.4,909.8 L416.7,911.1 L417.1,912.4 L417.5,913.7 L417.8,915.0 L418.2,916.3 L418.6,917.6 L418.9,918.9 L419.3,920.1 L419.7,921.4 L420.1,922.7 L420.4,924.0 L420.8,925.3 L421.2,926.6 L421.5,927.9 L421.9,929.2 L422.3,930.4 L422.7,931.7 L423.1,933.0 L423.4,934.3 L423.8,935.6 L424.2,936.9 L424.6,938.1 L425.0,939.4 L425.4,940.7 L425.7,942.0 L426.1,943.3 L426.5,944.5 L426.9,945.8 L427.3,947.1 L427.7,948.4 L428.1,949.6 L428.5,950.9 L428.9,952.2 L429.3,953.4 L429.7,954.7 L430.1,956.0 L430.6,957.3 L431.0,958.5 L431.4,959.8 L431.8,961.1 L432.2,962.3 L432.7,963.6 L433.1,964.8 L433.5,966.1 L433.9,967.4 L434.4,968.6 L434.8,969.9 L435.3,971.1 L435.7,972.4 L436.2,973.7 L436.6,974.9 L437.1,976.2 L437.5,977.4 L438.0,978.7 L438.5,979.9 L438.9,981.2 L439.4,982.4 L439.9,983.7 L440.4,984.9 L440.9,986.2 L441.3,987.4 L441.8,988.7 L442.3,989.9 L442.8,991.1 L443.3,992.4 L443.9,993.6 L444.4,994.9 L444.9,996.1 L445.4,997.3 L445.9,998.6 L446.5,999.8 L447.0,1001.0 L447.6,1002.3 L448.1,1003.5 L448.7,1004.7 L449.2,1006.0 L449.8,1007.2 L450.4,1008.4 L450.9,1009.6 L451.5,1010.9 L452.1,1012.1 L452.7,1013.3 L453.3,1014.5 L453.9,1015.7 L454.5,1017.0 L455.1,1018.2 L455.7,1019.4 L456.3,1020.6 L457.0,1021.8 L457.6,1023.0 L458.2,1024.2 L458.9,1025.4 L459.5,1026.6 L460.2,1027.8 L460.9,1029.0 L461.5,1030.2 L462.2,1031.4 L462.9,1032.6 L463.6,1033.8 L464.3,1035.0 L465.0,1036.1 L465.7,1037.3 L466.4,1038.5 L467.1,1039.6 L467.9,1040.8 L468.6,1041.9 L469.3,1043.1 L470.1,1044.2 L470.9,1045.3 L471.6,1046.4 L472.4,1047.6 L473.2,1048.7 L474.0,1049.8 L474.8,1050.9 L475.6,1051.9 L476.4,1053.0 L477.2,1054.1 L478.0,1055.1 L478.9,1056.2 L479.7,1057.2 L480.6,1058.3 L481.4,1059.3 L482.3,1060.3 L483.2,1061.3 L484.1,1062.3 L485.0,1063.3 L485.9,1064.2 L486.8,1065.2 L487.7,1066.1 L488.6,1067.1 L489.6,1068.0 L490.5,1068.9 L491.5,1069.8 L492.5,1070.7 L493.4,1071.6 L494.4,1072.4 L495.4,1073.3 L496.4,1074.1 L497.4,1074.9 L498.4,1075.7 L499.5,1076.5 L500.5,1077.3 L501.6,1078.1 L502.6,1078.8 L503.7,1079.5 L504.8,1080.3 L505.9,1081.0 L507.0,1081.6 L508.1,1082.3 L509.2,1083.0 L510.3,1083.6 L511.5,1084.2 L512.6,1084.8 L513.8,1085.4 L515.0,1085.9 L516.2,1086.5 L517.3,1087.0 L518.6,1087.5 L519.8,1088.0 L521.0,1088.5 L522.2,1088.9 L523.5,1089.4 L524.7,1089.8 L526.0,1090.2 L527.3,1090.5 L528.6,1090.9 L529.9,1091.2 L531.2,1091.6 L532.5,1091.9 L533.8,1092.2 L535.2,1092.4 L536.5,1092.7 L537.9,1092.9 L539.2,1093.2 L540.6,1093.4 L541.9,1093.6 L543.3,1093.8 L544.7,1093.9 L546.1,1094.1 L547.4,1094.3 L548.8,1094.4 L550.2,1094.5 L551.6,1094.6 L553.0,1094.7 L554.4,1094.8 L555.8,1094.9 L557.2,1095.0 L558.6,1095.1 L560.0,1095.1 L561.4,1095.2 L562.8,1095.2 L564.2,1095.3 L565.6,1095.3 L567.0,1095.4 L568.4,1095.4 L569.8,1095.4 L571.2,1095.4 L572.6,1095.4 L573.9,1095.4 L575.3,1095.4 L576.7,1095.4 L578.1,1095.4 L579.4,1095.4 L580.8,1095.4 L582.1,1095.4 L583.5,1095.4 L584.8,1095.4 L586.2,1095.4 L587.5,1095.4 L588.8,1095.3 L590.2,1095.3 L591.5,1095.3 L592.8,1095.3 L594.1,1095.3 L595.4,1095.3 L596.8,1095.2 L598.1,1095.2 L599.4,1095.2 L600.7,1095.2 L602.0,1095.2 L603.3,1095.1 L604.6,1095.1 L605.9,1095.1 L607.2,1095.1 L608.5,1095.0 L609.8,1095.0 L611.1,1095.0 L612.4,1095.0 L613.7,1094.9 L615.0,1094.9 L616.3,1094.9 L617.6,1094.9 L618.9,1094.8 L620.2,1094.8 L621.5,1094.8 L622.8,1094.8 L624.1,1094.7 L625.4,1094.7 L626.8,1094.7 L628.1,1094.7 L629.4,1094.7 L630.7,1094.6 L632.1,1094.6 L633.4,1094.6 L634.7,1094.6 L636.1,1094.6 L637.4,1094.6 L638.8,1094.6 L640.2,1094.5 L641.5,1094.5 L642.9,1094.5 L644.3,1094.5 L645.7,1094.5 L647.1,1094.5 L648.5,1094.5 L649.9,1094.5 L651.3,1094.5 L652.7,1094.5 L654.1,1094.5" fill="none" stroke="#ff0000" stroke-width="4.8" stroke-linejoin="round"/>
<path d="M51.3,1099.0 L52.7,1098.8 L54.0,1098.6 L55.4,1098.5 L56.7,1098.3 L58.0,1098.1 L59.4,1098.0 L60.7,1097.8 L62.1,1097.7 L63.4,1097.5 L64.8,1097.4 L66.1,1097.2 L67.5,1097.1 L68.8,1096.9 L70.1,1096.8 L71.5,1096.6 L72.8,1096.5 L74.2,1096.4 L75.5,1096.3 L76.9,1096.1 L78.2,1096.0 L79.5,1095.9 L80.9,1095.8 L82.2,1095.7 L83.6,1095.6 L84.9,1095.5 L86.2,1095.4 L87.6,1095.3 L88.9,1095.2 L90.3,1095.2 L91.6,1095.1 L92.9,1095.0 L94.3,1095.0 L95.6,1094.9 L97.0,1094.9 L98.3,1094.8 L99.7,1094.8 L101.0,1094.7 L102.4,1094.7 L103.7,1094.7 L105.0,1094.7 L106.4,1094.7 L107.7,1094.7 L109.1,1094.7 L110.4,1094.7 L111.8,1094.7 L113.1,1094.8 L114.5,1094.8 L115.9,1094.8 L117.2,1094.9 L118.6,1095.0 L119.9,1095.0 L121.3,1095.1 L122.6,1095.2 L124.0,1095.3 L125.4,1095.3 L126.7,1095.4 L128.1,1095.5 L129.4,1095.6 L130.8,1095.7 L132.2,1095.8 L133.5,1095.9 L134.9,1096.0 L136.2,1096.1 L137.6,1096.2 L139.0,1096.3 L140.3,1096.4 L141.7,1096.5 L143.1,1096.6 L144.4,1096.7 L145.8,1096.8 L147.2,1096.8 L148.5,1096.9 L149.9,1097.0 L151.2,1097.1 L152.6,1097.1 L154.0,1097.2 L155.3,1097.2 L156.7,1097.2 L158.0,1097.3 L159.4,1097.3 L160.8,1097.3 L162.1,1097.3 L163.5,1097.3 L164.8,1097.2 L166.2,1097.2 L167.5,1097.1 L168.9,1097.1 L170.2,1097.0 L171.6,1096.9 L172.9,1096.8 L174.3,1096.7 L175.6,1096.5 L177.0,1096.4 L178.3,1096.2 L179.6,1096.0 L181.0,1095.9 L182.3,1095.6 L183.6,1095.4 L184.9,1095.2 L186.3,1095.0 L187.6,1094.7 L188.9,1094.4 L190.2,1094.1 L191.5,1093.8 L192.8,1093.5 L194.1,1093.2 L195.4,1092.9 L196.7,1092.5 L198.0,1092.1 L199.3,1091.7 L200.6,1091.4 L201.8,1090.9 L203.1,1090.5 L204.3,1090.1 L205.6,1089.6 L206.8,1089.1 L208.1,1088.7 L209.3,1088.2 L210.5,1087.7 L211.8,1087.1 L213.0,1086.6 L214.2,1086.0 L215.4,1085.5 L216.6,1084.9 L217.8,1084.3 L218.9,1083.7 L220.1,1083.0 L221.3,1082.4 L222.4,1081.7 L223.6,1081.1 L224.7,1080.4 L225.8,1079.7 L227.0,1079.0 L228.1,1078.2 L229.2,1077.5 L230.3,1076.7 L231.4,1075.9 L232.4,1075.1 L233.5,1074.3 L234.5,1073.5 L235.6,1072.7 L236.6,1071.8 L237.6,1071.0 L238.6,1070.1 L239.6,1069.2 L240.6,1068.3 L241.6,1067.4 L242.6,1066.4 L243.5,1065.5 L244.5,1064.5 L245.4,1063.5 L246.3,1062.5 L247.2,1061.5 L248.1,1060.5 L249.0,1059.4 L249.9,1058.4 L250.8,1057.3 L251.6,1056.2 L252.5,1055.2 L253.3,1054.1 L254.1,1053.0 L254.9,1051.9 L255.7,1050.7 L256.5,1049.6 L257.3,1048.5 L258.1,1047.3 L258.8,1046.2 L259.6,1045.0 L260.3,1043.8 L261.0,1042.7 L261.7,1041.5 L262.4,1040.3 L263.1,1039.1 L263.8,1037.9 L264.5,1036.7 L265.1,1035.5 L265.8,1034.3 L266.4,1033.1 L267.1,1031.9 L267.7,1030.6 L268.3,1029.4 L268.9,1028.2 L269.5,1027.0 L270.1,1025.7 L270.6,1024.5 L271.2,1023.3 L271.7,1022.0 L272.3,1020.8 L272.8,1019.6 L273.4,1018.3 L273.9,1017.1 L274.4,1015.8 L274.9,1014.6 L275.4,1013.4 L275.9,1012.1 L276.4,1010.9 L276.9,1009.6 L277.4,1008.4 L277.8,1007.1 L278.3,1005.8 L278.8,1004.6 L279.2,1003.3 L279.7,1002.1 L280.1,1000.8 L280.6,999.6 L281.0,998.3 L281.4,997.0 L281.9,995.8 L282.3,994.5 L282.7,993.2 L283.2,992.0 L283.6,990.7 L284.0,989.4 L284.4,988.2 L284.9,986.9 L285.3,985.6 L285.7,984.4 L286.1,983.1 L286.5,981.8 L287.0,980.5 L287.4,979.3 L287.8,978.0 L288.2,976.7 L288.7,975.5 L289.1,974.2 L289.5,972.9 L289.9,971.6 L290.4,970.4 L290.8,969.1 L291.2,967.8 L291.7,966.6 L292.1,965.3 L292.6,964.0 L293.0,962.7 L293.5,961.5 L293.9,960.2 L294.4,958.9 L294.8,957.7 L295.3,956.4 L295.7,955.1 L296.2,953.9 L296.6,952.6 L297.1,951.3 L297.5,950.0 L298.0,948.8 L298.4,947.5 L298.9,946.2 L299.3,944.9 L299.8,943.7 L300.2,942.4 L300.7,941.1 L301.1,939.8 L301.5,938.5 L302.0,937.3 L302.4,936.0 L302.9,934.7 L303.3,933.4 L303.7,932.1 L304.2,930.8 L304.6,929.6 L305.0,928.3 L305.4,927.0 L305.8,925.7 L306.2,924.4 L306.7,923.1 L307.1,921.8 L307.5,920.5 L307.8,919.2 L308.2,917.9 L308.6,916.6 L309.0,915.3 L309.4,914.0 L309.8,912.7 L310.1,911.4 L310.5,910.1 L310.8,908.8 L311.2,907.5 L311.5,906.2 L311.9,904.8 L312.2,903.5 L312.5,902.2 L312.8,900.9 L313.2,899.6 L313.5,898.2 L313.8,896.9 L314.1,895.6 L314.4,894.3 L314.7,892.9 L315.0,891.6 L315.3,890.3 L315.6,889.0 L315.9,887.6 L316.2,886.3 L316.5,885.0 L316.8,883.6 L317.1,882.3 L317.3,881.0 L317.6,879.7 L317.9,878.3 L318.2,877.0 L318.5,875.7 L318.8,874.4 L319.1,873.0 L319.4,871.7 L319.7,870.4 L320.0,869.1 L320.3,867.7 L320.6,866.4 L320.9,865.1 L321.2,863.8 L321.6,862.5 L321.9,861.2 L322.2,859.9 L322.5,858.6 L322.9,857.2 L323.2,855.9 L323.6,854.6 L323.9,853.3 L324.3,852.0 L324.6,850.7 L325.0,849.5 L325.4,848.2 L325.8,846.9 L326.1,845.6 L326.5,844.3 L327.0,843.0 L327.4,841.8 L327.8,840.5 L328.2,839.2 L328.7,838.0 L329.1,836.7 L329.6,835.4 L330.0,834.2 L330.5,832.9 L331.0,831.7 L331.5,830.4 L332.0,829.2 L332.5,828.0 L333.1,826.7 L333.6,825.5 L334.2,824.3 L334.7,823.1 L335.3,821.9 L335.9,820.6 L336.4,819.4 L337.0,818.2 L337.6,817.0 L338.2,815.8 L338.8,814.6 L339.3,813.3 L339.9,812.1 L340.5,810.9 L341.1,809.6 L341.6,808.4 L342.2,807.2 L342.8,805.9 L343.3,804.6 L343.8,803.4 L344.4,802.1 L344.9,800.8 L345.4,799.6 L345.9,798.3 L346.4,797.0 L346.9,795.7 L347.4,794.4 L348.0,793.2 L348.5,791.9 L349.1,790.7 L349.7,789.5 L350.4,788.3 L351.1,787.2 L351.8,786.1 L352.6,785.0 L353.4,783.9 L354.3,782.9 L355.2,782.0 L356.2,781.1 L357.3,780.2 L358.4,779.4 L359.6,778.7 L360.8,778.0 L362.1,777.5 L363.3,777.1 L364.6,776.8 L365.9,776.6 L367.2,776.6 L368.5,776.8 L369.7,777.2 L370.9,777.7 L372.1,778.3 L373.3,779.0 L374.3,779.9 L375.4,780.8 L376.3,781.8 L377.3,782.8 L378.1,783.9 L378.9,785.0 L379.7,786.1 L380.5,787.3 L381.2,788.5 L381.9,789.6 L382.6,790.8 L383.3,792.0 L383.9,793.2 L384.6,794.4 L385.2,795.6 L385.8,796.8 L386.5,798.0 L387.1,799.3 L387.6,800.5 L388.2,801.7 L388.8,802.9 L389.3,804.2 L389.9,805.4 L390.4,806.6 L390.9,807.9 L391.5,809.1 L392.0,810.4 L392.5,811.6 L392.9,812.9 L393.4,814.1 L393.9,815.4 L394.4,816.7 L394.8,817.9 L395.3,819.2 L395.7,820.5 L396.1,821.7 L396.6,823.0 L397.0,824.3 L397.4,825.6 L397.8,826.9 L398.2,828.1 L398.6,829.4 L399.0,830.7 L399.4,832.0 L399.8,833.3 L400.2,834.6 L400.6,835.9 L401.0,837.2 L401.4,838.4 L401.7,839.7 L402.1,841.0 L402.5,842.3 L402.9,843.6 L403.2,844.9 L403.6,846.2 L404.0,847.5 L404.3,848.8 L404.7,850.1 L405.1,851.4 L405.4,852.7 L405.8,854.0 L406.2,855.3 L406.6,856.6 L406.9,857.9 L407.3,859.2 L407.7,860.5 L408.0,861.8 L408.4,863.1 L408.8,864.4 L409.2,865.7 L409.5,867.0 L409.9,868.3 L410.3,869.6 L410.7,870.9 L411.0,872.2 L411.4,873.5 L411.8,874.8 L412.2,876.1 L412.5,877.4 L412.9,878.7 L413.3,880.0 L413.7,881.3 L414.1,882.6 L414.4,883.9 L414.8,885.2 L415.2,886.5 L415.6,887.8 L416.0,889.0 L416.3,890.3 L416.7,891.6 L417.1,892.9 L417.5,894.2 L417.9,895.5 L418.3,896.8 L418.6,898.1 L419.0,899.4 L419.4,900.7 L419.8,902.0 L420.2,903.3 L420.6,904.6 L421.0,905.9 L421.4,907.2 L421.8,908.5 L422.2,909.8 L422.6,911.1 L423.0,912.4 L423.4,913.7 L423.8,915.0 L424.2,916.3 L424.6,917.6 L425.0,918.8 L425.4,920.1 L425.8,921.4 L426.2,922.7 L426.6,924.0 L427.0,925.3 L427.4,926.6 L427.8,927.9 L428.2,929.2 L428.6,930.5 L429.0,931.8 L429.4,933.0 L429.9,934.3 L430.3,935.6 L430.7,936.9 L431.1,938.2 L431.5,939.5 L432.0,940.8 L432.4,942.0 L432.8,943.3 L433.2,944.6 L433.6,945.9 L434.1,947.2 L434.5,948.5 L434.9,949.7 L435.4,951.0 L435.8,952.3 L436.2,953.6 L436.7,954.9 L437.1,956.1 L437.6,957.4 L438.0,958.7 L438.4,960.0 L438.9,961.3 L439.3,962.5 L439.8,963.8 L440.2,965.1 L440.7,966.4 L441.1,967.6 L441.6,968.9 L442.1,970.2 L442.5,971.4 L443.0,972.7 L443.4,974.0 L443.9,975.3 L444.4,976.5 L444.8,977.8 L445.3,979.1 L445.8,980.3 L446.2,981.6 L446.7,982.9 L447.2,984.1 L447.7,985.4 L448.2,986.6 L448.6,987.9 L449.1,989.2 L449.6,990.4 L450.1,991.7 L450.6,992.9 L451.1,994.2 L451.6,995.4 L452.1,996.7 L452.6,998.0 L453.1,999.2 L453.6,1000.5 L454.1,1001.7 L454.6,1002.9 L455.1,1004.2 L455.7,1005.4 L456.2,1006.7 L456.7,1007.9 L457.3,1009.1 L457.8,1010.4 L458.3,1011.6 L458.9,1012.8 L459.5,1014.0 L460.0,1015.3 L460.6,1016.5 L461.2,1017.7 L461.7,1018.9 L462.3,1020.1 L462.9,1021.3 L463.5,1022.5 L464.1,1023.7 L464.7,1024.9 L465.3,1026.1 L466.0,1027.3 L466.6,1028.5 L467.2,1029.6 L467.9,1030.8 L468.5,1032.0 L469.2,1033.1 L469.9,1034.3 L470.6,1035.4 L471.2,1036.6 L471.9,1037.7 L472.6,1038.9 L473.4,1040.0 L474.1,1041.1 L474.8,1042.2 L475.6,1043.4 L476.3,1044.5 L477.1,1045.6 L477.9,1046.7 L478.6,1047.8 L479.4,1048.9 L480.2,1049.9 L481.0,1051.0 L481.9,1052.1 L482.7,1053.1 L483.6,1054.2 L484.4,1055.2 L485.3,1056.3 L486.2,1057.3 L487.1,1058.3 L488.0,1059.3 L488.9,1060.3 L489.8,1061.3 L490.8,1062.3 L491.7,1063.3 L492.7,1064.3 L493.6,1065.3 L494.6,1066.2 L495.6,1067.2 L496.6,1068.1 L497.6,1069.0 L498.7,1069.9 L499.7,1070.8 L500.7,1071.7 L501.8,1072.6 L502.9,1073.5 L503.9,1074.3 L505.0,1075.2 L506.1,1076.0 L507.2,1076.8 L508.3,1077.6 L509.4,1078.4 L510.6,1079.1 L511.7,1079.9 L512.8,1080.6 L514.0,1081.4 L515.1,1082.1 L516.3,1082.7 L517.5,1083.4 L518.7,1084.1 L519.8,1084.7 L521.0,1085.3 L522.2,1085.9 L523.4,1086.5 L524.6,1087.1 L525.8,1087.6 L527.1,1088.1 L528.3,1088.6 L529.5,1089.1 L530.8,1089.6 L532.0,1090.0 L533.2,1090.5 L534.5,1090.9 L535.7,1091.3 L537.0,1091.7 L538.3,1092.0 L539.5,1092.4 L540.8,1092.7 L542.1,1093.0 L543.4,1093.4 L544.7,1093.6 L546.0,1093.9 L547.3,1094.2 L548.6,1094.5 L549.9,1094.7 L551.2,1094.9 L552.5,1095.1 L553.8,1095.3 L555.1,1095.5 L556.5,1095.7 L557.8,1095.9 L559.1,1096.0 L560.4,1096.2 L561.8,1096.3 L563.1,1096.5 L564.5,1096.6 L565.8,1096.7 L567.1,1096.8 L568.5,1096.9 L569.8,1097.0 L571.2,1097.0 L572.6,1097.1 L573.9,1097.2 L575.3,1097.2 L576.6,1097.3 L578.0,1097.3 L579.4,1097.3 L580.7,1097.4 L582.1,1097.4 L583.5,1097.4 L584.8,1097.4 L586.2,1097.4 L587.6,1097.4 L588.9,1097.4 L590.3,1097.4 L591.7,1097.4 L593.1,1097.4 L594.4,1097.4 L595.8,1097.4 L597.2,1097.4 L598.6,1097.3 L599.9,1097.3 L601.3,1097.3 L602.7,1097.3 L604.1,1097.3 L605.4,1097.2 L606.8,1097.2 L608.2,1097.2 L609.6,1097.2 L610.9,1097.1 L612.3,1097.1 L613.7,1097.1 L615.0,1097.1 L616.4,1097.1 L617.8,1097.1 L619.1,1097.1 L620.5,1097.0 L621.9,1097.0 L623.2,1097.0 L624.6,1097.1 L625.9,1097.1 L627.3,1097.1 L628.6,1097.1 L630.0,1097.1 L631.3,1097.1 L632.7,1097.2 L634.0,1097.2 L635.4,1097.3 L636.7,1097.3 L638.0,1097.4 L639.4,1097.5 L640.7,1097.5 L642.0,1097.6 L643.3,1097.7 L644.7,1097.8 L646.0,1097.9 L647.3,1098.1 L648.6,1098.2 L649.9,1098.3 L651.2,1098.5 L652.5,1098.6 L653.8,1098.8 L654.1,1098.9" fill="none" stroke="#0000ff" stroke-width="4.8" stroke-linejoin="round"/>
<path d="M51.3,1097.4 L52.6,1097.2 L53.8,1097.0 L55.1,1096.8 L56.4,1096.6 L57.7,1096.3 L59.0,1096.0 L60.2,1095.7 L61.5,1095.3 L62.8,1095.0 L64.1,1094.6 L65.4,1094.2 L66.6,1093.9 L67.9,1093.5 L69.2,1093.1 L70.5,1092.7 L71.8,1092.3 L73.0,1091.9 L74.3,1091.5 L75.6,1091.1 L76.9,1090.7 L78.2,1090.3 L79.4,1090.0 L80.7,1089.6 L82.0,1089.3 L83.3,1089.0 L84.6,1088.7 L85.8,1088.5 L87.1,1088.2 L88.4,1088.0 L89.7,1087.8 L91.0,1087.6 L92.3,1087.5 L93.5,1087.4 L94.8,1087.2 L96.1,1087.1 L97.4,1087.1 L98.7,1087.0 L100.0,1086.9 L101.3,1086.9 L102.6,1086.9 L103.9,1086.9 L105.2,1086.9 L106.5,1086.9 L107.8,1086.9 L109.1,1086.9 L110.4,1087.0 L111.7,1087.0 L113.0,1087.0 L114.3,1087.1 L115.6,1087.2 L117.0,1087.2 L118.3,1087.3 L119.6,1087.4 L120.9,1087.5 L122.3,1087.5 L123.6,1087.6 L125.0,1087.7 L126.3,1087.8 L127.6,1087.8 L129.0,1087.9 L130.3,1087.9 L131.7,1088.0 L133.0,1088.0 L134.3,1088.1 L135.7,1088.1 L137.0,1088.1 L138.3,1088.1 L139.7,1088.1 L141.0,1088.1 L142.3,1088.0 L143.6,1088.0 L145.0,1087.9 L146.3,1087.8 L147.6,1087.7 L148.9,1087.5 L150.2,1087.4 L151.5,1087.2 L152.7,1087.0 L154.0,1086.7 L155.3,1086.5 L156.5,1086.2 L157.8,1085.9 L159.0,1085.5 L160.2,1085.2 L161.5,1084.8 L162.7,1084.3 L163.9,1083.9 L165.1,1083.4 L166.3,1082.9 L167.5,1082.4 L168.6,1081.9 L169.8,1081.3 L171.0,1080.8 L172.2,1080.2 L173.3,1079.6 L174.5,1079.0 L175.6,1078.4 L176.8,1077.7 L177.9,1077.1 L179.1,1076.4 L180.2,1075.8 L181.4,1075.1 L182.5,1074.4 L183.6,1073.8 L184.8,1073.1 L185.9,1072.4 L187.0,1071.7 L188.2,1071.0 L189.3,1070.3 L190.5,1069.7 L191.6,1069.0 L192.7,1068.3 L193.9,1067.6 L195.0,1066.9 L196.1,1066.2 L197.2,1065.5 L198.4,1064.8 L199.5,1064.1 L200.6,1063.3 L201.7,1062.6 L202.8,1061.9 L203.9,1061.2 L205.1,1060.4 L206.2,1059.7 L207.3,1059.0 L208.4,1058.2 L209.4,1057.5 L210.5,1056.7 L211.6,1056.0 L212.7,1055.2 L213.8,1054.5 L214.8,1053.7 L215.9,1052.9 L217.0,1052.1 L218.0,1051.3 L219.1,1050.6 L220.1,1049.8 L221.1,1049.0 L222.2,1048.1 L223.2,1047.3 L224.2,1046.5 L225.2,1045.7 L226.2,1044.8 L227.2,1044.0 L228.2,1043.1 L229.2,1042.3 L230.1,1041.4 L231.1,1040.5 L232.1,1039.6 L233.0,1038.7 L233.9,1037.8 L234.9,1036.9 L235.8,1036.0 L236.7,1035.1 L237.6,1034.2 L238.5,1033.2 L239.4,1032.3 L240.2,1031.3 L241.1,1030.3 L242.0,1029.3 L242.8,1028.4 L243.6,1027.4 L244.5,1026.4 L245.3,1025.3 L246.1,1024.3 L246.9,1023.3 L247.6,1022.2 L248.4,1021.2 L249.2,1020.1 L250.0,1019.1 L250.7,1018.0 L251.4,1016.9 L252.2,1015.8 L252.9,1014.8 L253.6,1013.7 L254.3,1012.6 L255.0,1011.4 L255.7,1010.3 L256.4,1009.2 L257.1,1008.1 L257.8,1007.0 L258.4,1005.8 L259.1,1004.7 L259.7,1003.5 L260.4,1002.4 L261.0,1001.2 L261.6,1000.1 L262.3,998.9 L262.9,997.8 L263.5,996.6 L264.1,995.4 L264.7,994.2 L265.3,993.1 L265.9,991.9 L266.5,990.7 L267.1,989.5 L267.6,988.3 L268.2,987.1 L268.8,985.9 L269.3,984.7 L269.9,983.5 L270.4,982.3 L271.0,981.1 L271.5,979.9 L272.1,978.7 L272.6,977.5 L273.1,976.3 L273.7,975.1 L274.2,973.9 L274.7,972.7 L275.2,971.5 L275.7,970.3 L276.2,969.1 L276.7,967.9 L277.2,966.7 L277.7,965.4 L278.2,964.2 L278.7,963.0 L279.2,961.8 L279.7,960.6 L280.2,959.3 L280.6,958.1 L281.1,956.9 L281.6,955.7 L282.0,954.4 L282.5,953.2 L282.9,952.0 L283.4,950.8 L283.9,949.5 L284.3,948.3 L284.7,947.1 L285.2,945.8 L285.6,944.6 L286.1,943.4 L286.5,942.1 L286.9,940.9 L287.4,939.6 L287.8,938.4 L288.2,937.2 L288.6,935.9 L289.1,934.7 L289.5,933.4 L289.9,932.2 L290.3,930.9 L290.7,929.7 L291.1,928.5 L291.5,927.2 L291.9,926.0 L292.4,924.7 L292.8,923.5 L293.2,922.2 L293.6,921.0 L294.0,919.7 L294.3,918.5 L294.7,917.2 L295.1,916.0 L295.5,914.7 L295.9,913.4 L296.3,912.2 L296.7,910.9 L297.1,909.7 L297.5,908.4 L297.8,907.2 L298.2,905.9 L298.6,904.7 L299.0,903.4 L299.4,902.1 L299.7,900.9 L300.1,899.6 L300.5,898.4 L300.9,897.1 L301.3,895.8 L301.6,894.6 L302.0,893.3 L302.4,892.1 L302.8,890.8 L303.1,889.5 L303.5,888.3 L303.9,887.0 L304.3,885.8 L304.6,884.5 L305.0,883.2 L305.4,882.0 L305.8,880.7 L306.1,879.5 L306.5,878.2 L306.9,876.9 L307.3,875.7 L307.6,874.4 L308.0,873.2 L308.4,871.9 L308.8,870.6 L309.1,869.4 L309.5,868.1 L309.9,866.8 L310.3,865.6 L310.7,864.3 L311.0,863.1 L311.4,861.8 L311.8,860.5 L312.2,859.3 L312.6,858.0 L313.0,856.8 L313.4,855.5 L313.7,854.3 L314.1,853.0 L314.5,851.7 L314.9,850.5 L315.3,849.2 L315.8,848.0 L316.2,846.7 L316.6,845.5 L317.0,844.2 L317.4,843.0 L317.8,841.7 L318.2,840.5 L318.7,839.3 L319.1,838.0 L319.5,836.8 L320.0,835.5 L320.4,834.3 L320.9,833.1 L321.3,831.8 L321.8,830.6 L322.3,829.4 L322.7,828.1 L323.2,826.9 L323.7,825.7 L324.2,824.5 L324.6,823.3 L325.1,822.0 L325.6,820.8 L326.1,819.6 L326.7,818.4 L327.2,817.2 L327.7,816.0 L328.2,814.8 L328.8,813.6 L329.3,812.4 L329.9,811.2 L330.4,810.0 L331.0,808.8 L331.6,807.7 L332.1,806.5 L332.7,805.3 L333.3,804.1 L333.9,803.0 L334.5,801.8 L335.2,800.6 L335.8,799.5 L336.4,798.3 L337.1,797.2 L337.7,796.0 L338.4,794.9 L339.0,793.8 L339.7,792.6 L340.4,791.5 L341.1,790.4 L341.9,789.3 L342.6,788.2 L343.4,787.2 L344.2,786.1 L345.0,785.1 L345.8,784.1 L346.7,783.1 L347.6,782.1 L348.5,781.2 L349.5,780.3 L350.5,779.5 L351.5,778.7 L352.6,778.0 L353.7,777.4 L354.9,777.0 L356.2,776.6 L357.4,776.4 L358.8,776.3 L360.1,776.4 L361.4,776.5 L362.7,776.8 L363.9,777.1 L365.1,777.6 L366.3,778.2 L367.4,778.9 L368.4,779.7 L369.4,780.5 L370.3,781.4 L371.2,782.4 L372.1,783.4 L372.9,784.4 L373.7,785.5 L374.5,786.5 L375.2,787.6 L375.9,788.7 L376.6,789.9 L377.3,791.0 L377.9,792.2 L378.5,793.3 L379.1,794.5 L379.7,795.7 L380.3,796.9 L380.9,798.0 L381.4,799.2 L381.9,800.4 L382.4,801.7 L383.0,802.9 L383.5,804.1 L384.0,805.3 L384.5,806.5 L385.0,807.7 L385.5,808.9 L386.0,810.2 L386.5,811.4 L387.0,812.6 L387.5,813.8 L388.1,815.0 L388.6,816.2 L389.1,817.4 L389.7,818.6 L390.2,819.8 L390.7,821.0 L391.3,822.2 L391.8,823.4 L392.3,824.5 L392.9,825.7 L393.4,826.9 L394.0,828.1 L394.5,829.3 L395.0,830.5 L395.5,831.7 L396.1,832.9 L396.6,834.1 L397.1,835.3 L397.6,836.5 L398.1,837.7 L398.6,838.9 L399.1,840.1 L399.6,841.3 L400.0,842.5 L400.5,843.8 L401.0,845.0 L401.4,846.2 L401.8,847.4 L402.3,848.7 L402.7,849.9 L403.1,851.2 L403.5,852.4 L403.9,853.7 L404.3,854.9 L404.6,856.2 L405.0,857.4 L405.4,858.7 L405.7,860.0 L406.1,861.3 L406.4,862.5 L406.8,863.8 L407.1,865.1 L407.4,866.4 L407.8,867.6 L408.1,868.9 L408.4,870.2 L408.8,871.5 L409.1,872.8 L409.4,874.1 L409.8,875.3 L410.1,876.6 L410.4,877.9 L410.8,879.2 L411.1,880.5 L411.4,881.7 L411.8,883.0 L412.1,884.3 L412.5,885.6 L412.8,886.8 L413.2,888.1 L413.6,889.4 L413.9,890.6 L414.3,891.9 L414.7,893.2 L415.0,894.4 L415.4,895.7 L415.8,896.9 L416.2,898.2 L416.6,899.5 L416.9,900.7 L417.3,902.0 L417.7,903.2 L418.1,904.5 L418.5,905.7 L418.9,907.0 L419.3,908.2 L419.7,909.5 L420.1,910.7 L420.6,912.0 L421.0,913.2 L421.4,914.5 L421.8,915.7 L422.2,916.9 L422.7,918.2 L423.1,919.4 L423.5,920.7 L423.9,921.9 L424.4,923.1 L424.8,924.4 L425.3,925.6 L425.7,926.8 L426.1,928.1 L426.6,929.3 L427.0,930.5 L427.5,931.8 L428.0,933.0 L428.4,934.2 L428.9,935.4 L429.3,936.7 L429.8,937.9 L430.3,939.1 L430.7,940.3 L431.2,941.6 L431.7,942.8 L432.2,944.0 L432.6,945.2 L433.1,946.5 L433.6,947.7 L434.1,948.9 L434.6,950.1 L435.1,951.3 L435.6,952.5 L436.0,953.8 L436.5,955.0 L437.0,956.2 L437.5,957.4 L438.0,958.6 L438.5,959.8 L439.1,961.0 L439.6,962.2 L440.1,963.4 L440.6,964.7 L441.1,965.9 L441.6,967.1 L442.1,968.3 L442.6,969.5 L443.2,970.7 L443.7,971.9 L444.2,973.1 L444.7,974.3 L445.3,975.5 L445.8,976.7 L446.3,977.9 L446.9,979.1 L447.4,980.3 L447.9,981.5 L448.5,982.7 L449.0,983.9 L449.6,985.1 L450.1,986.3 L450.6,987.5 L451.2,988.7 L451.7,989.9 L452.3,991.1 L452.8,992.3 L453.4,993.5 L453.9,994.7 L454.5,995.9 L455.0,997.1 L455.6,998.3 L456.2,999.5 L456.7,1000.7 L457.3,1001.9 L457.9,1003.1 L458.4,1004.3 L459.0,1005.5 L459.5,1006.7 L460.1,1007.9 L460.7,1009.1 L461.3,1010.3 L461.8,1011.5 L462.4,1012.6 L463.0,1013.8 L463.6,1015.0 L464.2,1016.2 L464.8,1017.4 L465.4,1018.6 L466.0,1019.7 L466.6,1020.9 L467.2,1022.1 L467.8,1023.3 L468.4,1024.4 L469.0,1025.6 L469.7,1026.7 L470.3,1027.9 L470.9,1029.0 L471.6,1030.2 L472.2,1031.3 L472.9,1032.4 L473.6,1033.5 L474.3,1034.7 L474.9,1035.8 L475.6,1036.9 L476.3,1038.0 L477.1,1039.1 L477.8,1040.1 L478.5,1041.2 L479.2,1042.3 L480.0,1043.3 L480.8,1044.4 L481.5,1045.4 L482.3,1046.5 L483.1,1047.5 L483.9,1048.5 L484.7,1049.5 L485.5,1050.5 L486.4,1051.5 L487.2,1052.5 L488.1,1053.4 L489.0,1054.4 L489.9,1055.3 L490.8,1056.3 L491.7,1057.2 L492.6,1058.1 L493.5,1059.0 L494.5,1059.9 L495.5,1060.8 L496.5,1061.6 L497.5,1062.5 L498.5,1063.3 L499.5,1064.1 L500.5,1064.9 L501.6,1065.7 L502.6,1066.5 L503.7,1067.3 L504.8,1068.1 L505.9,1068.9 L507.0,1069.6 L508.1,1070.4 L509.2,1071.1 L510.3,1071.9 L511.4,1072.6 L512.6,1073.3 L513.7,1074.0 L514.8,1074.8 L515.9,1075.5 L517.1,1076.2 L518.2,1076.9 L519.3,1077.6 L520.5,1078.3 L521.6,1079.0 L522.8,1079.6 L523.9,1080.3 L525.1,1080.9 L526.2,1081.6 L527.4,1082.2 L528.6,1082.8 L529.7,1083.4 L530.9,1083.9 L532.1,1084.5 L533.3,1085.0 L534.5,1085.5 L535.7,1086.0 L536.9,1086.5 L538.1,1087.0 L539.3,1087.4 L540.5,1087.8 L541.7,1088.3 L543.0,1088.6 L544.2,1089.0 L545.4,1089.4 L546.7,1089.7 L547.9,1090.1 L549.2,1090.4 L550.4,1090.7 L551.7,1091.0 L552.9,1091.3 L554.2,1091.5 L555.5,1091.8 L556.8,1092.0 L558.0,1092.2 L559.3,1092.4 L560.6,1092.6 L561.9,1092.8 L563.2,1093.0 L564.5,1093.2 L565.8,1093.3 L567.0,1093.5 L568.3,1093.6 L569.7,1093.7 L571.0,1093.9 L572.3,1094.0 L573.6,1094.1 L574.9,1094.2 L576.2,1094.2 L577.5,1094.3 L578.8,1094.4 L580.2,1094.4 L581.5,1094.5 L582.8,1094.5 L584.1,1094.6 L585.5,1094.6 L586.8,1094.7 L588.1,1094.7 L589.4,1094.7 L590.8,1094.7 L592.1,1094.7 L593.4,1094.8 L594.8,1094.8 L596.1,1094.8 L597.4,1094.8 L598.8,1094.8 L600.1,1094.8 L601.4,1094.8 L602.8,1094.7 L604.1,1094.7 L605.4,1094.7 L606.8,1094.7 L608.1,1094.7 L609.4,1094.7 L610.8,1094.7 L612.1,1094.7 L613.4,1094.7 L614.8,1094.7 L616.1,1094.7 L617.4,1094.7 L618.8,1094.7 L620.1,1094.7 L621.4,1094.7 L622.7,1094.7 L624.1,1094.7 L625.4,1094.7 L626.7,1094.7 L628.0,1094.8 L629.3,1094.8 L630.7,1094.8 L632.0,1094.9 L633.3,1094.9 L634.6,1095.0 L635.9,1095.0 L637.2,1095.1 L638.5,1095.2 L639.8,1095.3 L641.1,1095.4 L642.4,1095.5 L643.7,1095.6 L645.0,1095.7 L646.2,1095.8 L647.5,1095.9 L648.8,1096.1 L650.1,1096.2 L651.3,1096.4 L652.6,1096.6 L653.9,1096.8 L654.2,1096.8" fill="none" stroke="#70ad47" stroke-width="4.8" stroke-linejoin="round"/>
<path d="M51.3,1432.2 L52.7,1432.3 L54.0,1432.3 L55.4,1432.3 L56.8,1432.3 L58.2,1432.3 L59.6,1432.3 L61.0,1432.3 L62.4,1432.3 L63.8,1432.3 L65.1,1432.3 L66.5,1432.3 L67.9,1432.3 L69.3,1432.3 L70.7,1432.3 L72.0,1432.3 L73.4,1432.3 L74.8,1432.3 L76.1,1432.3 L77.5,1432.3 L78.9,1432.3 L80.2,1432.3 L81.6,1432.3 L82.9,1432.3 L84.3,1432.3 L85.6,1432.3 L87.0,1432.3 L88.3,1432.3 L89.7,1432.3 L91.0,1432.3 L92.4,1432.2 L93.7,1432.0 L95.0,1431.8 L96.3,1431.6 L97.7,1431.4 L99.0,1431.2 L100.3,1430.9 L101.6,1430.7 L102.9,1430.4 L104.2,1430.1 L105.5,1429.8 L106.8,1429.5 L108.1,1429.2 L109.4,1428.9 L110.6,1428.5 L111.9,1428.1 L113.2,1427.7 L114.4,1427.3 L115.7,1426.9 L117.0,1426.5 L118.2,1426.0 L119.4,1425.6 L120.7,1425.1 L121.9,1424.6 L123.1,1424.1 L124.4,1423.5 L125.6,1423.0 L126.8,1422.4 L128.0,1421.8 L129.2,1421.2 L130.4,1420.6 L131.6,1419.9 L132.7,1419.3 L133.9,1418.6 L135.1,1417.9 L136.2,1417.2 L137.4,1416.5 L138.5,1415.8 L139.7,1415.0 L140.8,1414.3 L141.9,1413.5 L143.0,1412.7 L144.2,1411.9 L145.3,1411.1 L146.3,1410.2 L147.4,1409.4 L148.5,1408.5 L149.6,1407.7 L150.6,1406.8 L151.7,1405.9 L152.7,1405.0 L153.8,1404.1 L154.8,1403.1 L155.8,1402.2 L156.8,1401.2 L157.8,1400.3 L158.8,1399.3 L159.8,1398.3 L160.8,1397.3 L161.8,1396.3 L162.7,1395.3 L163.7,1394.3 L164.6,1393.3 L165.5,1392.2 L166.4,1391.2 L167.3,1390.1 L168.2,1389.0 L169.1,1388.0 L170.0,1386.9 L170.9,1385.8 L171.7,1384.7 L172.6,1383.6 L173.4,1382.5 L174.2,1381.4 L175.0,1380.3 L175.8,1379.2 L176.6,1378.0 L177.4,1376.9 L178.2,1375.8 L178.9,1374.6 L179.7,1373.5 L180.4,1372.3 L181.1,1371.2 L181.8,1370.0 L182.5,1368.9 L183.2,1367.7 L183.9,1366.5 L184.6,1365.4 L185.2,1364.2 L185.9,1363.0 L186.5,1361.8 L187.1,1360.6 L187.8,1359.4 L188.4,1358.2 L189.0,1357.0 L189.6,1355.8 L190.2,1354.6 L190.8,1353.4 L191.3,1352.2 L191.9,1351.0 L192.5,1349.8 L193.0,1348.5 L193.6,1347.3 L194.1,1346.1 L194.6,1344.9 L195.2,1343.6 L195.7,1342.4 L196.2,1341.2 L196.7,1339.9 L197.2,1338.7 L197.7,1337.4 L198.2,1336.2 L198.7,1334.9 L199.2,1333.7 L199.7,1332.4 L200.2,1331.2 L200.6,1329.9 L201.1,1328.7 L201.6,1327.4 L202.0,1326.1 L202.5,1324.9 L203.0,1323.6 L203.4,1322.3 L203.9,1321.1 L204.3,1319.8 L204.8,1318.5 L205.2,1317.2 L205.7,1316.0 L206.1,1314.7 L206.6,1313.4 L207.0,1312.1 L207.5,1310.9 L207.9,1309.6 L208.4,1308.3 L208.8,1307.0 L209.2,1305.8 L209.7,1304.5 L210.1,1303.2 L210.6,1301.9 L211.0,1300.6 L211.5,1299.3 L211.9,1298.1 L212.4,1296.8 L212.8,1295.5 L213.3,1294.2 L213.7,1292.9 L214.2,1291.6 L214.6,1290.3 L215.1,1289.1 L215.5,1287.8 L216.0,1286.5 L216.4,1285.2 L216.9,1283.9 L217.3,1282.6 L217.7,1281.3 L218.2,1280.0 L218.6,1278.7 L219.1,1277.5 L219.5,1276.2 L220.0,1274.9 L220.4,1273.6 L220.8,1272.3 L221.3,1271.0 L221.7,1269.7 L222.1,1268.4 L222.6,1267.1 L223.0,1265.8 L223.4,1264.5 L223.9,1263.2 L224.3,1261.9 L224.7,1260.6 L225.1,1259.3 L225.6,1258.0 L226.0,1256.7 L226.4,1255.4 L226.8,1254.1 L227.2,1252.8 L227.6,1251.5 L228.0,1250.2 L228.4,1248.9 L228.8,1247.6 L229.2,1246.3 L229.6,1245.0 L230.0,1243.7 L230.4,1242.4 L230.8,1241.1 L231.2,1239.7 L231.5,1238.4 L231.9,1237.1 L232.3,1235.8 L232.6,1234.5 L233.0,1233.2 L233.4,1231.9 L233.7,1230.6 L234.1,1229.2 L234.4,1227.9 L234.8,1226.6 L235.1,1225.3 L235.5,1224.0 L235.8,1222.7 L236.1,1221.4 L236.5,1220.0 L236.8,1218.7 L237.1,1217.4 L237.5,1216.1 L237.8,1214.8 L238.1,1213.4 L238.5,1212.1 L238.8,1210.8 L239.1,1209.5 L239.4,1208.2 L239.8,1206.8 L240.1,1205.5 L240.4,1204.2 L240.7,1202.9 L241.1,1201.6 L241.4,1200.3 L241.7,1198.9 L242.0,1197.6 L242.4,1196.3 L242.7,1195.0 L243.0,1193.7 L243.3,1192.4 L243.7,1191.0 L244.0,1189.7 L244.4,1188.4 L244.7,1187.1 L245.0,1185.8 L245.4,1184.5 L245.7,1183.2 L246.1,1181.9 L246.4,1180.6 L246.8,1179.3 L247.1,1177.9 L247.5,1176.6 L247.8,1175.3 L248.2,1174.0 L248.6,1172.7 L249.0,1171.4 L249.3,1170.1 L249.7,1168.8 L250.1,1167.5 L250.5,1166.2 L250.9,1164.9 L251.3,1163.7 L251.7,1162.4 L252.1,1161.1 L252.5,1159.8 L252.9,1158.5 L253.4,1157.2 L253.8,1155.9 L254.2,1154.6 L254.7,1153.4 L255.1,1152.1 L255.6,1150.8 L256.1,1149.5 L256.5,1148.3 L257.0,1147.0 L257.5,1145.7 L258.0,1144.4 L258.5,1143.2 L259.0,1141.9 L259.5,1140.7 L260.0,1139.4 L260.6,1138.1 L261.1,1136.9 L261.7,1135.6 L262.2,1134.4 L262.8,1133.1 L263.4,1131.9 L263.9,1130.6 L264.5,1129.4 L265.1,1128.2 L265.8,1126.9 L266.4,1125.7 L267.0,1124.5 L267.6,1123.2 L268.3,1122.0 L269.0,1120.8 L269.6,1119.6 L270.3,1118.4 L271.0,1117.2 L271.8,1116.0 L272.5,1114.9 L273.4,1113.8 L274.2,1112.8 L275.2,1111.8 L276.2,1110.9 L277.2,1110.1 L278.3,1109.5 L279.5,1108.9 L280.7,1108.6 L282.0,1108.3 L283.3,1108.3 L284.5,1108.4 L285.8,1108.6 L287.1,1109.0 L288.3,1109.5 L289.5,1110.2 L290.6,1110.9 L291.7,1111.8 L292.8,1112.7 L293.8,1113.7 L294.8,1114.8 L295.7,1115.9 L296.6,1117.0 L297.4,1118.1 L298.2,1119.3 L298.9,1120.5 L299.6,1121.6 L300.3,1122.8 L300.9,1124.1 L301.5,1125.3 L302.1,1126.5 L302.6,1127.7 L303.1,1129.0 L303.6,1130.2 L304.1,1131.5 L304.5,1132.8 L305.0,1134.0 L305.5,1135.3 L305.9,1136.6 L306.4,1137.8 L306.8,1139.1 L307.3,1140.4 L307.7,1141.6 L308.2,1142.9 L308.6,1144.2 L309.1,1145.5 L309.5,1146.7 L310.0,1148.0 L310.4,1149.3 L310.8,1150.6 L311.3,1151.8 L311.7,1153.1 L312.2,1154.4 L312.6,1155.7 L313.0,1157.0 L313.5,1158.2 L313.9,1159.5 L314.3,1160.8 L314.8,1162.1 L315.2,1163.4 L315.6,1164.7 L316.0,1166.0 L316.5,1167.2 L316.9,1168.5 L317.3,1169.8 L317.7,1171.1 L318.2,1172.4 L318.6,1173.7 L319.0,1175.0 L319.4,1176.3 L319.8,1177.6 L320.2,1178.9 L320.7,1180.2 L321.1,1181.5 L321.5,1182.8 L321.9,1184.1 L322.3,1185.3 L322.7,1186.6 L323.1,1187.9 L323.5,1189.2 L324.0,1190.5 L324.4,1191.8 L324.8,1193.1 L325.2,1194.4 L325.6,1195.7 L326.0,1197.0 L326.4,1198.3 L326.8,1199.6 L327.2,1200.9 L327.6,1202.2 L328.0,1203.6 L328.4,1204.9 L328.8,1206.2 L329.2,1207.5 L329.6,1208.8 L330.0,1210.1 L330.4,1211.4 L330.8,1212.7 L331.2,1214.0 L331.6,1215.3 L332.0,1216.6 L332.4,1217.9 L332.8,1219.2 L333.2,1220.5 L333.6,1221.8 L334.0,1223.1 L334.3,1224.4 L334.7,1225.7 L335.1,1227.0 L335.5,1228.3 L335.9,1229.7 L336.3,1231.0 L336.7,1232.3 L337.1,1233.6 L337.5,1234.9 L337.9,1236.2 L338.3,1237.5 L338.7,1238.8 L339.1,1240.1 L339.4,1241.4 L339.8,1242.7 L340.2,1244.0 L340.6,1245.3 L341.0,1246.6 L341.4,1247.9 L341.8,1249.3 L342.2,1250.6 L342.6,1251.9 L343.0,1253.2 L343.3,1254.5 L343.7,1255.8 L344.1,1257.1 L344.5,1258.4 L344.9,1259.7 L345.3,1261.0 L345.7,1262.3 L346.1,1263.6 L346.5,1264.9 L346.9,1266.2 L347.3,1267.5 L347.7,1268.8 L348.1,1270.1 L348.5,1271.4 L348.9,1272.7 L349.3,1274.0 L349.7,1275.3 L350.1,1276.6 L350.5,1277.9 L350.9,1279.2 L351.3,1280.5 L351.7,1281.8 L352.1,1283.1 L352.5,1284.4 L352.9,1285.7 L353.3,1287.0 L353.7,1288.3 L354.2,1289.6 L354.6,1290.9 L355.0,1292.1 L355.4,1293.4 L355.9,1294.7 L356.3,1296.0 L356.7,1297.3 L357.1,1298.6 L357.6,1299.9 L358.0,1301.1 L358.5,1302.4 L358.9,1303.7 L359.4,1305.0 L359.8,1306.3 L360.3,1307.5 L360.7,1308.8 L361.2,1310.1 L361.6,1311.4 L362.1,1312.6 L362.6,1313.9 L363.0,1315.2 L363.5,1316.5 L364.0,1317.7 L364.5,1319.0 L364.9,1320.3 L365.4,1321.5 L365.9,1322.8 L366.4,1324.0 L366.9,1325.3 L367.4,1326.6 L367.9,1327.8 L368.4,1329.1 L368.9,1330.3 L369.5,1331.6 L370.0,1332.8 L370.5,1334.1 L371.0,1335.3 L371.6,1336.6 L372.1,1337.8 L372.6,1339.1 L373.2,1340.3 L373.7,1341.5 L374.3,1342.8 L374.9,1344.0 L375.4,1345.2 L376.0,1346.5 L376.6,1347.7 L377.2,1348.9 L377.7,1350.2 L378.3,1351.4 L378.9,1352.6 L379.5,1353.8 L380.1,1355.0 L380.7,1356.3 L381.4,1357.5 L382.0,1358.7 L382.6,1359.9 L383.2,1361.1 L383.9,1362.3 L384.5,1363.5 L385.2,1364.7 L385.8,1365.9 L386.5,1367.1 L387.2,1368.3 L387.8,1369.5 L388.5,1370.7 L389.2,1371.8 L389.9,1373.0 L390.6,1374.2 L391.3,1375.4 L392.0,1376.5 L392.8,1377.7 L393.5,1378.8 L394.2,1380.0 L395.0,1381.1 L395.7,1382.3 L396.5,1383.4 L397.2,1384.5 L398.0,1385.7 L398.8,1386.8 L399.6,1387.9 L400.4,1389.0 L401.2,1390.1 L402.0,1391.2 L402.8,1392.3 L403.7,1393.3 L404.5,1394.4 L405.3,1395.5 L406.2,1396.5 L407.1,1397.6 L407.9,1398.6 L408.8,1399.7 L409.7,1400.7 L410.6,1401.7 L411.5,1402.7 L412.4,1403.7 L413.4,1404.7 L414.3,1405.7 L415.2,1406.7 L416.2,1407.6 L417.2,1408.6 L418.1,1409.5 L419.1,1410.5 L420.1,1411.4 L421.1,1412.3 L422.1,1413.2 L423.2,1414.1 L424.2,1415.0 L425.3,1415.9 L426.3,1416.7 L427.4,1417.6 L428.5,1418.4 L429.6,1419.2 L430.7,1419.9 L431.8,1420.7 L432.9,1421.4 L434.0,1422.2 L435.2,1422.8 L436.4,1423.5 L437.5,1424.1 L438.7,1424.7 L439.9,1425.3 L441.1,1425.9 L442.4,1426.4 L443.6,1426.9 L444.9,1427.3 L446.1,1427.8 L447.4,1428.2 L448.7,1428.6 L450.0,1428.9 L451.3,1429.3 L452.6,1429.6 L454.0,1429.9 L455.3,1430.1 L456.6,1430.4 L458.0,1430.6 L459.3,1430.8 L460.7,1431.0 L462.0,1431.2 L463.4,1431.3 L464.8,1431.5 L466.2,1431.6 L467.5,1431.7 L468.9,1431.8 L470.3,1431.9 L471.7,1432.0 L473.1,1432.1 L474.5,1432.1 L475.8,1432.2 L477.2,1432.2 L478.6,1432.3 L480.0,1432.3 L481.4,1432.3 L482.7,1432.3 L484.1,1432.3 L485.5,1432.3 L486.8,1432.3 L488.2,1432.3 L489.6,1432.3 L490.9,1432.3 L492.3,1432.3 L493.7,1432.3 L495.0,1432.3 L496.4,1432.3 L497.7,1432.3 L499.1,1432.3 L500.4,1432.3 L501.8,1432.3 L503.1,1432.3 L504.5,1432.3 L505.8,1432.3 L507.2,1432.3 L508.5,1432.3 L509.9,1432.3 L511.2,1432.3 L512.6,1432.3 L513.9,1432.3 L515.3,1432.3 L516.6,1432.3 L518.0,1432.3 L519.3,1432.3 L520.7,1432.3 L522.0,1432.3 L523.4,1432.3 L524.7,1432.3 L526.1,1432.3 L527.4,1432.3 L528.8,1432.3 L530.2,1432.3 L531.5,1432.3 L532.9,1432.3 L534.2,1432.3 L535.6,1432.3 L536.9,1432.3 L538.3,1432.3 L539.7,1432.3 L541.0,1432.3 L542.4,1432.3 L543.8,1432.3 L545.1,1432.3 L546.5,1432.3 L547.9,1432.3 L549.2,1432.3 L550.6,1432.3 L552.0,1432.3 L553.3,1432.3 L554.7,1432.3 L556.0,1432.3 L557.4,1432.3 L558.8,1432.3 L560.1,1432.3 L561.5,1432.3 L562.9,1432.3 L564.2,1432.3 L565.6,1432.3 L567.0,1432.3 L568.3,1432.3 L569.7,1432.3 L571.1,1432.3 L572.4,1432.3 L573.8,1432.3 L575.1,1432.3 L576.5,1432.3 L577.9,1432.3 L579.2,1432.3 L580.6,1432.3 L581.9,1432.3 L583.3,1432.3 L584.7,1432.3 L586.0,1432.3 L587.4,1432.3 L588.7,1432.3 L590.1,1432.3 L591.5,1432.3 L592.8,1432.3 L594.2,1432.3 L595.5,1432.3 L596.9,1432.3 L598.2,1432.3 L599.6,1432.3 L601.0,1432.3 L602.3,1432.3 L603.7,1432.3 L605.0,1432.3 L606.4,1432.3 L607.7,1432.3 L609.1,1432.3 L610.5,1432.3 L611.8,1432.3 L613.2,1432.3 L614.5,1432.3 L615.9,1432.3 L617.3,1432.3 L618.6,1432.3 L620.0,1432.3 L621.3,1432.3 L622.7,1432.3 L624.0,1432.3 L625.4,1432.3 L626.8,1432.3 L628.1,1432.3 L629.5,1432.3 L630.8,1432.3 L632.2,1432.3 L633.6,1432.3 L634.9,1432.3 L636.3,1432.3 L637.6,1432.3 L639.0,1432.3 L640.4,1432.3 L641.7,1432.3 L643.1,1432.3 L644.4,1432.3 L645.8,1432.3 L647.2,1432.3 L648.5,1432.3 L649.9,1432.3 L651.3,1432.3 L652.6,1432.3 L654.0,1432.3" fill="none" stroke="#000000" stroke-width="4.8" stroke-linejoin="round"/>
<path d="M51.4,1432.3 L52.7,1432.3 L54.0,1432.3 L55.3,1432.3 L56.6,1432.3 L58.0,1432.3 L59.3,1432.3 L60.6,1432.3 L62.0,1432.3 L63.3,1432.3 L64.7,1432.3 L66.0,1432.3 L67.4,1432.3 L68.7,1432.3 L70.1,1432.3 L71.4,1432.3 L72.8,1432.3 L74.2,1432.3 L75.5,1432.3 L76.9,1432.3 L78.2,1432.3 L79.6,1432.3 L81.0,1432.3 L82.4,1432.3 L83.7,1432.3 L85.1,1432.3 L86.5,1432.3 L87.8,1432.3 L89.2,1432.3 L90.6,1432.3 L91.9,1432.3 L93.3,1432.3 L94.7,1432.3 L96.0,1432.2 L97.4,1432.2 L98.7,1432.1 L100.1,1432.0 L101.4,1431.8 L102.8,1431.7 L104.1,1431.6 L105.5,1431.4 L106.8,1431.2 L108.1,1431.0 L109.5,1430.8 L110.8,1430.6 L112.1,1430.4 L113.4,1430.1 L114.7,1429.9 L116.0,1429.6 L117.3,1429.3 L118.6,1429.0 L119.9,1428.6 L121.2,1428.3 L122.4,1427.9 L123.7,1427.5 L125.0,1427.0 L126.2,1426.6 L127.5,1426.1 L128.7,1425.7 L129.9,1425.2 L131.2,1424.7 L132.4,1424.1 L133.6,1423.6 L134.8,1423.0 L136.0,1422.4 L137.2,1421.8 L138.4,1421.2 L139.5,1420.6 L140.7,1419.9 L141.9,1419.3 L143.0,1418.6 L144.2,1417.9 L145.3,1417.2 L146.4,1416.4 L147.5,1415.7 L148.7,1414.9 L149.8,1414.2 L150.8,1413.4 L151.9,1412.6 L153.0,1411.8 L154.1,1410.9 L155.1,1410.1 L156.2,1409.2 L157.2,1408.4 L158.3,1407.5 L159.3,1406.6 L160.3,1405.7 L161.3,1404.8 L162.3,1403.9 L163.3,1402.9 L164.3,1402.0 L165.3,1401.0 L166.2,1400.1 L167.2,1399.1 L168.1,1398.1 L169.1,1397.1 L170.0,1396.1 L170.9,1395.1 L171.8,1394.0 L172.7,1393.0 L173.6,1392.0 L174.5,1390.9 L175.4,1389.9 L176.2,1388.8 L177.1,1387.7 L177.9,1386.6 L178.7,1385.6 L179.5,1384.5 L180.3,1383.4 L181.1,1382.2 L181.9,1381.1 L182.7,1380.0 L183.5,1378.9 L184.2,1377.8 L185.0,1376.6 L185.7,1375.5 L186.4,1374.3 L187.1,1373.2 L187.8,1372.0 L188.5,1370.9 L189.2,1369.7 L189.8,1368.5 L190.5,1367.4 L191.2,1366.2 L191.8,1365.0 L192.4,1363.8 L193.0,1362.6 L193.7,1361.4 L194.3,1360.2 L194.9,1359.0 L195.4,1357.8 L196.0,1356.6 L196.6,1355.4 L197.2,1354.2 L197.7,1353.0 L198.3,1351.8 L198.8,1350.5 L199.4,1349.3 L199.9,1348.1 L200.4,1346.9 L200.9,1345.6 L201.4,1344.4 L201.9,1343.1 L202.4,1341.9 L202.9,1340.7 L203.4,1339.4 L203.9,1338.2 L204.4,1336.9 L204.9,1335.6 L205.3,1334.4 L205.8,1333.1 L206.2,1331.9 L206.7,1330.6 L207.2,1329.3 L207.6,1328.1 L208.0,1326.8 L208.5,1325.5 L208.9,1324.3 L209.4,1323.0 L209.8,1321.7 L210.2,1320.4 L210.7,1319.2 L211.1,1317.9 L211.5,1316.6 L211.9,1315.3 L212.4,1314.1 L212.8,1312.8 L213.2,1311.5 L213.6,1310.2 L214.0,1308.9 L214.4,1307.6 L214.9,1306.4 L215.3,1305.1 L215.7,1303.8 L216.1,1302.5 L216.5,1301.2 L216.9,1299.9 L217.4,1298.7 L217.8,1297.4 L218.2,1296.1 L218.6,1294.8 L219.0,1293.5 L219.4,1292.2 L219.9,1291.0 L220.3,1289.7 L220.7,1288.4 L221.1,1287.1 L221.5,1285.8 L221.9,1284.5 L222.4,1283.3 L222.8,1282.0 L223.2,1280.7 L223.6,1279.4 L224.0,1278.1 L224.5,1276.8 L224.9,1275.6 L225.3,1274.3 L225.7,1273.0 L226.1,1271.7 L226.6,1270.4 L227.0,1269.1 L227.4,1267.8 L227.8,1266.6 L228.2,1265.3 L228.6,1264.0 L229.1,1262.7 L229.5,1261.4 L229.9,1260.1 L230.3,1258.9 L230.8,1257.6 L231.2,1256.3 L231.6,1255.0 L232.0,1253.7 L232.4,1252.4 L232.9,1251.2 L233.3,1249.9 L233.7,1248.6 L234.1,1247.3 L234.5,1246.0 L235.0,1244.8 L235.4,1243.5 L235.8,1242.2 L236.2,1240.9 L236.7,1239.6 L237.1,1238.4 L237.5,1237.1 L237.9,1235.8 L238.3,1234.5 L238.8,1233.2 L239.2,1232.0 L239.6,1230.7 L240.0,1229.4 L240.5,1228.1 L240.9,1226.8 L241.3,1225.6 L241.7,1224.3 L242.2,1223.0 L242.6,1221.7 L243.0,1220.5 L243.4,1219.2 L243.9,1217.9 L244.3,1216.6 L244.7,1215.3 L245.1,1214.1 L245.6,1212.8 L246.0,1211.5 L246.4,1210.2 L246.8,1209.0 L247.3,1207.7 L247.7,1206.4 L248.1,1205.1 L248.6,1203.9 L249.0,1202.6 L249.4,1201.3 L249.8,1200.0 L250.3,1198.7 L250.7,1197.5 L251.1,1196.2 L251.6,1194.9 L252.0,1193.6 L252.4,1192.4 L252.8,1191.1 L253.3,1189.8 L253.7,1188.5 L254.1,1187.3 L254.6,1186.0 L255.0,1184.7 L255.4,1183.4 L255.9,1182.1 L256.3,1180.9 L256.7,1179.6 L257.2,1178.3 L257.6,1177.0 L258.0,1175.7 L258.5,1174.5 L258.9,1173.2 L259.4,1171.9 L259.8,1170.6 L260.2,1169.3 L260.7,1168.1 L261.1,1166.8 L261.6,1165.5 L262.0,1164.2 L262.5,1163.0 L262.9,1161.7 L263.4,1160.4 L263.8,1159.2 L264.3,1157.9 L264.8,1156.6 L265.2,1155.4 L265.7,1154.1 L266.2,1152.8 L266.7,1151.6 L267.2,1150.3 L267.7,1149.1 L268.2,1147.8 L268.7,1146.6 L269.2,1145.4 L269.7,1144.1 L270.2,1142.9 L270.8,1141.7 L271.3,1140.4 L271.9,1139.2 L272.4,1138.0 L273.0,1136.8 L273.6,1135.6 L274.2,1134.4 L274.8,1133.2 L275.4,1132.0 L276.0,1130.8 L276.6,1129.6 L277.2,1128.4 L277.9,1127.2 L278.5,1126.0 L279.2,1124.8 L279.8,1123.6 L280.5,1122.4 L281.2,1121.2 L281.9,1120.1 L282.6,1118.9 L283.3,1117.7 L284.1,1116.5 L284.8,1115.4 L285.7,1114.3 L286.5,1113.3 L287.4,1112.3 L288.3,1111.4 L289.3,1110.6 L290.4,1109.8 L291.5,1109.1 L292.7,1108.6 L293.9,1108.1 L295.3,1107.8 L296.7,1107.6 L298.1,1107.5 L299.6,1107.6 L300.9,1107.9 L302.1,1108.4 L303.2,1109.1 L304.2,1110.0 L305.1,1111.0 L305.9,1112.0 L306.6,1113.1 L307.3,1114.3 L308.1,1115.4 L308.7,1116.6 L309.4,1117.8 L310.0,1118.9 L310.7,1120.1 L311.3,1121.3 L311.9,1122.6 L312.5,1123.8 L313.1,1125.0 L313.7,1126.2 L314.3,1127.4 L314.9,1128.6 L315.5,1129.8 L316.1,1131.0 L316.7,1132.2 L317.3,1133.4 L317.9,1134.7 L318.5,1135.9 L319.1,1137.1 L319.7,1138.3 L320.3,1139.5 L320.9,1140.7 L321.5,1141.9 L322.0,1143.2 L322.6,1144.4 L323.1,1145.6 L323.7,1146.8 L324.2,1148.1 L324.7,1149.3 L325.3,1150.5 L325.8,1151.8 L326.3,1153.0 L326.8,1154.3 L327.3,1155.5 L327.8,1156.8 L328.3,1158.0 L328.8,1159.3 L329.2,1160.5 L329.7,1161.8 L330.2,1163.0 L330.7,1164.3 L331.1,1165.5 L331.6,1166.8 L332.0,1168.1 L332.5,1169.3 L332.9,1170.6 L333.4,1171.9 L333.8,1173.1 L334.2,1174.4 L334.7,1175.7 L335.1,1177.0 L335.5,1178.2 L335.9,1179.5 L336.3,1180.8 L336.7,1182.1 L337.2,1183.3 L337.6,1184.6 L338.0,1185.9 L338.4,1187.2 L338.7,1188.5 L339.1,1189.8 L339.5,1191.1 L339.9,1192.4 L340.3,1193.6 L340.7,1194.9 L341.1,1196.2 L341.4,1197.5 L341.8,1198.8 L342.2,1200.1 L342.6,1201.4 L342.9,1202.7 L343.3,1204.0 L343.7,1205.3 L344.0,1206.6 L344.4,1207.9 L344.8,1209.2 L345.1,1210.5 L345.5,1211.8 L345.9,1213.1 L346.2,1214.4 L346.6,1215.7 L346.9,1217.0 L347.3,1218.3 L347.7,1219.6 L348.0,1220.9 L348.4,1222.2 L348.7,1223.5 L349.1,1224.8 L349.5,1226.1 L349.8,1227.4 L350.2,1228.7 L350.5,1230.0 L350.9,1231.3 L351.3,1232.7 L351.6,1234.0 L352.0,1235.3 L352.4,1236.6 L352.7,1237.9 L353.1,1239.2 L353.5,1240.5 L353.8,1241.8 L354.2,1243.1 L354.6,1244.4 L355.0,1245.7 L355.3,1247.0 L355.7,1248.3 L356.1,1249.6 L356.5,1250.9 L356.9,1252.2 L357.3,1253.5 L357.7,1254.8 L358.0,1256.1 L358.4,1257.4 L358.8,1258.7 L359.2,1259.9 L359.6,1261.2 L360.1,1262.5 L360.5,1263.8 L360.9,1265.1 L361.3,1266.4 L361.7,1267.7 L362.1,1269.0 L362.5,1270.3 L363.0,1271.6 L363.4,1272.8 L363.8,1274.1 L364.2,1275.4 L364.7,1276.7 L365.1,1278.0 L365.5,1279.3 L366.0,1280.5 L366.4,1281.8 L366.9,1283.1 L367.3,1284.4 L367.8,1285.6 L368.2,1286.9 L368.7,1288.2 L369.1,1289.5 L369.6,1290.7 L370.1,1292.0 L370.5,1293.3 L371.0,1294.5 L371.5,1295.8 L371.9,1297.1 L372.4,1298.3 L372.9,1299.6 L373.4,1300.8 L373.9,1302.1 L374.4,1303.4 L374.9,1304.6 L375.4,1305.9 L375.8,1307.1 L376.3,1308.4 L376.9,1309.6 L377.4,1310.9 L377.9,1312.1 L378.4,1313.4 L378.9,1314.6 L379.4,1315.8 L379.9,1317.1 L380.5,1318.3 L381.0,1319.6 L381.5,1320.8 L382.1,1322.0 L382.6,1323.2 L383.1,1324.5 L383.7,1325.7 L384.2,1326.9 L384.8,1328.2 L385.3,1329.4 L385.9,1330.6 L386.4,1331.8 L387.0,1333.0 L387.6,1334.2 L388.1,1335.5 L388.7,1336.7 L389.3,1337.9 L389.9,1339.1 L390.4,1340.3 L391.0,1341.5 L391.6,1342.7 L392.2,1343.9 L392.8,1345.1 L393.4,1346.3 L394.0,1347.5 L394.6,1348.7 L395.2,1349.8 L395.8,1351.0 L396.4,1352.2 L397.1,1353.4 L397.7,1354.6 L398.3,1355.8 L398.9,1356.9 L399.6,1358.1 L400.2,1359.3 L400.8,1360.4 L401.5,1361.6 L402.1,1362.8 L402.8,1363.9 L403.5,1365.1 L404.1,1366.2 L404.8,1367.4 L405.5,1368.5 L406.2,1369.7 L406.8,1370.8 L407.5,1371.9 L408.3,1373.1 L409.0,1374.2 L409.7,1375.3 L410.4,1376.5 L411.2,1377.6 L411.9,1378.7 L412.7,1379.8 L413.5,1380.9 L414.2,1382.0 L415.0,1383.1 L415.8,1384.2 L416.7,1385.3 L417.5,1386.4 L418.3,1387.5 L419.2,1388.6 L420.0,1389.6 L420.9,1390.7 L421.8,1391.7 L422.7,1392.8 L423.6,1393.8 L424.5,1394.9 L425.4,1395.9 L426.4,1396.9 L427.3,1397.9 L428.3,1398.9 L429.3,1399.9 L430.2,1400.9 L431.2,1401.8 L432.2,1402.8 L433.2,1403.7 L434.3,1404.6 L435.3,1405.5 L436.3,1406.4 L437.4,1407.3 L438.4,1408.2 L439.5,1409.0 L440.6,1409.8 L441.7,1410.7 L442.8,1411.5 L443.9,1412.2 L445.0,1413.0 L446.1,1413.7 L447.3,1414.5 L448.4,1415.2 L449.5,1415.9 L450.7,1416.5 L451.9,1417.2 L453.0,1417.8 L454.2,1418.4 L455.4,1419.0 L456.6,1419.6 L457.8,1420.2 L459.0,1420.8 L460.2,1421.3 L461.4,1421.8 L462.7,1422.3 L463.9,1422.8 L465.1,1423.3 L466.4,1423.8 L467.6,1424.2 L468.9,1424.7 L470.2,1425.1 L471.4,1425.5 L472.7,1425.9 L474.0,1426.3 L475.2,1426.6 L476.5,1427.0 L477.8,1427.3 L479.1,1427.7 L480.4,1428.0 L481.7,1428.3 L483.0,1428.6 L484.3,1428.9 L485.6,1429.1 L486.9,1429.4 L488.3,1429.7 L489.6,1429.9 L490.9,1430.1 L492.2,1430.3 L493.6,1430.5 L494.9,1430.7 L496.2,1430.9 L497.5,1431.1 L498.9,1431.3 L500.2,1431.4 L501.5,1431.6 L502.9,1431.7 L504.2,1431.8 L505.6,1432.0 L506.9,1432.1 L508.2,1432.2 L509.6,1432.3 L510.9,1432.3 L512.3,1432.3 L513.6,1432.3 L515.0,1432.3 L516.3,1432.3 L517.6,1432.3 L519.0,1432.3 L520.3,1432.3 L521.7,1432.3 L523.0,1432.3 L524.4,1432.3 L525.7,1432.3 L527.1,1432.3 L528.4,1432.3 L529.8,1432.3 L531.1,1432.3 L532.5,1432.3 L533.8,1432.3 L535.2,1432.3 L536.6,1432.3 L537.9,1432.3 L539.3,1432.3 L540.6,1432.3 L542.0,1432.3 L543.3,1432.3 L544.7,1432.3 L546.0,1432.3 L547.4,1432.3 L548.7,1432.3 L550.1,1432.3 L551.5,1432.3 L552.8,1432.3 L554.2,1432.3 L555.5,1432.3 L556.9,1432.3 L558.2,1432.3 L559.6,1432.3 L561.0,1432.2 L562.3,1432.2 L563.7,1432.2 L565.0,1432.1 L566.4,1432.1 L567.7,1432.0 L569.1,1432.0 L570.4,1431.9 L571.8,1431.9 L573.1,1431.9 L574.5,1431.8 L575.9,1431.8 L577.2,1431.8 L578.6,1431.8 L579.9,1431.7 L581.3,1431.7 L582.6,1431.7 L584.0,1431.7 L585.3,1431.7 L586.7,1431.7 L588.0,1431.7 L589.4,1431.7 L590.7,1431.7 L592.0,1431.7 L593.4,1431.7 L594.7,1431.8 L596.1,1431.8 L597.4,1431.8 L598.8,1431.9 L600.1,1431.9 L601.5,1431.9 L602.8,1432.0 L604.1,1432.0 L605.5,1432.1 L606.8,1432.1 L608.2,1432.1 L609.5,1432.2 L610.8,1432.2 L612.2,1432.3 L613.5,1432.3 L614.9,1432.3 L616.2,1432.3 L617.6,1432.3 L618.9,1432.3 L620.2,1432.3 L621.6,1432.3 L622.9,1432.3 L624.3,1432.3 L625.6,1432.3 L627.0,1432.3 L628.3,1432.3 L629.6,1432.3 L631.0,1432.3 L632.3,1432.3 L633.7,1432.3 L635.0,1432.3 L636.4,1432.3 L637.7,1432.3 L639.1,1432.3 L640.4,1432.3 L641.8,1432.3 L643.1,1432.3 L644.5,1432.3 L645.8,1432.3 L647.2,1432.3 L648.6,1432.3 L649.9,1432.3 L651.3,1432.3 L652.6,1432.3 L654.0,1432.3" fill="none" stroke="#ff0000" stroke-width="4.8" stroke-linejoin="round"/>
<path d="M51.3,1432.3 L52.6,1432.3 L53.9,1432.3 L55.2,1432.3 L56.5,1432.3 L57.8,1432.3 L59.1,1432.3 L60.5,1432.3 L61.8,1432.3 L63.1,1432.3 L64.4,1432.3 L65.8,1432.3 L67.1,1432.3 L68.4,1432.3 L69.8,1432.3 L71.1,1432.3 L72.4,1432.3 L73.8,1432.3 L75.1,1432.3 L76.4,1432.3 L77.8,1432.3 L79.1,1432.3 L80.5,1432.3 L81.8,1432.3 L83.1,1432.3 L84.5,1432.2 L85.8,1432.1 L87.2,1432.0 L88.5,1431.9 L89.8,1431.8 L91.2,1431.7 L92.5,1431.5 L93.8,1431.4 L95.2,1431.2 L96.5,1431.0 L97.8,1430.9 L99.1,1430.7 L100.4,1430.4 L101.8,1430.2 L103.1,1430.0 L104.4,1429.7 L105.7,1429.5 L107.0,1429.2 L108.3,1428.9 L109.5,1428.6 L110.8,1428.3 L112.1,1428.0 L113.4,1427.6 L114.6,1427.3 L115.9,1426.9 L117.1,1426.5 L118.4,1426.1 L119.6,1425.7 L120.9,1425.2 L122.1,1424.8 L123.3,1424.3 L124.5,1423.8 L125.7,1423.3 L126.9,1422.7 L128.1,1422.2 L129.3,1421.6 L130.5,1421.0 L131.6,1420.4 L132.8,1419.8 L133.9,1419.2 L135.1,1418.5 L136.2,1417.8 L137.3,1417.2 L138.4,1416.5 L139.5,1415.7 L140.6,1415.0 L141.7,1414.3 L142.8,1413.5 L143.9,1412.7 L145.0,1412.0 L146.0,1411.2 L147.1,1410.4 L148.1,1409.5 L149.2,1408.7 L150.2,1407.8 L151.2,1407.0 L152.2,1406.1 L153.2,1405.2 L154.2,1404.3 L155.2,1403.4 L156.2,1402.5 L157.2,1401.6 L158.2,1400.7 L159.1,1399.7 L160.1,1398.8 L161.0,1397.8 L161.9,1396.8 L162.9,1395.8 L163.8,1394.9 L164.7,1393.9 L165.6,1392.9 L166.5,1391.9 L167.4,1390.8 L168.3,1389.8 L169.2,1388.8 L170.0,1387.8 L170.9,1386.7 L171.7,1385.7 L172.6,1384.6 L173.4,1383.6 L174.2,1382.5 L175.1,1381.5 L175.9,1380.4 L176.7,1379.3 L177.5,1378.3 L178.3,1377.2 L179.0,1376.1 L179.8,1375.0 L180.6,1373.9 L181.3,1372.9 L182.1,1371.8 L182.8,1370.7 L183.6,1369.6 L184.3,1368.5 L185.0,1367.4 L185.7,1366.3 L186.4,1365.2 L187.1,1364.1 L187.8,1363.0 L188.5,1361.9 L189.1,1360.7 L189.8,1359.6 L190.4,1358.5 L191.1,1357.3 L191.7,1356.2 L192.4,1355.1 L193.0,1353.9 L193.6,1352.8 L194.2,1351.6 L194.8,1350.5 L195.4,1349.3 L195.9,1348.1 L196.5,1347.0 L197.1,1345.8 L197.6,1344.6 L198.2,1343.4 L198.7,1342.2 L199.2,1341.0 L199.7,1339.8 L200.3,1338.6 L200.8,1337.3 L201.2,1336.1 L201.7,1334.9 L202.2,1333.6 L202.7,1332.4 L203.1,1331.2 L203.6,1329.9 L204.1,1328.7 L204.5,1327.4 L205.0,1326.1 L205.4,1324.9 L205.8,1323.6 L206.3,1322.3 L206.7,1321.1 L207.1,1319.8 L207.5,1318.5 L208.0,1317.2 L208.4,1316.0 L208.8,1314.7 L209.2,1313.4 L209.6,1312.1 L210.1,1310.9 L210.5,1309.6 L210.9,1308.3 L211.3,1307.0 L211.7,1305.8 L212.2,1304.5 L212.6,1303.2 L213.0,1302.0 L213.5,1300.7 L213.9,1299.5 L214.3,1298.2 L214.8,1297.0 L215.2,1295.7 L215.7,1294.4 L216.1,1293.2 L216.6,1292.0 L217.0,1290.7 L217.5,1289.5 L217.9,1288.2 L218.4,1287.0 L218.8,1285.7 L219.3,1284.5 L219.7,1283.3 L220.2,1282.0 L220.7,1280.8 L221.1,1279.6 L221.6,1278.3 L222.0,1277.1 L222.5,1275.9 L223.0,1274.6 L223.4,1273.4 L223.9,1272.2 L224.4,1270.9 L224.8,1269.7 L225.3,1268.5 L225.8,1267.3 L226.2,1266.0 L226.7,1264.8 L227.2,1263.6 L227.6,1262.3 L228.1,1261.1 L228.6,1259.9 L229.0,1258.6 L229.5,1257.4 L230.0,1256.2 L230.4,1254.9 L230.9,1253.7 L231.4,1252.5 L231.8,1251.2 L232.3,1250.0 L232.7,1248.8 L233.2,1247.5 L233.6,1246.3 L234.1,1245.0 L234.6,1243.8 L235.0,1242.6 L235.5,1241.3 L235.9,1240.1 L236.3,1238.8 L236.8,1237.6 L237.2,1236.3 L237.7,1235.0 L238.1,1233.8 L238.5,1232.5 L239.0,1231.3 L239.4,1230.0 L239.8,1228.7 L240.2,1227.5 L240.7,1226.2 L241.1,1224.9 L241.5,1223.7 L241.9,1222.4 L242.3,1221.1 L242.8,1219.8 L243.2,1218.6 L243.6,1217.3 L244.0,1216.0 L244.4,1214.7 L244.8,1213.4 L245.2,1212.2 L245.6,1210.9 L246.0,1209.6 L246.4,1208.3 L246.8,1207.0 L247.2,1205.8 L247.6,1204.5 L248.1,1203.2 L248.5,1201.9 L248.9,1200.6 L249.3,1199.3 L249.7,1198.1 L250.1,1196.8 L250.5,1195.5 L250.9,1194.2 L251.3,1193.0 L251.7,1191.7 L252.1,1190.4 L252.5,1189.1 L252.9,1187.9 L253.3,1186.6 L253.7,1185.3 L254.1,1184.1 L254.5,1182.8 L254.9,1181.5 L255.3,1180.3 L255.7,1179.0 L256.1,1177.7 L256.5,1176.5 L256.9,1175.2 L257.4,1174.0 L257.8,1172.7 L258.2,1171.5 L258.6,1170.2 L259.0,1169.0 L259.5,1167.8 L259.9,1166.5 L260.3,1165.3 L260.7,1164.1 L261.2,1162.8 L261.6,1161.6 L262.0,1160.4 L262.5,1159.1 L262.9,1157.9 L263.4,1156.7 L263.9,1155.5 L264.3,1154.3 L264.8,1153.0 L265.3,1151.8 L265.7,1150.6 L266.2,1149.4 L266.7,1148.2 L267.2,1147.0 L267.7,1145.8 L268.2,1144.6 L268.8,1143.3 L269.3,1142.1 L269.8,1140.9 L270.4,1139.7 L270.9,1138.5 L271.5,1137.3 L272.0,1136.1 L272.6,1134.9 L273.2,1133.7 L273.8,1132.5 L274.4,1131.3 L275.0,1130.1 L275.6,1128.9 L276.2,1127.7 L276.9,1126.5 L277.5,1125.4 L278.2,1124.2 L278.9,1123.0 L279.6,1121.8 L280.3,1120.6 L281.0,1119.4 L281.7,1118.2 L282.4,1117.0 L283.2,1115.9 L284.0,1114.8 L284.8,1113.7 L285.7,1112.7 L286.5,1111.7 L287.5,1110.9 L288.5,1110.1 L289.5,1109.3 L290.6,1108.7 L291.7,1108.2 L292.9,1107.8 L294.1,1107.6 L295.5,1107.4 L296.8,1107.4 L298.1,1107.6 L299.4,1107.8 L300.6,1108.2 L301.7,1108.8 L302.8,1109.4 L303.9,1110.2 L304.9,1111.0 L305.9,1112.0 L306.8,1112.9 L307.7,1114.0 L308.6,1115.1 L309.4,1116.2 L310.2,1117.3 L311.1,1118.4 L311.9,1119.6 L312.7,1120.7 L313.5,1121.7 L314.3,1122.8 L315.1,1123.9 L315.9,1125.0 L316.6,1126.0 L317.4,1127.1 L318.2,1128.1 L318.9,1129.2 L319.6,1130.3 L320.4,1131.4 L321.1,1132.5 L321.8,1133.6 L322.4,1134.7 L323.1,1135.8 L323.8,1137.0 L324.4,1138.1 L325.0,1139.3 L325.7,1140.4 L326.3,1141.6 L326.9,1142.7 L327.5,1143.9 L328.1,1145.1 L328.6,1146.3 L329.2,1147.5 L329.8,1148.7 L330.3,1149.9 L330.8,1151.1 L331.4,1152.3 L331.9,1153.6 L332.4,1154.8 L332.9,1156.0 L333.4,1157.2 L333.9,1158.5 L334.4,1159.7 L334.9,1161.0 L335.3,1162.2 L335.8,1163.5 L336.3,1164.7 L336.7,1166.0 L337.2,1167.2 L337.6,1168.5 L338.0,1169.8 L338.5,1171.0 L338.9,1172.3 L339.3,1173.6 L339.7,1174.8 L340.1,1176.1 L340.6,1177.4 L341.0,1178.6 L341.4,1179.9 L341.8,1181.2 L342.2,1182.4 L342.6,1183.7 L343.0,1185.0 L343.3,1186.3 L343.7,1187.5 L344.1,1188.8 L344.5,1190.1 L344.9,1191.3 L345.3,1192.6 L345.6,1193.9 L346.0,1195.2 L346.4,1196.4 L346.8,1197.7 L347.1,1199.0 L347.5,1200.2 L347.9,1201.5 L348.2,1202.8 L348.6,1204.0 L349.0,1205.3 L349.3,1206.6 L349.7,1207.9 L350.1,1209.1 L350.5,1210.4 L350.8,1211.7 L351.2,1212.9 L351.6,1214.2 L351.9,1215.5 L352.3,1216.7 L352.7,1218.0 L353.1,1219.3 L353.5,1220.5 L353.8,1221.8 L354.2,1223.0 L354.6,1224.3 L355.0,1225.6 L355.4,1226.8 L355.8,1228.1 L356.2,1229.3 L356.6,1230.6 L357.0,1231.9 L357.4,1233.1 L357.8,1234.4 L358.2,1235.6 L358.6,1236.9 L359.1,1238.1 L359.5,1239.4 L359.9,1240.6 L360.4,1241.9 L360.8,1243.1 L361.2,1244.4 L361.7,1245.6 L362.1,1246.9 L362.6,1248.1 L363.0,1249.4 L363.5,1250.6 L364.0,1251.8 L364.4,1253.1 L364.9,1254.3 L365.4,1255.5 L365.9,1256.8 L366.4,1258.0 L366.8,1259.3 L367.3,1260.5 L367.8,1261.7 L368.3,1262.9 L368.8,1264.2 L369.3,1265.4 L369.8,1266.6 L370.3,1267.8 L370.9,1269.1 L371.4,1270.3 L371.9,1271.5 L372.4,1272.7 L373.0,1273.9 L373.5,1275.2 L374.0,1276.4 L374.6,1277.6 L375.1,1278.8 L375.6,1280.0 L376.2,1281.2 L376.7,1282.4 L377.3,1283.6 L377.9,1284.8 L378.4,1286.0 L379.0,1287.2 L379.6,1288.4 L380.1,1289.6 L380.7,1290.8 L381.3,1292.0 L381.9,1293.2 L382.4,1294.4 L383.0,1295.6 L383.6,1296.8 L384.2,1298.0 L384.8,1299.2 L385.4,1300.4 L386.0,1301.5 L386.6,1302.7 L387.2,1303.9 L387.8,1305.1 L388.4,1306.3 L389.1,1307.4 L389.7,1308.6 L390.3,1309.8 L390.9,1310.9 L391.6,1312.1 L392.2,1313.3 L392.8,1314.4 L393.5,1315.6 L394.1,1316.8 L394.8,1317.9 L395.4,1319.1 L396.1,1320.2 L396.7,1321.4 L397.4,1322.5 L398.0,1323.7 L398.7,1324.8 L399.3,1326.0 L400.0,1327.1 L400.7,1328.3 L401.3,1329.4 L402.0,1330.6 L402.7,1331.7 L403.4,1332.8 L404.1,1334.0 L404.7,1335.1 L405.4,1336.2 L406.1,1337.3 L406.8,1338.5 L407.5,1339.6 L408.2,1340.7 L408.9,1341.8 L409.6,1342.9 L410.3,1344.1 L411.0,1345.2 L411.8,1346.3 L412.5,1347.4 L413.2,1348.5 L413.9,1349.6 L414.6,1350.7 L415.4,1351.8 L416.1,1352.9 L416.9,1354.0 L417.6,1355.1 L418.4,1356.2 L419.1,1357.2 L419.9,1358.3 L420.6,1359.4 L421.4,1360.5 L422.2,1361.6 L422.9,1362.6 L423.7,1363.7 L424.5,1364.8 L425.3,1365.8 L426.1,1366.9 L426.9,1368.0 L427.7,1369.0 L428.5,1370.1 L429.3,1371.1 L430.1,1372.2 L430.9,1373.2 L431.8,1374.2 L432.6,1375.3 L433.4,1376.3 L434.3,1377.3 L435.1,1378.4 L436.0,1379.4 L436.8,1380.4 L437.7,1381.4 L438.6,1382.5 L439.5,1383.5 L440.3,1384.5 L441.2,1385.5 L442.1,1386.5 L443.0,1387.5 L443.9,1388.5 L444.8,1389.5 L445.7,1390.5 L446.7,1391.4 L447.6,1392.4 L448.5,1393.4 L449.5,1394.4 L450.4,1395.3 L451.4,1396.3 L452.3,1397.2 L453.3,1398.2 L454.3,1399.1 L455.2,1400.0 L456.2,1400.9 L457.2,1401.9 L458.2,1402.8 L459.2,1403.6 L460.2,1404.5 L461.2,1405.4 L462.2,1406.3 L463.3,1407.1 L464.3,1408.0 L465.3,1408.8 L466.4,1409.7 L467.4,1410.5 L468.5,1411.3 L469.5,1412.1 L470.6,1412.9 L471.7,1413.6 L472.7,1414.4 L473.8,1415.2 L474.9,1415.9 L476.0,1416.6 L477.1,1417.3 L478.2,1418.0 L479.3,1418.7 L480.4,1419.4 L481.6,1420.1 L482.7,1420.7 L483.8,1421.3 L485.0,1422.0 L486.1,1422.6 L487.3,1423.1 L488.5,1423.7 L489.6,1424.3 L490.8,1424.8 L492.0,1425.3 L493.2,1425.8 L494.4,1426.3 L495.6,1426.8 L496.8,1427.2 L498.0,1427.7 L499.2,1428.1 L500.4,1428.5 L501.6,1428.9 L502.9,1429.2 L504.1,1429.6 L505.4,1429.9 L506.6,1430.2 L507.9,1430.5 L509.1,1430.8 L510.4,1431.0 L511.7,1431.3 L513.0,1431.5 L514.3,1431.7 L515.6,1431.9 L516.8,1432.1 L518.1,1432.2 L519.5,1432.3 L520.8,1432.3 L522.1,1432.3 L523.4,1432.3 L524.7,1432.3 L526.0,1432.3 L527.4,1432.3 L528.7,1432.3 L530.0,1432.3 L531.4,1432.3 L532.7,1432.3 L534.0,1432.3 L535.4,1432.3 L536.7,1432.3 L538.1,1432.3 L539.4,1432.3 L540.8,1432.3 L542.1,1432.3 L543.5,1432.3 L544.9,1432.3 L546.2,1432.3 L547.6,1432.3 L548.9,1432.3 L550.3,1432.3 L551.7,1432.3 L553.0,1432.3 L554.4,1432.3 L555.7,1432.3 L557.1,1432.3 L558.5,1432.3 L559.8,1432.3 L561.2,1432.3 L562.6,1432.3 L563.9,1432.3 L565.3,1432.2 L566.6,1432.1 L568.0,1432.0 L569.4,1432.0 L570.7,1431.9 L572.1,1431.8 L573.4,1431.8 L574.8,1431.7 L576.1,1431.7 L577.5,1431.6 L578.8,1431.6 L580.1,1431.5 L581.5,1431.5 L582.8,1431.5 L584.2,1431.5 L585.5,1431.4 L586.8,1431.4 L588.1,1431.4 L589.4,1431.4 L590.8,1431.5 L592.1,1431.5 L593.4,1431.5 L594.7,1431.5 L596.0,1431.6 L597.3,1431.6 L598.6,1431.6 L599.9,1431.7 L601.2,1431.7 L602.5,1431.8 L603.8,1431.8 L605.1,1431.9 L606.4,1432.0 L607.7,1432.0 L609.0,1432.1 L610.3,1432.1 L611.6,1432.2 L612.9,1432.3 L614.2,1432.3 L615.5,1432.3 L616.8,1432.3 L618.1,1432.3 L619.4,1432.3 L620.7,1432.3 L622.0,1432.3 L623.3,1432.3 L624.6,1432.3 L625.9,1432.3 L627.2,1432.3 L628.5,1432.3 L629.8,1432.3 L631.1,1432.3 L632.4,1432.3 L633.8,1432.3 L635.1,1432.3 L636.4,1432.3 L637.7,1432.3 L639.1,1432.3 L640.4,1432.3 L641.8,1432.3 L643.1,1432.3 L644.5,1432.3 L645.8,1432.3 L647.2,1432.3 L648.5,1432.3 L649.9,1432.3 L651.3,1432.3 L652.7,1432.3 L654.1,1432.3" fill="none" stroke="#0000ff" stroke-width="4.8" stroke-linejoin="round"/>
<path d="M51.4,1432.0 L52.6,1432.0 L53.9,1432.0 L55.2,1432.0 L56.5,1432.0 L57.8,1432.0 L59.1,1432.0 L60.4,1432.0 L61.7,1432.1 L63.0,1432.1 L64.3,1432.2 L65.7,1432.2 L67.0,1432.3 L68.3,1432.3 L69.7,1432.3 L71.0,1432.3 L72.3,1432.3 L73.7,1432.3 L75.0,1432.3 L76.4,1432.3 L77.7,1432.3 L79.1,1432.3 L80.4,1432.3 L81.8,1432.3 L83.1,1432.3 L84.5,1432.3 L85.8,1432.3 L87.2,1432.3 L88.5,1432.3 L89.8,1432.3 L91.2,1432.3 L92.5,1432.3 L93.9,1432.3 L95.2,1432.3 L96.5,1432.3 L97.8,1432.3 L99.2,1432.3 L100.5,1432.3 L101.8,1432.2 L103.1,1432.0 L104.4,1431.8 L105.7,1431.6 L107.0,1431.4 L108.2,1431.1 L109.5,1430.8 L110.8,1430.6 L112.0,1430.2 L113.3,1429.9 L114.5,1429.5 L115.8,1429.1 L117.0,1428.7 L118.2,1428.3 L119.4,1427.8 L120.6,1427.4 L121.8,1426.9 L123.0,1426.4 L124.2,1425.8 L125.4,1425.3 L126.6,1424.7 L127.7,1424.1 L128.9,1423.5 L130.0,1422.9 L131.2,1422.2 L132.3,1421.6 L133.4,1420.9 L134.5,1420.2 L135.7,1419.5 L136.8,1418.8 L137.9,1418.1 L139.0,1417.3 L140.0,1416.6 L141.1,1415.8 L142.2,1415.0 L143.3,1414.2 L144.3,1413.4 L145.4,1412.6 L146.4,1411.8 L147.5,1410.9 L148.5,1410.1 L149.5,1409.2 L150.6,1408.4 L151.6,1407.5 L152.6,1406.6 L153.6,1405.7 L154.6,1404.9 L155.6,1404.0 L156.6,1403.0 L157.5,1402.1 L158.5,1401.2 L159.5,1400.3 L160.5,1399.4 L161.4,1398.4 L162.4,1397.5 L163.3,1396.5 L164.2,1395.6 L165.2,1394.6 L166.1,1393.7 L167.0,1392.7 L167.9,1391.7 L168.8,1390.8 L169.7,1389.8 L170.6,1388.8 L171.5,1387.8 L172.4,1386.8 L173.2,1385.8 L174.1,1384.8 L174.9,1383.8 L175.8,1382.7 L176.6,1381.7 L177.4,1380.7 L178.3,1379.6 L179.1,1378.6 L179.9,1377.6 L180.7,1376.5 L181.5,1375.4 L182.3,1374.4 L183.0,1373.3 L183.8,1372.2 L184.6,1371.2 L185.3,1370.1 L186.1,1369.0 L186.8,1367.9 L187.5,1366.8 L188.2,1365.7 L188.9,1364.6 L189.6,1363.5 L190.3,1362.3 L191.0,1361.2 L191.7,1360.1 L192.4,1358.9 L193.0,1357.8 L193.7,1356.7 L194.3,1355.5 L194.9,1354.4 L195.5,1353.2 L196.1,1352.0 L196.7,1350.9 L197.3,1349.7 L197.9,1348.5 L198.5,1347.3 L199.0,1346.1 L199.6,1344.9 L200.1,1343.7 L200.7,1342.5 L201.2,1341.3 L201.7,1340.1 L202.2,1338.9 L202.7,1337.6 L203.2,1336.4 L203.6,1335.2 L204.1,1333.9 L204.6,1332.7 L205.0,1331.4 L205.5,1330.2 L205.9,1328.9 L206.3,1327.7 L206.8,1326.4 L207.2,1325.2 L207.6,1323.9 L208.0,1322.7 L208.5,1321.4 L208.9,1320.1 L209.3,1318.9 L209.7,1317.6 L210.1,1316.3 L210.5,1315.1 L211.0,1313.8 L211.4,1312.6 L211.8,1311.3 L212.2,1310.0 L212.7,1308.8 L213.1,1307.5 L213.5,1306.3 L214.0,1305.0 L214.4,1303.8 L214.9,1302.5 L215.3,1301.3 L215.8,1300.1 L216.3,1298.8 L216.8,1297.6 L217.2,1296.4 L217.7,1295.1 L218.2,1293.9 L218.7,1292.7 L219.2,1291.5 L219.7,1290.3 L220.2,1289.0 L220.7,1287.8 L221.2,1286.6 L221.7,1285.4 L222.3,1284.2 L222.8,1283.0 L223.3,1281.7 L223.8,1280.5 L224.3,1279.3 L224.8,1278.1 L225.3,1276.9 L225.8,1275.7 L226.3,1274.4 L226.8,1273.2 L227.4,1272.0 L227.9,1270.8 L228.4,1269.6 L228.8,1268.3 L229.3,1267.1 L229.8,1265.9 L230.3,1264.7 L230.8,1263.4 L231.3,1262.2 L231.7,1261.0 L232.2,1259.7 L232.7,1258.5 L233.1,1257.2 L233.6,1256.0 L234.1,1254.8 L234.5,1253.5 L235.0,1252.3 L235.4,1251.0 L235.8,1249.8 L236.3,1248.5 L236.7,1247.3 L237.2,1246.0 L237.6,1244.8 L238.0,1243.5 L238.4,1242.2 L238.9,1241.0 L239.3,1239.7 L239.7,1238.5 L240.1,1237.2 L240.5,1235.9 L240.9,1234.7 L241.3,1233.4 L241.7,1232.2 L242.1,1230.9 L242.5,1229.6 L242.9,1228.4 L243.3,1227.1 L243.7,1225.8 L244.1,1224.6 L244.5,1223.3 L244.9,1222.0 L245.3,1220.8 L245.6,1219.5 L246.0,1218.2 L246.4,1217.0 L246.8,1215.7 L247.1,1214.4 L247.5,1213.2 L247.9,1211.9 L248.2,1210.6 L248.6,1209.4 L249.0,1208.1 L249.3,1206.8 L249.7,1205.6 L250.0,1204.3 L250.4,1203.0 L250.8,1201.8 L251.1,1200.5 L251.5,1199.2 L251.8,1198.0 L252.2,1196.7 L252.6,1195.5 L252.9,1194.2 L253.3,1192.9 L253.7,1191.7 L254.0,1190.4 L254.4,1189.2 L254.8,1187.9 L255.2,1186.7 L255.6,1185.4 L256.0,1184.2 L256.4,1182.9 L256.9,1181.7 L257.3,1180.4 L257.8,1179.2 L258.2,1177.9 L258.7,1176.7 L259.2,1175.5 L259.7,1174.2 L260.2,1173.0 L260.7,1171.8 L261.2,1170.5 L261.8,1169.3 L262.3,1168.1 L262.9,1166.9 L263.4,1165.6 L264.0,1164.4 L264.6,1163.2 L265.1,1162.0 L265.7,1160.8 L266.3,1159.6 L266.9,1158.4 L267.5,1157.2 L268.0,1156.0 L268.6,1154.8 L269.2,1153.6 L269.8,1152.4 L270.3,1151.2 L270.9,1150.0 L271.4,1148.8 L272.0,1147.6 L272.5,1146.4 L273.0,1145.2 L273.5,1144.0 L274.0,1142.8 L274.5,1141.6 L275.0,1140.4 L275.5,1139.3 L276.0,1138.1 L276.5,1136.9 L277.0,1135.7 L277.5,1134.5 L278.1,1133.4 L278.6,1132.2 L279.2,1131.0 L279.7,1129.8 L280.3,1128.7 L281.0,1127.5 L281.6,1126.3 L282.3,1125.2 L283.0,1124.0 L283.7,1122.8 L284.5,1121.7 L285.3,1120.5 L286.1,1119.4 L287.0,1118.2 L287.9,1117.1 L288.8,1116.1 L289.8,1115.1 L290.8,1114.1 L291.8,1113.2 L292.9,1112.3 L293.9,1111.5 L295.1,1110.8 L296.2,1110.2 L297.3,1109.6 L298.5,1109.2 L299.7,1108.8 L300.9,1108.5 L302.2,1108.4 L303.4,1108.4 L304.6,1108.5 L305.9,1108.7 L307.1,1109.1 L308.3,1109.6 L309.4,1110.1 L310.6,1110.8 L311.7,1111.6 L312.8,1112.3 L313.9,1113.2 L314.9,1114.0 L316.0,1114.8 L317.0,1115.7 L318.0,1116.6 L319.0,1117.5 L319.9,1118.5 L320.9,1119.4 L321.8,1120.4 L322.7,1121.3 L323.6,1122.3 L324.4,1123.3 L325.3,1124.3 L326.1,1125.4 L326.9,1126.4 L327.7,1127.5 L328.5,1128.5 L329.2,1129.6 L330.0,1130.7 L330.7,1131.8 L331.4,1132.9 L332.1,1134.0 L332.8,1135.1 L333.5,1136.3 L334.1,1137.4 L334.8,1138.6 L335.4,1139.7 L336.0,1140.9 L336.6,1142.0 L337.2,1143.2 L337.8,1144.4 L338.4,1145.6 L339.0,1146.8 L339.6,1148.0 L340.1,1149.2 L340.7,1150.4 L341.2,1151.6 L341.8,1152.8 L342.3,1154.0 L342.9,1155.3 L343.4,1156.5 L343.9,1157.7 L344.4,1158.9 L344.9,1160.2 L345.5,1161.4 L346.0,1162.6 L346.5,1163.8 L347.0,1165.1 L347.5,1166.3 L348.0,1167.5 L348.5,1168.7 L349.0,1169.9 L349.5,1171.2 L350.0,1172.4 L350.5,1173.6 L350.9,1174.9 L351.4,1176.1 L351.9,1177.3 L352.4,1178.5 L352.9,1179.8 L353.4,1181.0 L353.8,1182.2 L354.3,1183.4 L354.8,1184.7 L355.3,1185.9 L355.7,1187.1 L356.2,1188.4 L356.7,1189.6 L357.1,1190.8 L357.6,1192.0 L358.1,1193.3 L358.5,1194.5 L359.0,1195.7 L359.5,1197.0 L359.9,1198.2 L360.4,1199.4 L360.8,1200.7 L361.3,1201.9 L361.7,1203.1 L362.2,1204.4 L362.6,1205.6 L363.1,1206.8 L363.6,1208.1 L364.0,1209.3 L364.5,1210.5 L364.9,1211.8 L365.4,1213.0 L365.8,1214.3 L366.3,1215.5 L366.7,1216.7 L367.2,1218.0 L367.6,1219.2 L368.1,1220.5 L368.5,1221.7 L368.9,1222.9 L369.4,1224.2 L369.8,1225.4 L370.3,1226.7 L370.7,1227.9 L371.2,1229.2 L371.6,1230.4 L372.1,1231.6 L372.5,1232.9 L373.0,1234.1 L373.4,1235.4 L373.9,1236.6 L374.3,1237.9 L374.8,1239.1 L375.2,1240.4 L375.7,1241.6 L376.1,1242.9 L376.6,1244.1 L377.0,1245.4 L377.5,1246.6 L378.0,1247.8 L378.4,1249.1 L378.9,1250.3 L379.3,1251.6 L379.8,1252.8 L380.3,1254.1 L380.7,1255.3 L381.2,1256.6 L381.6,1257.8 L382.1,1259.1 L382.6,1260.3 L383.0,1261.5 L383.5,1262.8 L384.0,1264.0 L384.5,1265.3 L384.9,1266.5 L385.4,1267.7 L385.9,1269.0 L386.4,1270.2 L386.8,1271.5 L387.3,1272.7 L387.8,1273.9 L388.3,1275.2 L388.8,1276.4 L389.3,1277.6 L389.8,1278.9 L390.3,1280.1 L390.7,1281.3 L391.2,1282.5 L391.7,1283.8 L392.2,1285.0 L392.8,1286.2 L393.3,1287.5 L393.8,1288.7 L394.3,1289.9 L394.8,1291.1 L395.3,1292.3 L395.8,1293.6 L396.4,1294.8 L396.9,1296.0 L397.4,1297.2 L397.9,1298.4 L398.5,1299.6 L399.0,1300.8 L399.5,1302.0 L400.1,1303.2 L400.6,1304.4 L401.2,1305.6 L401.7,1306.8 L402.3,1308.0 L402.8,1309.2 L403.4,1310.4 L404.0,1311.6 L404.5,1312.8 L405.1,1314.0 L405.7,1315.2 L406.2,1316.4 L406.8,1317.5 L407.4,1318.7 L408.0,1319.9 L408.6,1321.1 L409.2,1322.3 L409.8,1323.4 L410.4,1324.6 L411.0,1325.8 L411.6,1326.9 L412.2,1328.1 L412.8,1329.2 L413.5,1330.4 L414.1,1331.6 L414.7,1332.7 L415.3,1333.9 L416.0,1335.0 L416.6,1336.2 L417.3,1337.3 L417.9,1338.4 L418.6,1339.6 L419.2,1340.7 L419.9,1341.8 L420.6,1343.0 L421.2,1344.1 L421.9,1345.2 L422.6,1346.3 L423.3,1347.5 L424.0,1348.6 L424.6,1349.7 L425.3,1350.8 L426.0,1351.9 L426.7,1353.0 L427.5,1354.2 L428.2,1355.3 L428.9,1356.4 L429.6,1357.5 L430.3,1358.6 L431.1,1359.7 L431.8,1360.8 L432.5,1361.9 L433.3,1363.0 L434.0,1364.0 L434.8,1365.1 L435.5,1366.2 L436.3,1367.3 L437.0,1368.4 L437.8,1369.5 L438.6,1370.6 L439.3,1371.6 L440.1,1372.7 L440.9,1373.8 L441.7,1374.9 L442.5,1376.0 L443.3,1377.0 L444.1,1378.1 L444.9,1379.2 L445.7,1380.2 L446.5,1381.3 L447.3,1382.4 L448.1,1383.4 L449.0,1384.5 L449.8,1385.6 L450.6,1386.6 L451.5,1387.7 L452.3,1388.7 L453.2,1389.8 L454.0,1390.8 L454.9,1391.9 L455.7,1392.9 L456.6,1394.0 L457.5,1395.0 L458.4,1396.0 L459.2,1397.0 L460.1,1398.1 L461.0,1399.1 L461.9,1400.1 L462.8,1401.1 L463.7,1402.0 L464.7,1403.0 L465.6,1404.0 L466.5,1404.9 L467.5,1405.9 L468.4,1406.8 L469.4,1407.8 L470.3,1408.7 L471.3,1409.6 L472.3,1410.5 L473.3,1411.3 L474.3,1412.2 L475.3,1413.1 L476.3,1413.9 L477.3,1414.7 L478.3,1415.5 L479.3,1416.3 L480.4,1417.1 L481.4,1417.9 L482.5,1418.6 L483.5,1419.3 L484.6,1420.1 L485.7,1420.8 L486.8,1421.4 L487.9,1422.1 L489.0,1422.7 L490.1,1423.3 L491.3,1423.9 L492.4,1424.5 L493.6,1425.1 L494.7,1425.6 L495.9,1426.1 L497.1,1426.6 L498.3,1427.1 L499.5,1427.6 L500.7,1428.0 L501.9,1428.4 L503.1,1428.8 L504.4,1429.1 L505.6,1429.4 L506.9,1429.7 L508.2,1430.0 L509.5,1430.3 L510.8,1430.5 L512.1,1430.7 L513.4,1430.9 L514.7,1431.0 L516.1,1431.2 L517.4,1431.3 L518.8,1431.4 L520.1,1431.5 L521.5,1431.5 L522.8,1431.6 L524.2,1431.6 L525.6,1431.7 L527.0,1431.7 L528.3,1431.7 L529.7,1431.7 L531.1,1431.7 L532.4,1431.7 L533.8,1431.7 L535.2,1431.6 L536.6,1431.6 L537.9,1431.6 L539.3,1431.6 L540.6,1431.5 L542.0,1431.5 L543.3,1431.5 L544.7,1431.5 L546.0,1431.5 L547.3,1431.5 L548.6,1431.5 L550.0,1431.5 L551.3,1431.4 L552.6,1431.4 L553.9,1431.4 L555.2,1431.4 L556.5,1431.4 L557.8,1431.4 L559.1,1431.4 L560.4,1431.4 L561.7,1431.5 L563.0,1431.5 L564.3,1431.5 L565.6,1431.5 L566.9,1431.5 L568.2,1431.5 L569.4,1431.5 L570.7,1431.5 L572.0,1431.5 L573.3,1431.6 L574.6,1431.6 L575.9,1431.6 L577.2,1431.6 L578.5,1431.6 L579.8,1431.6 L581.1,1431.7 L582.4,1431.7 L583.7,1431.7 L585.1,1431.7 L586.4,1431.7 L587.7,1431.8 L589.0,1431.8 L590.3,1431.8 L591.6,1431.8 L593.0,1431.8 L594.3,1431.9 L595.6,1431.9 L596.9,1431.9 L598.3,1431.9 L599.6,1431.9 L600.9,1432.0 L602.3,1432.0 L603.6,1432.0 L604.9,1432.0 L606.3,1432.0 L607.6,1432.1 L608.9,1432.1 L610.3,1432.1 L611.6,1432.1 L613.0,1432.1 L614.3,1432.2 L615.6,1432.2 L617.0,1432.2 L618.3,1432.2 L619.6,1432.2 L621.0,1432.2 L622.3,1432.3 L623.6,1432.3 L625.0,1432.3 L626.3,1432.3 L627.6,1432.3 L629.0,1432.3 L630.3,1432.3 L631.6,1432.3 L633.0,1432.3 L634.3,1432.3 L635.6,1432.3 L636.9,1432.3 L638.3,1432.3 L639.6,1432.3 L640.9,1432.3 L642.2,1432.3 L643.5,1432.3 L644.9,1432.3 L646.2,1432.3 L647.5,1432.3 L648.8,1432.3 L650.1,1432.3 L651.4,1432.3 L652.7,1432.3 L654.0,1432.3" fill="none" stroke="#70ad47" stroke-width="4.8" stroke-linejoin="round"/>
<rect x="50.2" y="10.9" width="605.0" height="331.1" fill="none" stroke="#333333" stroke-width="2"/>
<rect x="50.2" y="438.9" width="605.0" height="331.2" fill="none" stroke="#333333" stroke-width="2"/>
<rect x="50.2" y="770.1" width="605.0" height="331.4" fill="none" stroke="#333333" stroke-width="2"/>
<rect x="50.2" y="1101.5" width="605.0" height="331.8" fill="none" stroke="#333333" stroke-width="2"/>
<line x1="102.6" y1="10.9" x2="102.6" y2="19.4" stroke="#333333" stroke-width="2"/>
<line x1="102.6" y1="342.0" x2="102.6" y2="333.5" stroke="#333333" stroke-width="2"/>
<line x1="208.9" y1="10.9" x2="208.9" y2="19.4" stroke="#333333" stroke-width="2"/>
<line x1="208.9" y1="342.0" x2="208.9" y2="333.5" stroke="#333333" stroke-width="2"/>
<line x1="315.2" y1="10.9" x2="315.2" y2="19.4" stroke="#333333" stroke-width="2"/>
<line x1="315.2" y1="342.0" x2="315.2" y2="333.5" stroke="#333333" stroke-width="2"/>
<line x1="421.5" y1="10.9" x2="421.5" y2="19.4" stroke="#333333" stroke-width="2"/>
<line x1="421.5" y1="342.0" x2="421.5" y2="333.5" stroke="#333333" stroke-width="2"/>
<line x1="527.8" y1="10.9" x2="527.8" y2="19.4" stroke="#333333" stroke-width="2"/>
<line x1="527.8" y1="342.0" x2="527.8" y2="333.5" stroke="#333333" stroke-width="2"/>
<line x1="634.1" y1="10.9" x2="634.1" y2="19.4" stroke="#333333" stroke-width="2"/>
<line x1="634.1" y1="342.0" x2="634.1" y2="333.5" stroke="#333333" stroke-width="2"/>
<line x1="74.7" y1="438.9" x2="74.7" y2="447.4" stroke="#333333" stroke-width="2"/>
<line x1="74.7" y1="770.1" x2="74.7" y2="761.6" stroke="#333333" stroke-width="2"/>
<line x1="200.9" y1="438.9" x2="200.9" y2="447.4" stroke="#333333" stroke-width="2"/>
<line x1="200.9" y1="770.1" x2="200.9" y2="761.6" stroke="#333333" stroke-width="2"/>
<line x1="327.0" y1="438.9" x2="327.0" y2="447.4" stroke="#333333" stroke-width="2"/>
<line x1="327.0" y1="770.1" x2="327.0" y2="761.6" stroke="#333333" stroke-width="2"/>
<line x1="453.2" y1="438.9" x2="453.2" y2="447.4" stroke="#333333" stroke-width="2"/>
<line x1="453.2" y1="770.1" x2="453.2" y2="761.6" stroke="#333333" stroke-width="2"/>
<line x1="579.3" y1="438.9" x2="579.3" y2="447.4" stroke="#333333" stroke-width="2"/>
<line x1="579.3" y1="770.1" x2="579.3" y2="761.6" stroke="#333333" stroke-width="2"/>
<line x1="74.7" y1="770.1" x2="74.7" y2="778.6" stroke="#333333" stroke-width="2"/>
<line x1="74.7" y1="1101.5" x2="74.7" y2="1093.0" stroke="#333333" stroke-width="2"/>
<line x1="200.9" y1="770.1" x2="200.9" y2="778.6" stroke="#333333" stroke-width="2"/>
<line x1="200.9" y1="1101.5" x2="200.9" y2="1093.0" stroke="#333333" stroke-width="2"/>
<line x1="327.0" y1="770.1" x2="327.0" y2="778.6" stroke="#333333" stroke-width="2"/>
<line x1="327.0" y1="1101.5" x2="327.0" y2="1093.0" stroke="#333333" stroke-width="2"/>
<line x1="453.2" y1="770.1" x2="453.2" y2="778.6" stroke="#333333" stroke-width="2"/>
<line x1="453.2" y1="1101.5" x2="453.2" y2="1093.0" stroke="#333333" stroke-width="2"/>
<line x1="579.3" y1="770.1" x2="579.3" y2="778.6" stroke="#333333" stroke-width="2"/>
<line x1="579.3" y1="1101.5" x2="579.3" y2="1093.0" stroke="#333333" stroke-width="2"/>
<line x1="74.7" y1="1101.5" x2="74.7" y2="1110.0" stroke="#333333" stroke-width="2"/>
<line x1="74.7" y1="1433.3" x2="74.7" y2="1424.8" stroke="#333333" stroke-width="2"/>
<line x1="200.9" y1="1101.5" x2="200.9" y2="1110.0" stroke="#333333" stroke-width="2"/>
<line x1="200.9" y1="1433.3" x2="200.9" y2="1424.8" stroke="#333333" stroke-width="2"/>
<line x1="327.0" y1="1101.5" x2="327.0" y2="1110.0" stroke="#333333" stroke-width="2"/>
<line x1="327.0" y1="1433.3" x2="327.0" y2="1424.8" stroke="#333333" stroke-width="2"/>
<line x1="453.2" y1="1101.5" x2="453.2" y2="1110.0" stroke="#333333" stroke-width="2"/>
<line x1="453.2" y1="1433.3" x2="453.2" y2="1424.8" stroke="#333333" stroke-width="2"/>
<line x1="579.3" y1="1101.5" x2="579.3" y2="1110.0" stroke="#333333" stroke-width="2"/>
<line x1="579.3" y1="1433.3" x2="579.3" y2="1424.8" stroke="#333333" stroke-width="2"/>
<text x="102.6" y="370.5" font-size="30.5" text-anchor="middle">2200</text>
<text x="208.9" y="370.5" font-size="30.5" text-anchor="middle">2210</text>
<text x="315.2" y="370.5" font-size="30.5" text-anchor="middle">2220</text>
<text x="421.5" y="370.5" font-size="30.5" text-anchor="middle">2230</text>
<text x="527.8" y="370.5" font-size="30.5" text-anchor="middle">2240</text>
<text x="634.1" y="370.5" font-size="30.5" text-anchor="middle">2250</text>
<text x="74.7" y="1460.3" font-size="30.5" text-anchor="middle">2115</text>
<text x="200.9" y="1460.3" font-size="30.5" text-anchor="middle">2120</text>
<text x="327.0" y="1460.3" font-size="30.5" text-anchor="middle">2125</text>
<text x="453.2" y="1460.3" font-size="30.5" text-anchor="middle">2130</text>
<text x="579.3" y="1460.3" font-size="30.5" text-anchor="middle">2135</text>
<text x="252" y="404.8" font-size="29.3">frequency (cm<tspan font-size="17" dy="-8.5">-1</tspan><tspan dy="8.5">)</tspan></text>
<text x="246" y="1493" font-size="29.3">frequency (cm<tspan font-size="17" dy="-8.5">-1</tspan><tspan dy="8.5">)</tspan></text>
<text transform="translate(45.3,176.4) rotate(-90)" font-size="29.3" text-anchor="middle">Norm. Absorbance</text>
<text transform="translate(45.3,604.5) rotate(-90)" font-size="29.3" text-anchor="middle">Norm. Absorbance</text>
<text transform="translate(45.3,935.8) rotate(-90)" font-size="29.3" text-anchor="middle">Norm. Absorbance</text>
<text transform="translate(45.3,1267.4) rotate(-90)" font-size="29.3" text-anchor="middle">Norm. Absorbance</text>
<text x="3" y="37.5" font-size="29.5" font-weight="bold">a</text>
<text x="1.8" y="460.8" font-size="29.5" font-weight="bold">b</text>
<text x="3" y="797.8" font-size="29.5" font-weight="bold">c</text>
<text x="3.2" y="1123.8" font-size="29.5" font-weight="bold">d</text>
<text x="645" y="43.6" font-weight="bold" font-size="29.2" text-anchor="end" fill="#000">wt</text>
<text x="645" y="78.7" font-weight="bold" font-size="29.2" text-anchor="end" fill="#ff0000">S9A</text>
<text x="645" y="113.7" font-weight="bold" font-size="29.2" text-anchor="end" fill="#0000ff">N34A</text>
<text x="645" y="148.8" font-weight="bold" font-size="29.2" text-anchor="end" fill="#548235">N33A</text>
<text x="644" y="810.0" font-weight="bold" font-size="29.2" text-anchor="end" fill="#000">wt</text>
<text x="644" y="844.8" font-weight="bold" font-size="29.2" text-anchor="end" fill="#ff0000">S9A</text>
<text x="644" y="879.6" font-weight="bold" font-size="29.2" text-anchor="end" fill="#0000ff">N34A</text>
<text x="644" y="914.4" font-weight="bold" font-size="29.2" text-anchor="end" fill="#548235">N33A</text>
<text x="643.5" y="1141.3" font-weight="bold" font-size="29.2" text-anchor="end" fill="#000">wt</text>
<text x="643.5" y="1176.1" font-weight="bold" font-size="29.2" text-anchor="end" fill="#ff0000">S9A</text>
<text x="643.5" y="1211.0" font-weight="bold" font-size="29.2" text-anchor="end" fill="#0000ff">N34A</text>
<text x="643.5" y="1245.8" font-weight="bold" font-size="29.2" text-anchor="end" fill="#548235">N33A</text>
<text x="57.5" y="41.5" font-weight="bold" font-size="29.2"><tspan font-style="italic">d</tspan><tspan font-style="italic" font-size="20" dy="5.5">2</tspan><tspan dy="-5.5">Cys89</tspan></text>
<text x="164" y="309.6" font-weight="bold" font-size="29.2">Cu(I)</text>
<text x="438" y="310.4" font-weight="bold" font-size="29.2">Cu(II)</text>
<text x="56" y="479" font-weight="bold" font-size="29.2">wt <tspan font-style="italic">d</tspan><tspan font-style="italic" font-size="19" dy="6.6">3</tspan><tspan dy="-6.6">Met97</tspan></text>
<text x="645" y="478.3" font-weight="bold" font-size="29.2" text-anchor="end">Cu(II) - solid</text>
<text x="645" y="512.7" font-weight="bold" font-size="29.2" text-anchor="end">Cu(I) - dashed</text>
<text x="63" y="809.9" font-weight="bold" font-size="29.2"><tspan font-style="italic">d</tspan><tspan font-style="italic" font-size="19" dy="6.6">3</tspan><tspan dy="-6.6">Met97</tspan></text>
<text x="63" y="844.8" font-weight="bold" font-size="29.2">Cu(II)</text>
<text x="63" y="1137.2" font-weight="bold" font-size="29.2"><tspan font-style="italic">d</tspan><tspan font-style="italic" font-size="19" dy="6.6">3</tspan><tspan dy="-6.6">Met97</tspan></text>
<text x="63" y="1172.1" font-weight="bold" font-size="29.2">Cu(I)</text>
<line x1="254.2" y1="1303.2" x2="309" y2="1303.2" stroke="#000" stroke-width="4"/>
<path d="M307.2,1293.8 L326.1,1303.2 L307.2,1312.7 Z" fill="#000"/>
</svg></body></html>
